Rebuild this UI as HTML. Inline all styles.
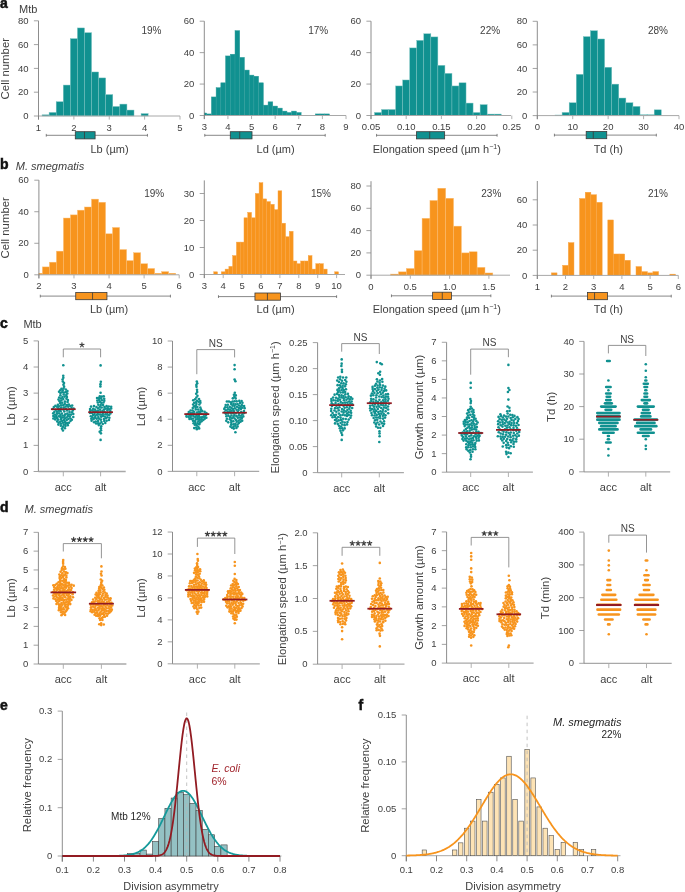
<!DOCTYPE html>
<html><head><meta charset="utf-8"><style>
html,body{margin:0;padding:0;background:#fff;}
body{width:685px;height:892px;overflow:hidden;}
svg{display:block;font-family:'Liberation Sans', sans-serif;will-change:transform;}
</style></head><body>
<svg width="685" height="892" viewBox="0 0 685 892">
<rect width="685" height="892" fill="#fff"/>
<rect x="42.04" y="114.81" width="7.07" height="1.19" fill="#109190" stroke="#7cc4c2" stroke-width="0.45"/>
<rect x="49.11" y="112.43" width="7.08" height="3.57" fill="#109190" stroke="#7cc4c2" stroke-width="0.45"/>
<rect x="56.19" y="101.72" width="7.08" height="14.28" fill="#109190" stroke="#7cc4c2" stroke-width="0.45"/>
<rect x="63.26" y="85.06" width="7.08" height="30.94" fill="#109190" stroke="#7cc4c2" stroke-width="0.45"/>
<rect x="70.34" y="38.65" width="7.07" height="77.35" fill="#109190" stroke="#7cc4c2" stroke-width="0.45"/>
<rect x="77.41" y="27.94" width="7.08" height="88.06" fill="#109190" stroke="#7cc4c2" stroke-width="0.45"/>
<rect x="84.49" y="32.70" width="7.07" height="83.30" fill="#109190" stroke="#7cc4c2" stroke-width="0.45"/>
<rect x="91.56" y="71.97" width="7.08" height="44.03" fill="#109190" stroke="#7cc4c2" stroke-width="0.45"/>
<rect x="98.64" y="77.92" width="7.08" height="38.08" fill="#109190" stroke="#7cc4c2" stroke-width="0.45"/>
<rect x="105.71" y="94.58" width="7.08" height="21.42" fill="#109190" stroke="#7cc4c2" stroke-width="0.45"/>
<rect x="112.79" y="106.48" width="7.08" height="9.52" fill="#109190" stroke="#7cc4c2" stroke-width="0.45"/>
<rect x="119.86" y="104.10" width="7.08" height="11.90" fill="#109190" stroke="#7cc4c2" stroke-width="0.45"/>
<rect x="126.94" y="110.05" width="7.07" height="5.95" fill="#109190" stroke="#7cc4c2" stroke-width="0.45"/>
<rect x="141.09" y="113.62" width="7.07" height="2.38" fill="#109190" stroke="#7cc4c2" stroke-width="0.45"/>
<line x1="38.50" y1="116.00" x2="180.00" y2="116.00" stroke="#a8a8a8" stroke-width="1.0"/>
<line x1="38.50" y1="116.00" x2="38.50" y2="119.60" stroke="#a8a8a8" stroke-width="0.9"/>
<text x="38.50" y="130.60" font-size="9.5" text-anchor="middle" fill="#404040">1</text>
<line x1="73.88" y1="116.00" x2="73.88" y2="119.60" stroke="#a8a8a8" stroke-width="0.9"/>
<text x="73.88" y="130.60" font-size="9.5" text-anchor="middle" fill="#404040">2</text>
<line x1="109.25" y1="116.00" x2="109.25" y2="119.60" stroke="#a8a8a8" stroke-width="0.9"/>
<text x="109.25" y="130.60" font-size="9.5" text-anchor="middle" fill="#404040">3</text>
<line x1="144.62" y1="116.00" x2="144.62" y2="119.60" stroke="#a8a8a8" stroke-width="0.9"/>
<text x="144.62" y="130.60" font-size="9.5" text-anchor="middle" fill="#404040">4</text>
<line x1="180.00" y1="116.00" x2="180.00" y2="119.60" stroke="#a8a8a8" stroke-width="0.9"/>
<text x="180.00" y="130.60" font-size="9.5" text-anchor="middle" fill="#404040">5</text>
<line x1="38.50" y1="20.80" x2="38.50" y2="119.60" stroke="#707070" stroke-width="0.8"/>
<line x1="33.90" y1="116.00" x2="38.50" y2="116.00" stroke="#8c8c8c" stroke-width="0.8"/>
<text x="28.50" y="119.10" font-size="9.5" text-anchor="end" fill="#404040">0</text>
<line x1="33.90" y1="92.20" x2="38.50" y2="92.20" stroke="#8c8c8c" stroke-width="0.8"/>
<text x="28.50" y="95.30" font-size="9.5" text-anchor="end" fill="#404040">20</text>
<line x1="33.90" y1="68.40" x2="38.50" y2="68.40" stroke="#8c8c8c" stroke-width="0.8"/>
<text x="28.50" y="71.50" font-size="9.5" text-anchor="end" fill="#404040">40</text>
<line x1="33.90" y1="44.60" x2="38.50" y2="44.60" stroke="#8c8c8c" stroke-width="0.8"/>
<text x="28.50" y="47.70" font-size="9.5" text-anchor="end" fill="#404040">60</text>
<line x1="33.90" y1="20.80" x2="38.50" y2="20.80" stroke="#8c8c8c" stroke-width="0.8"/>
<text x="28.50" y="23.90" font-size="9.5" text-anchor="end" fill="#404040">80</text>
<line x1="46.28" y1="135.30" x2="147.45" y2="135.30" stroke="#555" stroke-width="0.7"/>
<line x1="46.28" y1="133.90" x2="46.28" y2="136.70" stroke="#555" stroke-width="0.7"/>
<line x1="147.45" y1="133.90" x2="147.45" y2="136.70" stroke="#555" stroke-width="0.7"/>
<rect x="75.29" y="131.70" width="19.81" height="7.2" fill="#109190" stroke="#3a3a3a" stroke-width="0.8"/>
<line x1="84.49" y1="131.70" x2="84.49" y2="138.90" stroke="#3a3a3a" stroke-width="0.8"/>
<text x="161.40" y="34.00" font-size="10" text-anchor="end" fill="#404040">19%</text>
<text x="109.50" y="152.50" font-size="11" text-anchor="middle" fill="#404040">Lb (µm)</text>
<rect x="204.30" y="112.99" width="2.36" height="2.51" fill="#109190" stroke="#2f9e9c" stroke-width="0.45"/>
<rect x="206.66" y="113.93" width="4.72" height="1.57" fill="#109190" stroke="#2f9e9c" stroke-width="0.45"/>
<rect x="211.39" y="96.95" width="4.72" height="18.55" fill="#109190" stroke="#2f9e9c" stroke-width="0.45"/>
<rect x="216.11" y="87.68" width="4.72" height="27.82" fill="#109190" stroke="#2f9e9c" stroke-width="0.45"/>
<rect x="220.83" y="82.81" width="4.72" height="32.69" fill="#109190" stroke="#2f9e9c" stroke-width="0.45"/>
<rect x="225.56" y="55.93" width="4.72" height="59.57" fill="#109190" stroke="#2f9e9c" stroke-width="0.45"/>
<rect x="230.28" y="54.21" width="4.72" height="61.29" fill="#109190" stroke="#2f9e9c" stroke-width="0.45"/>
<rect x="235.01" y="30.63" width="4.72" height="84.87" fill="#109190" stroke="#2f9e9c" stroke-width="0.45"/>
<rect x="239.73" y="57.35" width="4.72" height="58.15" fill="#109190" stroke="#2f9e9c" stroke-width="0.45"/>
<rect x="244.45" y="70.08" width="4.72" height="45.42" fill="#109190" stroke="#2f9e9c" stroke-width="0.45"/>
<rect x="249.18" y="75.11" width="4.72" height="40.39" fill="#109190" stroke="#2f9e9c" stroke-width="0.45"/>
<rect x="253.90" y="76.21" width="4.72" height="39.29" fill="#109190" stroke="#2f9e9c" stroke-width="0.45"/>
<rect x="258.63" y="82.81" width="4.72" height="32.69" fill="#109190" stroke="#2f9e9c" stroke-width="0.45"/>
<rect x="263.35" y="105.13" width="4.72" height="10.37" fill="#109190" stroke="#2f9e9c" stroke-width="0.45"/>
<rect x="268.07" y="101.83" width="4.72" height="13.67" fill="#109190" stroke="#2f9e9c" stroke-width="0.45"/>
<rect x="272.80" y="106.07" width="4.72" height="9.43" fill="#109190" stroke="#2f9e9c" stroke-width="0.45"/>
<rect x="277.52" y="108.11" width="4.72" height="7.39" fill="#109190" stroke="#2f9e9c" stroke-width="0.45"/>
<rect x="282.25" y="111.10" width="4.72" height="4.40" fill="#109190" stroke="#2f9e9c" stroke-width="0.45"/>
<rect x="286.97" y="112.51" width="4.72" height="2.99" fill="#109190" stroke="#2f9e9c" stroke-width="0.45"/>
<rect x="291.69" y="111.10" width="4.72" height="4.40" fill="#109190" stroke="#2f9e9c" stroke-width="0.45"/>
<rect x="296.42" y="112.51" width="4.72" height="2.99" fill="#109190" stroke="#2f9e9c" stroke-width="0.45"/>
<rect x="315.31" y="113.93" width="4.72" height="1.57" fill="#109190" stroke="#2f9e9c" stroke-width="0.45"/>
<rect x="320.04" y="113.93" width="4.72" height="1.57" fill="#109190" stroke="#2f9e9c" stroke-width="0.45"/>
<rect x="324.76" y="113.93" width="4.72" height="1.57" fill="#109190" stroke="#2f9e9c" stroke-width="0.45"/>
<line x1="204.30" y1="115.50" x2="346.00" y2="115.50" stroke="#a8a8a8" stroke-width="1.0"/>
<line x1="204.30" y1="115.50" x2="204.30" y2="119.10" stroke="#a8a8a8" stroke-width="0.9"/>
<text x="204.30" y="130.10" font-size="9.5" text-anchor="middle" fill="#404040">3</text>
<line x1="227.92" y1="115.50" x2="227.92" y2="119.10" stroke="#a8a8a8" stroke-width="0.9"/>
<text x="227.92" y="130.10" font-size="9.5" text-anchor="middle" fill="#404040">4</text>
<line x1="251.54" y1="115.50" x2="251.54" y2="119.10" stroke="#a8a8a8" stroke-width="0.9"/>
<text x="251.54" y="130.10" font-size="9.5" text-anchor="middle" fill="#404040">5</text>
<line x1="275.16" y1="115.50" x2="275.16" y2="119.10" stroke="#a8a8a8" stroke-width="0.9"/>
<text x="275.16" y="130.10" font-size="9.5" text-anchor="middle" fill="#404040">6</text>
<line x1="298.78" y1="115.50" x2="298.78" y2="119.10" stroke="#a8a8a8" stroke-width="0.9"/>
<text x="298.78" y="130.10" font-size="9.5" text-anchor="middle" fill="#404040">7</text>
<line x1="322.40" y1="115.50" x2="322.40" y2="119.10" stroke="#a8a8a8" stroke-width="0.9"/>
<text x="322.40" y="130.10" font-size="9.5" text-anchor="middle" fill="#404040">8</text>
<line x1="346.02" y1="115.50" x2="346.02" y2="119.10" stroke="#a8a8a8" stroke-width="0.9"/>
<text x="346.02" y="130.10" font-size="9.5" text-anchor="middle" fill="#404040">9</text>
<line x1="204.30" y1="21.20" x2="204.30" y2="119.10" stroke="#707070" stroke-width="0.8"/>
<line x1="199.70" y1="115.50" x2="204.30" y2="115.50" stroke="#8c8c8c" stroke-width="0.8"/>
<text x="194.30" y="118.60" font-size="9.5" text-anchor="end" fill="#404040">0</text>
<line x1="199.70" y1="84.07" x2="204.30" y2="84.07" stroke="#8c8c8c" stroke-width="0.8"/>
<text x="194.30" y="87.17" font-size="9.5" text-anchor="end" fill="#404040">20</text>
<line x1="199.70" y1="52.63" x2="204.30" y2="52.63" stroke="#8c8c8c" stroke-width="0.8"/>
<text x="194.30" y="55.73" font-size="9.5" text-anchor="end" fill="#404040">40</text>
<line x1="199.70" y1="21.20" x2="204.30" y2="21.20" stroke="#8c8c8c" stroke-width="0.8"/>
<text x="194.30" y="24.30" font-size="9.5" text-anchor="end" fill="#404040">60</text>
<line x1="204.77" y1="135.30" x2="325.23" y2="135.30" stroke="#555" stroke-width="0.7"/>
<line x1="204.77" y1="133.90" x2="204.77" y2="136.70" stroke="#555" stroke-width="0.7"/>
<line x1="325.23" y1="133.90" x2="325.23" y2="136.70" stroke="#555" stroke-width="0.7"/>
<rect x="230.28" y="131.70" width="21.73" height="7.2" fill="#109190" stroke="#3a3a3a" stroke-width="0.8"/>
<line x1="239.73" y1="131.70" x2="239.73" y2="138.90" stroke="#3a3a3a" stroke-width="0.8"/>
<text x="328.20" y="34.00" font-size="10" text-anchor="end" fill="#404040">17%</text>
<text x="275.60" y="152.50" font-size="11" text-anchor="middle" fill="#404040">Ld (µm)</text>
<rect x="374.52" y="112.51" width="7.04" height="2.99" fill="#109190" stroke="#7cc4c2" stroke-width="0.45"/>
<rect x="381.56" y="109.53" width="7.04" height="5.97" fill="#109190" stroke="#7cc4c2" stroke-width="0.45"/>
<rect x="388.60" y="109.53" width="7.04" height="5.97" fill="#109190" stroke="#7cc4c2" stroke-width="0.45"/>
<rect x="395.64" y="85.95" width="7.04" height="29.55" fill="#109190" stroke="#7cc4c2" stroke-width="0.45"/>
<rect x="402.68" y="79.98" width="7.04" height="35.52" fill="#109190" stroke="#7cc4c2" stroke-width="0.45"/>
<rect x="409.72" y="47.92" width="7.04" height="67.58" fill="#109190" stroke="#7cc4c2" stroke-width="0.45"/>
<rect x="416.76" y="40.37" width="7.04" height="75.13" fill="#109190" stroke="#7cc4c2" stroke-width="0.45"/>
<rect x="423.80" y="33.77" width="7.04" height="81.73" fill="#109190" stroke="#7cc4c2" stroke-width="0.45"/>
<rect x="430.84" y="36.92" width="7.04" height="78.58" fill="#109190" stroke="#7cc4c2" stroke-width="0.45"/>
<rect x="437.88" y="65.36" width="7.04" height="50.14" fill="#109190" stroke="#7cc4c2" stroke-width="0.45"/>
<rect x="444.92" y="73.38" width="7.04" height="42.12" fill="#109190" stroke="#7cc4c2" stroke-width="0.45"/>
<rect x="451.96" y="85.95" width="7.04" height="29.55" fill="#109190" stroke="#7cc4c2" stroke-width="0.45"/>
<rect x="459.00" y="82.81" width="7.04" height="32.69" fill="#109190" stroke="#7cc4c2" stroke-width="0.45"/>
<rect x="466.04" y="103.08" width="7.04" height="12.42" fill="#109190" stroke="#7cc4c2" stroke-width="0.45"/>
<rect x="473.08" y="112.51" width="7.04" height="2.99" fill="#109190" stroke="#7cc4c2" stroke-width="0.45"/>
<rect x="480.12" y="104.66" width="7.04" height="10.84" fill="#109190" stroke="#7cc4c2" stroke-width="0.45"/>
<rect x="487.16" y="114.09" width="7.04" height="1.41" fill="#109190" stroke="#7cc4c2" stroke-width="0.45"/>
<rect x="494.20" y="114.09" width="7.04" height="1.41" fill="#109190" stroke="#7cc4c2" stroke-width="0.45"/>
<line x1="371.00" y1="115.50" x2="511.00" y2="115.50" stroke="#a8a8a8" stroke-width="1.0"/>
<line x1="371.00" y1="115.50" x2="371.00" y2="119.10" stroke="#a8a8a8" stroke-width="0.9"/>
<text x="371.00" y="130.10" font-size="9.5" text-anchor="middle" fill="#404040">0.05</text>
<line x1="406.20" y1="115.50" x2="406.20" y2="119.10" stroke="#a8a8a8" stroke-width="0.9"/>
<text x="406.20" y="130.10" font-size="9.5" text-anchor="middle" fill="#404040">0.10</text>
<line x1="441.40" y1="115.50" x2="441.40" y2="119.10" stroke="#a8a8a8" stroke-width="0.9"/>
<text x="441.40" y="130.10" font-size="9.5" text-anchor="middle" fill="#404040">0.15</text>
<line x1="476.60" y1="115.50" x2="476.60" y2="119.10" stroke="#a8a8a8" stroke-width="0.9"/>
<text x="476.60" y="130.10" font-size="9.5" text-anchor="middle" fill="#404040">0.20</text>
<line x1="511.80" y1="115.50" x2="511.80" y2="119.10" stroke="#a8a8a8" stroke-width="0.9"/>
<text x="511.80" y="130.10" font-size="9.5" text-anchor="middle" fill="#404040">0.25</text>
<line x1="371.00" y1="21.20" x2="371.00" y2="119.10" stroke="#707070" stroke-width="0.8"/>
<line x1="366.40" y1="115.50" x2="371.00" y2="115.50" stroke="#8c8c8c" stroke-width="0.8"/>
<text x="361.00" y="118.60" font-size="9.5" text-anchor="end" fill="#404040">0</text>
<line x1="366.40" y1="84.07" x2="371.00" y2="84.07" stroke="#8c8c8c" stroke-width="0.8"/>
<text x="361.00" y="87.17" font-size="9.5" text-anchor="end" fill="#404040">20</text>
<line x1="366.40" y1="52.63" x2="371.00" y2="52.63" stroke="#8c8c8c" stroke-width="0.8"/>
<text x="361.00" y="55.73" font-size="9.5" text-anchor="end" fill="#404040">40</text>
<line x1="366.40" y1="21.20" x2="371.00" y2="21.20" stroke="#8c8c8c" stroke-width="0.8"/>
<text x="361.00" y="24.30" font-size="9.5" text-anchor="end" fill="#404040">60</text>
<line x1="376.56" y1="135.30" x2="497.09" y2="135.30" stroke="#555" stroke-width="0.7"/>
<line x1="376.56" y1="133.90" x2="376.56" y2="136.70" stroke="#555" stroke-width="0.7"/>
<line x1="497.09" y1="133.90" x2="497.09" y2="136.70" stroke="#555" stroke-width="0.7"/>
<rect x="416.48" y="131.70" width="28.16" height="7.2" fill="#109190" stroke="#3a3a3a" stroke-width="0.8"/>
<line x1="429.71" y1="131.70" x2="429.71" y2="138.90" stroke="#3a3a3a" stroke-width="0.8"/>
<text x="500.10" y="34.00" font-size="10" text-anchor="end" fill="#404040">22%</text>
<text x="436.80" y="152.50" font-size="11" text-anchor="middle" fill="#404040">Elongation speed (µm h<tspan dy="-3.5" font-size="7">−1</tspan><tspan dy="3.5">)</tspan></text>
<rect x="555.01" y="115.01" width="7.09" height="0.59" fill="#109190" stroke="#7cc4c2" stroke-width="0.45"/>
<rect x="562.10" y="112.42" width="7.09" height="3.18" fill="#109190" stroke="#7cc4c2" stroke-width="0.45"/>
<rect x="569.18" y="102.75" width="7.08" height="12.85" fill="#109190" stroke="#7cc4c2" stroke-width="0.45"/>
<rect x="576.27" y="74.34" width="7.09" height="41.26" fill="#109190" stroke="#7cc4c2" stroke-width="0.45"/>
<rect x="583.35" y="36.62" width="7.09" height="78.98" fill="#109190" stroke="#7cc4c2" stroke-width="0.45"/>
<rect x="590.44" y="30.73" width="7.08" height="84.87" fill="#109190" stroke="#7cc4c2" stroke-width="0.45"/>
<rect x="597.52" y="38.98" width="7.09" height="76.62" fill="#109190" stroke="#7cc4c2" stroke-width="0.45"/>
<rect x="604.61" y="67.27" width="7.09" height="48.33" fill="#109190" stroke="#7cc4c2" stroke-width="0.45"/>
<rect x="611.69" y="84.13" width="7.08" height="31.47" fill="#109190" stroke="#7cc4c2" stroke-width="0.45"/>
<rect x="618.78" y="98.04" width="7.09" height="17.56" fill="#109190" stroke="#7cc4c2" stroke-width="0.45"/>
<rect x="625.86" y="102.75" width="7.09" height="12.85" fill="#109190" stroke="#7cc4c2" stroke-width="0.45"/>
<rect x="632.95" y="106.41" width="7.08" height="9.19" fill="#109190" stroke="#7cc4c2" stroke-width="0.45"/>
<rect x="640.03" y="114.77" width="7.09" height="0.83" fill="#109190" stroke="#7cc4c2" stroke-width="0.45"/>
<rect x="647.12" y="114.77" width="7.09" height="0.83" fill="#109190" stroke="#7cc4c2" stroke-width="0.45"/>
<rect x="654.20" y="109.82" width="7.08" height="5.78" fill="#109190" stroke="#7cc4c2" stroke-width="0.45"/>
<line x1="537.30" y1="115.60" x2="679.00" y2="115.60" stroke="#a8a8a8" stroke-width="1.0"/>
<line x1="537.30" y1="115.60" x2="537.30" y2="119.20" stroke="#a8a8a8" stroke-width="0.9"/>
<text x="537.30" y="130.20" font-size="9.5" text-anchor="middle" fill="#404040">0</text>
<line x1="572.72" y1="115.60" x2="572.72" y2="119.20" stroke="#a8a8a8" stroke-width="0.9"/>
<text x="572.72" y="130.20" font-size="9.5" text-anchor="middle" fill="#404040">10</text>
<line x1="608.15" y1="115.60" x2="608.15" y2="119.20" stroke="#a8a8a8" stroke-width="0.9"/>
<text x="608.15" y="130.20" font-size="9.5" text-anchor="middle" fill="#404040">20</text>
<line x1="643.57" y1="115.60" x2="643.57" y2="119.20" stroke="#a8a8a8" stroke-width="0.9"/>
<text x="643.57" y="130.20" font-size="9.5" text-anchor="middle" fill="#404040">30</text>
<line x1="679.00" y1="115.60" x2="679.00" y2="119.20" stroke="#a8a8a8" stroke-width="0.9"/>
<text x="679.00" y="130.20" font-size="9.5" text-anchor="middle" fill="#404040">40</text>
<line x1="537.30" y1="21.30" x2="537.30" y2="119.20" stroke="#707070" stroke-width="0.8"/>
<line x1="532.70" y1="115.60" x2="537.30" y2="115.60" stroke="#8c8c8c" stroke-width="0.8"/>
<text x="527.30" y="118.70" font-size="9.5" text-anchor="end" fill="#404040">0</text>
<line x1="532.70" y1="92.02" x2="537.30" y2="92.02" stroke="#8c8c8c" stroke-width="0.8"/>
<text x="527.30" y="95.12" font-size="9.5" text-anchor="end" fill="#404040">20</text>
<line x1="532.70" y1="68.45" x2="537.30" y2="68.45" stroke="#8c8c8c" stroke-width="0.8"/>
<text x="527.30" y="71.55" font-size="9.5" text-anchor="end" fill="#404040">40</text>
<line x1="532.70" y1="44.88" x2="537.30" y2="44.88" stroke="#8c8c8c" stroke-width="0.8"/>
<text x="527.30" y="47.98" font-size="9.5" text-anchor="end" fill="#404040">60</text>
<line x1="532.70" y1="21.30" x2="537.30" y2="21.30" stroke="#8c8c8c" stroke-width="0.8"/>
<text x="527.30" y="24.40" font-size="9.5" text-anchor="end" fill="#404040">80</text>
<line x1="554.41" y1="135.10" x2="656.33" y2="135.10" stroke="#555" stroke-width="0.7"/>
<line x1="554.41" y1="133.70" x2="554.41" y2="136.50" stroke="#555" stroke-width="0.7"/>
<line x1="656.33" y1="133.70" x2="656.33" y2="136.50" stroke="#555" stroke-width="0.7"/>
<rect x="586.19" y="131.50" width="20.55" height="7.2" fill="#109190" stroke="#3a3a3a" stroke-width="0.8"/>
<line x1="593.27" y1="131.50" x2="593.27" y2="138.70" stroke="#3a3a3a" stroke-width="0.8"/>
<text x="668.00" y="34.00" font-size="10" text-anchor="end" fill="#404040">28%</text>
<text x="608.30" y="152.50" font-size="11" text-anchor="middle" fill="#404040">Td (h)</text>
<rect x="38.90" y="273.22" width="3.51" height="1.58" fill="#f7941d" stroke="#fbbd72" stroke-width="0.45"/>
<rect x="42.41" y="266.92" width="7.02" height="7.88" fill="#f7941d" stroke="#fbbd72" stroke-width="0.45"/>
<rect x="49.42" y="262.19" width="7.01" height="12.61" fill="#f7941d" stroke="#fbbd72" stroke-width="0.45"/>
<rect x="56.44" y="251.15" width="7.02" height="23.65" fill="#f7941d" stroke="#fbbd72" stroke-width="0.45"/>
<rect x="63.45" y="218.04" width="7.02" height="56.76" fill="#f7941d" stroke="#fbbd72" stroke-width="0.45"/>
<rect x="70.47" y="214.89" width="7.01" height="59.91" fill="#f7941d" stroke="#fbbd72" stroke-width="0.45"/>
<rect x="77.48" y="210.16" width="7.02" height="64.64" fill="#f7941d" stroke="#fbbd72" stroke-width="0.45"/>
<rect x="84.50" y="207.00" width="7.02" height="67.80" fill="#f7941d" stroke="#fbbd72" stroke-width="0.45"/>
<rect x="91.51" y="199.12" width="7.02" height="75.68" fill="#f7941d" stroke="#fbbd72" stroke-width="0.45"/>
<rect x="98.53" y="202.27" width="7.02" height="72.53" fill="#f7941d" stroke="#fbbd72" stroke-width="0.45"/>
<rect x="105.54" y="233.81" width="7.01" height="40.99" fill="#f7941d" stroke="#fbbd72" stroke-width="0.45"/>
<rect x="112.56" y="227.50" width="7.02" height="47.30" fill="#f7941d" stroke="#fbbd72" stroke-width="0.45"/>
<rect x="119.57" y="249.57" width="7.01" height="25.23" fill="#f7941d" stroke="#fbbd72" stroke-width="0.45"/>
<rect x="126.59" y="260.61" width="7.02" height="14.19" fill="#f7941d" stroke="#fbbd72" stroke-width="0.45"/>
<rect x="133.60" y="252.73" width="7.01" height="22.07" fill="#f7941d" stroke="#fbbd72" stroke-width="0.45"/>
<rect x="140.62" y="263.76" width="7.01" height="11.04" fill="#f7941d" stroke="#fbbd72" stroke-width="0.45"/>
<rect x="147.63" y="268.49" width="7.02" height="6.31" fill="#f7941d" stroke="#fbbd72" stroke-width="0.45"/>
<rect x="154.65" y="273.22" width="7.01" height="1.58" fill="#f7941d" stroke="#fbbd72" stroke-width="0.45"/>
<rect x="161.66" y="271.65" width="7.01" height="3.15" fill="#f7941d" stroke="#fbbd72" stroke-width="0.45"/>
<rect x="168.68" y="273.22" width="7.02" height="1.58" fill="#f7941d" stroke="#fbbd72" stroke-width="0.45"/>
<line x1="38.90" y1="274.80" x2="179.20" y2="274.80" stroke="#a8a8a8" stroke-width="1.0"/>
<line x1="38.90" y1="274.80" x2="38.90" y2="278.40" stroke="#a8a8a8" stroke-width="0.9"/>
<text x="38.90" y="289.40" font-size="9.5" text-anchor="middle" fill="#404040">2</text>
<line x1="73.97" y1="274.80" x2="73.97" y2="278.40" stroke="#a8a8a8" stroke-width="0.9"/>
<text x="73.97" y="289.40" font-size="9.5" text-anchor="middle" fill="#404040">3</text>
<line x1="109.05" y1="274.80" x2="109.05" y2="278.40" stroke="#a8a8a8" stroke-width="0.9"/>
<text x="109.05" y="289.40" font-size="9.5" text-anchor="middle" fill="#404040">4</text>
<line x1="144.12" y1="274.80" x2="144.12" y2="278.40" stroke="#a8a8a8" stroke-width="0.9"/>
<text x="144.12" y="289.40" font-size="9.5" text-anchor="middle" fill="#404040">5</text>
<line x1="179.20" y1="274.80" x2="179.20" y2="278.40" stroke="#a8a8a8" stroke-width="0.9"/>
<text x="179.20" y="289.40" font-size="9.5" text-anchor="middle" fill="#404040">6</text>
<line x1="38.90" y1="180.20" x2="38.90" y2="278.40" stroke="#707070" stroke-width="0.8"/>
<line x1="34.30" y1="274.80" x2="38.90" y2="274.80" stroke="#8c8c8c" stroke-width="0.8"/>
<text x="28.90" y="277.90" font-size="9.5" text-anchor="end" fill="#404040">0</text>
<line x1="34.30" y1="243.27" x2="38.90" y2="243.27" stroke="#8c8c8c" stroke-width="0.8"/>
<text x="28.90" y="246.37" font-size="9.5" text-anchor="end" fill="#404040">20</text>
<line x1="34.30" y1="211.73" x2="38.90" y2="211.73" stroke="#8c8c8c" stroke-width="0.8"/>
<text x="28.90" y="214.83" font-size="9.5" text-anchor="end" fill="#404040">40</text>
<line x1="34.30" y1="180.20" x2="38.90" y2="180.20" stroke="#8c8c8c" stroke-width="0.8"/>
<text x="28.90" y="183.30" font-size="9.5" text-anchor="end" fill="#404040">60</text>
<line x1="40.30" y1="296.10" x2="170.43" y2="296.10" stroke="#555" stroke-width="0.7"/>
<line x1="40.30" y1="294.70" x2="40.30" y2="297.50" stroke="#555" stroke-width="0.7"/>
<line x1="170.43" y1="294.70" x2="170.43" y2="297.50" stroke="#555" stroke-width="0.7"/>
<rect x="75.73" y="292.50" width="31.22" height="7.2" fill="#f7941d" stroke="#3a3a3a" stroke-width="0.8"/>
<line x1="92.56" y1="292.50" x2="92.56" y2="299.70" stroke="#3a3a3a" stroke-width="0.8"/>
<text x="164.20" y="196.80" font-size="10" text-anchor="end" fill="#404040">19%</text>
<text x="109.00" y="312.50" font-size="11" text-anchor="middle" fill="#404040">Lb (µm)</text>
<rect x="213.75" y="271.80" width="3.78" height="2.70" fill="#f7941d" stroke="#f8a444" stroke-width="0.45"/>
<rect x="221.31" y="271.80" width="3.78" height="2.70" fill="#f7941d" stroke="#f8a444" stroke-width="0.45"/>
<rect x="225.09" y="269.10" width="3.78" height="5.40" fill="#f7941d" stroke="#f8a444" stroke-width="0.45"/>
<rect x="228.87" y="266.40" width="3.78" height="8.10" fill="#f7941d" stroke="#f8a444" stroke-width="0.45"/>
<rect x="232.65" y="255.60" width="3.78" height="18.90" fill="#f7941d" stroke="#f8a444" stroke-width="0.45"/>
<rect x="236.43" y="242.10" width="3.78" height="32.40" fill="#f7941d" stroke="#f8a444" stroke-width="0.45"/>
<rect x="240.21" y="242.10" width="3.78" height="32.40" fill="#f7941d" stroke="#f8a444" stroke-width="0.45"/>
<rect x="243.99" y="217.80" width="3.78" height="56.70" fill="#f7941d" stroke="#f8a444" stroke-width="0.45"/>
<rect x="247.77" y="212.40" width="3.78" height="62.10" fill="#f7941d" stroke="#f8a444" stroke-width="0.45"/>
<rect x="251.55" y="217.80" width="3.78" height="56.70" fill="#f7941d" stroke="#f8a444" stroke-width="0.45"/>
<rect x="255.33" y="193.50" width="3.78" height="81.00" fill="#f7941d" stroke="#f8a444" stroke-width="0.45"/>
<rect x="259.11" y="182.70" width="3.78" height="91.80" fill="#f7941d" stroke="#f8a444" stroke-width="0.45"/>
<rect x="262.89" y="198.90" width="3.78" height="75.60" fill="#f7941d" stroke="#f8a444" stroke-width="0.45"/>
<rect x="266.67" y="201.60" width="3.78" height="72.90" fill="#f7941d" stroke="#f8a444" stroke-width="0.45"/>
<rect x="270.45" y="204.30" width="3.78" height="70.20" fill="#f7941d" stroke="#f8a444" stroke-width="0.45"/>
<rect x="274.23" y="209.70" width="3.78" height="64.80" fill="#f7941d" stroke="#f8a444" stroke-width="0.45"/>
<rect x="278.01" y="190.80" width="3.78" height="83.70" fill="#f7941d" stroke="#f8a444" stroke-width="0.45"/>
<rect x="281.79" y="223.20" width="3.78" height="51.30" fill="#f7941d" stroke="#f8a444" stroke-width="0.45"/>
<rect x="285.57" y="236.70" width="3.78" height="37.80" fill="#f7941d" stroke="#f8a444" stroke-width="0.45"/>
<rect x="289.35" y="231.30" width="3.78" height="43.20" fill="#f7941d" stroke="#f8a444" stroke-width="0.45"/>
<rect x="293.13" y="261.00" width="3.78" height="13.50" fill="#f7941d" stroke="#f8a444" stroke-width="0.45"/>
<rect x="296.91" y="263.70" width="3.78" height="10.80" fill="#f7941d" stroke="#f8a444" stroke-width="0.45"/>
<rect x="300.69" y="261.00" width="3.78" height="13.50" fill="#f7941d" stroke="#f8a444" stroke-width="0.45"/>
<rect x="304.47" y="261.00" width="3.78" height="13.50" fill="#f7941d" stroke="#f8a444" stroke-width="0.45"/>
<rect x="308.25" y="255.60" width="3.78" height="18.90" fill="#f7941d" stroke="#f8a444" stroke-width="0.45"/>
<rect x="312.03" y="269.10" width="3.78" height="5.40" fill="#f7941d" stroke="#f8a444" stroke-width="0.45"/>
<rect x="315.81" y="263.70" width="3.78" height="10.80" fill="#f7941d" stroke="#f8a444" stroke-width="0.45"/>
<rect x="319.59" y="263.70" width="3.78" height="10.80" fill="#f7941d" stroke="#f8a444" stroke-width="0.45"/>
<rect x="323.37" y="269.10" width="3.78" height="5.40" fill="#f7941d" stroke="#f8a444" stroke-width="0.45"/>
<rect x="334.71" y="271.80" width="3.78" height="2.70" fill="#f7941d" stroke="#f8a444" stroke-width="0.45"/>
<line x1="204.30" y1="274.50" x2="345.00" y2="274.50" stroke="#a8a8a8" stroke-width="1.0"/>
<line x1="204.30" y1="274.50" x2="204.30" y2="278.10" stroke="#a8a8a8" stroke-width="0.9"/>
<text x="204.30" y="289.10" font-size="9.5" text-anchor="middle" fill="#404040">3</text>
<line x1="223.20" y1="274.50" x2="223.20" y2="278.10" stroke="#a8a8a8" stroke-width="0.9"/>
<text x="223.20" y="289.10" font-size="9.5" text-anchor="middle" fill="#404040">4</text>
<line x1="242.10" y1="274.50" x2="242.10" y2="278.10" stroke="#a8a8a8" stroke-width="0.9"/>
<text x="242.10" y="289.10" font-size="9.5" text-anchor="middle" fill="#404040">5</text>
<line x1="261.00" y1="274.50" x2="261.00" y2="278.10" stroke="#a8a8a8" stroke-width="0.9"/>
<text x="261.00" y="289.10" font-size="9.5" text-anchor="middle" fill="#404040">6</text>
<line x1="279.90" y1="274.50" x2="279.90" y2="278.10" stroke="#a8a8a8" stroke-width="0.9"/>
<text x="279.90" y="289.10" font-size="9.5" text-anchor="middle" fill="#404040">7</text>
<line x1="298.80" y1="274.50" x2="298.80" y2="278.10" stroke="#a8a8a8" stroke-width="0.9"/>
<text x="298.80" y="289.10" font-size="9.5" text-anchor="middle" fill="#404040">8</text>
<line x1="317.70" y1="274.50" x2="317.70" y2="278.10" stroke="#a8a8a8" stroke-width="0.9"/>
<text x="317.70" y="289.10" font-size="9.5" text-anchor="middle" fill="#404040">9</text>
<line x1="336.60" y1="274.50" x2="336.60" y2="278.10" stroke="#a8a8a8" stroke-width="0.9"/>
<text x="336.60" y="289.10" font-size="9.5" text-anchor="middle" fill="#404040">10</text>
<line x1="204.30" y1="180.40" x2="204.30" y2="278.10" stroke="#707070" stroke-width="0.8"/>
<line x1="199.70" y1="274.50" x2="204.30" y2="274.50" stroke="#8c8c8c" stroke-width="0.8"/>
<text x="194.30" y="277.60" font-size="9.5" text-anchor="end" fill="#404040">0</text>
<line x1="199.70" y1="247.50" x2="204.30" y2="247.50" stroke="#8c8c8c" stroke-width="0.8"/>
<text x="194.30" y="250.60" font-size="9.5" text-anchor="end" fill="#404040">10</text>
<line x1="199.70" y1="220.50" x2="204.30" y2="220.50" stroke="#8c8c8c" stroke-width="0.8"/>
<text x="194.30" y="223.60" font-size="9.5" text-anchor="end" fill="#404040">20</text>
<line x1="199.70" y1="193.50" x2="204.30" y2="193.50" stroke="#8c8c8c" stroke-width="0.8"/>
<text x="194.30" y="196.60" font-size="9.5" text-anchor="end" fill="#404040">30</text>
<line x1="218.48" y1="296.60" x2="336.60" y2="296.60" stroke="#555" stroke-width="0.7"/>
<line x1="218.48" y1="295.20" x2="218.48" y2="298.00" stroke="#555" stroke-width="0.7"/>
<line x1="336.60" y1="295.20" x2="336.60" y2="298.00" stroke="#555" stroke-width="0.7"/>
<rect x="254.95" y="293.00" width="25.51" height="7.2" fill="#f7941d" stroke="#3a3a3a" stroke-width="0.8"/>
<line x1="267.43" y1="293.00" x2="267.43" y2="300.20" stroke="#3a3a3a" stroke-width="0.8"/>
<text x="331.00" y="196.80" font-size="10" text-anchor="end" fill="#404040">15%</text>
<text x="275.60" y="312.50" font-size="11" text-anchor="middle" fill="#404040">Ld (µm)</text>
<rect x="390.65" y="274.08" width="7.86" height="1.12" fill="#f7941d" stroke="#fbbd72" stroke-width="0.45"/>
<rect x="398.51" y="271.85" width="7.86" height="3.35" fill="#f7941d" stroke="#fbbd72" stroke-width="0.45"/>
<rect x="406.37" y="268.51" width="7.86" height="6.69" fill="#f7941d" stroke="#fbbd72" stroke-width="0.45"/>
<rect x="414.23" y="250.67" width="7.86" height="24.53" fill="#f7941d" stroke="#fbbd72" stroke-width="0.45"/>
<rect x="422.09" y="218.33" width="7.86" height="56.87" fill="#f7941d" stroke="#fbbd72" stroke-width="0.45"/>
<rect x="429.95" y="200.50" width="7.86" height="74.70" fill="#f7941d" stroke="#fbbd72" stroke-width="0.45"/>
<rect x="437.81" y="188.23" width="7.86" height="86.97" fill="#f7941d" stroke="#fbbd72" stroke-width="0.45"/>
<rect x="445.67" y="198.26" width="7.86" height="76.94" fill="#f7941d" stroke="#fbbd72" stroke-width="0.45"/>
<rect x="453.53" y="226.14" width="7.86" height="49.06" fill="#f7941d" stroke="#fbbd72" stroke-width="0.45"/>
<rect x="461.39" y="252.90" width="7.86" height="22.30" fill="#f7941d" stroke="#fbbd72" stroke-width="0.45"/>
<rect x="469.25" y="251.78" width="7.86" height="23.41" fill="#f7941d" stroke="#fbbd72" stroke-width="0.45"/>
<rect x="477.11" y="267.39" width="7.86" height="7.81" fill="#f7941d" stroke="#fbbd72" stroke-width="0.45"/>
<rect x="484.97" y="272.97" width="7.86" height="2.23" fill="#f7941d" stroke="#fbbd72" stroke-width="0.45"/>
<line x1="371.00" y1="275.20" x2="510.00" y2="275.20" stroke="#a8a8a8" stroke-width="1.0"/>
<line x1="371.00" y1="275.20" x2="371.00" y2="278.80" stroke="#a8a8a8" stroke-width="0.9"/>
<text x="371.00" y="289.80" font-size="9.5" text-anchor="middle" fill="#404040">0</text>
<line x1="410.30" y1="275.20" x2="410.30" y2="278.80" stroke="#a8a8a8" stroke-width="0.9"/>
<text x="410.30" y="289.80" font-size="9.5" text-anchor="middle" fill="#404040">0.5</text>
<line x1="449.60" y1="275.20" x2="449.60" y2="278.80" stroke="#a8a8a8" stroke-width="0.9"/>
<text x="449.60" y="289.80" font-size="9.5" text-anchor="middle" fill="#404040">1.0</text>
<line x1="488.90" y1="275.20" x2="488.90" y2="278.80" stroke="#a8a8a8" stroke-width="0.9"/>
<text x="488.90" y="289.80" font-size="9.5" text-anchor="middle" fill="#404040">1.5</text>
<line x1="371.00" y1="181.20" x2="371.00" y2="278.80" stroke="#707070" stroke-width="0.8"/>
<line x1="366.40" y1="275.20" x2="371.00" y2="275.20" stroke="#8c8c8c" stroke-width="0.8"/>
<text x="361.00" y="278.30" font-size="9.5" text-anchor="end" fill="#404040">0</text>
<line x1="366.40" y1="252.90" x2="371.00" y2="252.90" stroke="#8c8c8c" stroke-width="0.8"/>
<text x="361.00" y="256.00" font-size="9.5" text-anchor="end" fill="#404040">20</text>
<line x1="366.40" y1="230.60" x2="371.00" y2="230.60" stroke="#8c8c8c" stroke-width="0.8"/>
<text x="361.00" y="233.70" font-size="9.5" text-anchor="end" fill="#404040">40</text>
<line x1="366.40" y1="208.30" x2="371.00" y2="208.30" stroke="#8c8c8c" stroke-width="0.8"/>
<text x="361.00" y="211.40" font-size="9.5" text-anchor="end" fill="#404040">60</text>
<line x1="366.40" y1="186.00" x2="371.00" y2="186.00" stroke="#8c8c8c" stroke-width="0.8"/>
<text x="361.00" y="189.10" font-size="9.5" text-anchor="end" fill="#404040">80</text>
<line x1="391.44" y1="295.80" x2="490.87" y2="295.80" stroke="#555" stroke-width="0.7"/>
<line x1="391.44" y1="294.40" x2="391.44" y2="297.20" stroke="#555" stroke-width="0.7"/>
<line x1="490.87" y1="294.40" x2="490.87" y2="297.20" stroke="#555" stroke-width="0.7"/>
<rect x="432.62" y="292.20" width="18.79" height="7.2" fill="#f7941d" stroke="#3a3a3a" stroke-width="0.8"/>
<line x1="442.29" y1="292.20" x2="442.29" y2="299.40" stroke="#3a3a3a" stroke-width="0.8"/>
<text x="501.30" y="196.80" font-size="10" text-anchor="end" fill="#404040">23%</text>
<text x="436.80" y="312.50" font-size="11" text-anchor="middle" fill="#404040">Elongation speed (µm h<tspan dy="-3.5" font-size="7">−1</tspan><tspan dy="3.5">)</tspan></text>
<rect x="551.40" y="272.88" width="5.64" height="2.52" fill="#f7941d" stroke="#f8a444" stroke-width="0.45"/>
<rect x="562.68" y="265.32" width="5.64" height="10.08" fill="#f7941d" stroke="#f8a444" stroke-width="0.45"/>
<rect x="568.32" y="242.64" width="5.64" height="32.76" fill="#f7941d" stroke="#f8a444" stroke-width="0.45"/>
<rect x="579.60" y="198.54" width="5.64" height="76.86" fill="#f7941d" stroke="#f8a444" stroke-width="0.45"/>
<rect x="585.24" y="192.24" width="5.64" height="83.16" fill="#f7941d" stroke="#f8a444" stroke-width="0.45"/>
<rect x="590.88" y="194.76" width="5.64" height="80.64" fill="#f7941d" stroke="#f8a444" stroke-width="0.45"/>
<rect x="596.52" y="202.32" width="5.64" height="73.08" fill="#f7941d" stroke="#f8a444" stroke-width="0.45"/>
<rect x="607.80" y="219.96" width="5.64" height="55.44" fill="#f7941d" stroke="#f8a444" stroke-width="0.45"/>
<rect x="613.44" y="253.98" width="5.64" height="21.42" fill="#f7941d" stroke="#f8a444" stroke-width="0.45"/>
<rect x="619.08" y="253.98" width="5.64" height="21.42" fill="#f7941d" stroke="#f8a444" stroke-width="0.45"/>
<rect x="624.72" y="260.28" width="5.64" height="15.12" fill="#f7941d" stroke="#f8a444" stroke-width="0.45"/>
<rect x="636.00" y="266.58" width="5.64" height="8.82" fill="#f7941d" stroke="#f8a444" stroke-width="0.45"/>
<rect x="641.64" y="271.62" width="5.64" height="3.78" fill="#f7941d" stroke="#f8a444" stroke-width="0.45"/>
<rect x="647.28" y="272.88" width="5.64" height="2.52" fill="#f7941d" stroke="#f8a444" stroke-width="0.45"/>
<rect x="652.92" y="271.62" width="5.64" height="3.78" fill="#f7941d" stroke="#f8a444" stroke-width="0.45"/>
<rect x="669.84" y="274.14" width="5.64" height="1.26" fill="#f7941d" stroke="#f8a444" stroke-width="0.45"/>
<line x1="537.30" y1="275.40" x2="678.40" y2="275.40" stroke="#a8a8a8" stroke-width="1.0"/>
<line x1="537.30" y1="275.40" x2="537.30" y2="279.00" stroke="#a8a8a8" stroke-width="0.9"/>
<text x="537.30" y="290.00" font-size="9.5" text-anchor="middle" fill="#404040">1</text>
<line x1="565.50" y1="275.40" x2="565.50" y2="279.00" stroke="#a8a8a8" stroke-width="0.9"/>
<text x="565.50" y="290.00" font-size="9.5" text-anchor="middle" fill="#404040">2</text>
<line x1="593.70" y1="275.40" x2="593.70" y2="279.00" stroke="#a8a8a8" stroke-width="0.9"/>
<text x="593.70" y="290.00" font-size="9.5" text-anchor="middle" fill="#404040">3</text>
<line x1="621.90" y1="275.40" x2="621.90" y2="279.00" stroke="#a8a8a8" stroke-width="0.9"/>
<text x="621.90" y="290.00" font-size="9.5" text-anchor="middle" fill="#404040">4</text>
<line x1="650.10" y1="275.40" x2="650.10" y2="279.00" stroke="#a8a8a8" stroke-width="0.9"/>
<text x="650.10" y="290.00" font-size="9.5" text-anchor="middle" fill="#404040">5</text>
<line x1="678.30" y1="275.40" x2="678.30" y2="279.00" stroke="#a8a8a8" stroke-width="0.9"/>
<text x="678.30" y="290.00" font-size="9.5" text-anchor="middle" fill="#404040">6</text>
<line x1="537.30" y1="181.00" x2="537.30" y2="279.00" stroke="#707070" stroke-width="0.8"/>
<line x1="532.70" y1="275.40" x2="537.30" y2="275.40" stroke="#8c8c8c" stroke-width="0.8"/>
<text x="527.30" y="278.50" font-size="9.5" text-anchor="end" fill="#404040">0</text>
<line x1="532.70" y1="250.20" x2="537.30" y2="250.20" stroke="#8c8c8c" stroke-width="0.8"/>
<text x="527.30" y="253.30" font-size="9.5" text-anchor="end" fill="#404040">20</text>
<line x1="532.70" y1="225.00" x2="537.30" y2="225.00" stroke="#8c8c8c" stroke-width="0.8"/>
<text x="527.30" y="228.10" font-size="9.5" text-anchor="end" fill="#404040">40</text>
<line x1="532.70" y1="199.80" x2="537.30" y2="199.80" stroke="#8c8c8c" stroke-width="0.8"/>
<text x="527.30" y="202.90" font-size="9.5" text-anchor="end" fill="#404040">60</text>
<line x1="551.40" y1="296.10" x2="671.25" y2="296.10" stroke="#555" stroke-width="0.7"/>
<line x1="551.40" y1="294.70" x2="551.40" y2="297.50" stroke="#555" stroke-width="0.7"/>
<line x1="671.25" y1="294.70" x2="671.25" y2="297.50" stroke="#555" stroke-width="0.7"/>
<rect x="587.50" y="292.50" width="20.02" height="7.2" fill="#f7941d" stroke="#3a3a3a" stroke-width="0.8"/>
<line x1="594.55" y1="292.50" x2="594.55" y2="299.70" stroke="#3a3a3a" stroke-width="0.8"/>
<text x="667.90" y="196.80" font-size="10" text-anchor="end" fill="#404040">21%</text>
<text x="608.30" y="312.50" font-size="11" text-anchor="middle" fill="#404040">Td (h)</text>
<text x="9.00" y="68.70" font-size="11.4" text-anchor="middle" fill="#404040" transform="rotate(-90 9.00 68.70)">Cell number</text>
<text x="9.00" y="227.80" font-size="11.4" text-anchor="middle" fill="#404040" transform="rotate(-90 9.00 227.80)">Cell number</text>
<line x1="38.40" y1="471.50" x2="125.70" y2="471.50" stroke="#a8a8a8" stroke-width="1.3"/>
<line x1="63.30" y1="471.50" x2="63.30" y2="476.30" stroke="#a8a8a8" stroke-width="0.9"/>
<text x="63.30" y="490.70" font-size="11" text-anchor="middle" fill="#404040">acc</text>
<line x1="100.60" y1="471.50" x2="100.60" y2="476.30" stroke="#a8a8a8" stroke-width="0.9"/>
<text x="100.60" y="490.70" font-size="11" text-anchor="middle" fill="#404040">alt</text>
<line x1="38.40" y1="340.90" x2="38.40" y2="471.50" stroke="#707070" stroke-width="0.8"/>
<line x1="33.60" y1="471.50" x2="38.40" y2="471.50" stroke="#8c8c8c" stroke-width="0.8"/>
<text x="28.40" y="474.60" font-size="9.5" text-anchor="end" fill="#404040">0</text>
<line x1="33.60" y1="445.38" x2="38.40" y2="445.38" stroke="#8c8c8c" stroke-width="0.8"/>
<text x="28.40" y="448.48" font-size="9.5" text-anchor="end" fill="#404040">1</text>
<line x1="33.60" y1="419.26" x2="38.40" y2="419.26" stroke="#8c8c8c" stroke-width="0.8"/>
<text x="28.40" y="422.36" font-size="9.5" text-anchor="end" fill="#404040">2</text>
<line x1="33.60" y1="393.14" x2="38.40" y2="393.14" stroke="#8c8c8c" stroke-width="0.8"/>
<text x="28.40" y="396.24" font-size="9.5" text-anchor="end" fill="#404040">3</text>
<line x1="33.60" y1="367.02" x2="38.40" y2="367.02" stroke="#8c8c8c" stroke-width="0.8"/>
<text x="28.40" y="370.12" font-size="9.5" text-anchor="end" fill="#404040">4</text>
<line x1="33.60" y1="340.90" x2="38.40" y2="340.90" stroke="#8c8c8c" stroke-width="0.8"/>
<text x="28.40" y="344.00" font-size="9.5" text-anchor="end" fill="#404040">5</text>
<polyline points="63.30,357.30 63.30,349.00 100.60,349.00 100.60,357.30" fill="none" stroke="#7a7a7a" stroke-width="0.8"/>
<path d="M81.95,345.00 L81.95,342.80 M81.95,345.00 L84.04,344.32 M81.95,345.00 L83.24,346.78 M81.95,345.00 L80.66,346.78 M81.95,345.00 L79.86,344.32" stroke="#383838" stroke-width="1.15" stroke-linecap="round" fill="none"/>
<text x="15.20" y="406.00" font-size="11.4" text-anchor="middle" fill="#404040" transform="rotate(-90 15.20 406.00)">Lb (µm)</text>
<circle cx="60.43" cy="393.02" r="1.3" fill="#109190"/>
<circle cx="54.44" cy="411.83" r="1.3" fill="#109190"/>
<circle cx="61.02" cy="405.21" r="1.3" fill="#109190"/>
<circle cx="63.31" cy="377.73" r="1.3" fill="#109190"/>
<circle cx="66.46" cy="398.81" r="1.3" fill="#109190"/>
<circle cx="62.84" cy="381.52" r="1.3" fill="#109190"/>
<circle cx="72.79" cy="410.48" r="1.3" fill="#109190"/>
<circle cx="61.24" cy="407.58" r="1.3" fill="#109190"/>
<circle cx="62.94" cy="430.53" r="1.3" fill="#109190"/>
<circle cx="60.91" cy="423.76" r="1.3" fill="#109190"/>
<circle cx="65.96" cy="392.14" r="1.3" fill="#109190"/>
<circle cx="63.44" cy="384.79" r="1.3" fill="#109190"/>
<circle cx="60.62" cy="411.14" r="1.3" fill="#109190"/>
<circle cx="55.35" cy="405.90" r="1.3" fill="#109190"/>
<circle cx="61.80" cy="413.52" r="1.3" fill="#109190"/>
<circle cx="64.01" cy="392.46" r="1.3" fill="#109190"/>
<circle cx="61.37" cy="400.46" r="1.3" fill="#109190"/>
<circle cx="66.70" cy="420.08" r="1.3" fill="#109190"/>
<circle cx="63.52" cy="388.44" r="1.3" fill="#109190"/>
<circle cx="68.83" cy="404.60" r="1.3" fill="#109190"/>
<circle cx="58.91" cy="416.34" r="1.3" fill="#109190"/>
<circle cx="64.88" cy="418.36" r="1.3" fill="#109190"/>
<circle cx="65.25" cy="414.38" r="1.3" fill="#109190"/>
<circle cx="68.95" cy="422.70" r="1.3" fill="#109190"/>
<circle cx="64.89" cy="401.66" r="1.3" fill="#109190"/>
<circle cx="60.28" cy="421.66" r="1.3" fill="#109190"/>
<circle cx="64.70" cy="396.58" r="1.3" fill="#109190"/>
<circle cx="63.24" cy="375.70" r="1.3" fill="#109190"/>
<circle cx="70.31" cy="405.99" r="1.3" fill="#109190"/>
<circle cx="62.69" cy="390.41" r="1.3" fill="#109190"/>
<circle cx="66.28" cy="395.03" r="1.3" fill="#109190"/>
<circle cx="58.39" cy="408.27" r="1.3" fill="#109190"/>
<circle cx="64.80" cy="404.04" r="1.3" fill="#109190"/>
<circle cx="65.43" cy="426.12" r="1.3" fill="#109190"/>
<circle cx="62.44" cy="396.96" r="1.3" fill="#109190"/>
<circle cx="55.75" cy="409.71" r="1.3" fill="#109190"/>
<circle cx="60.40" cy="395.34" r="1.3" fill="#109190"/>
<circle cx="57.86" cy="404.77" r="1.3" fill="#109190"/>
<circle cx="65.46" cy="424.04" r="1.3" fill="#109190"/>
<circle cx="70.48" cy="421.06" r="1.3" fill="#109190"/>
<circle cx="64.91" cy="428.28" r="1.3" fill="#109190"/>
<circle cx="63.04" cy="422.73" r="1.3" fill="#109190"/>
<circle cx="69.50" cy="411.95" r="1.3" fill="#109190"/>
<circle cx="62.83" cy="417.53" r="1.3" fill="#109190"/>
<circle cx="56.48" cy="416.08" r="1.3" fill="#109190"/>
<circle cx="63.68" cy="394.55" r="1.3" fill="#109190"/>
<circle cx="71.52" cy="407.94" r="1.3" fill="#109190"/>
<circle cx="64.47" cy="416.10" r="1.3" fill="#109190"/>
<circle cx="68.25" cy="406.70" r="1.3" fill="#109190"/>
<circle cx="62.95" cy="426.87" r="1.3" fill="#109190"/>
<circle cx="63.42" cy="409.62" r="1.3" fill="#109190"/>
<circle cx="67.56" cy="401.89" r="1.3" fill="#109190"/>
<circle cx="71.08" cy="414.61" r="1.3" fill="#109190"/>
<circle cx="58.69" cy="422.70" r="1.3" fill="#109190"/>
<circle cx="67.76" cy="425.16" r="1.3" fill="#109190"/>
<circle cx="53.37" cy="415.92" r="1.3" fill="#109190"/>
<circle cx="71.83" cy="419.73" r="1.3" fill="#109190"/>
<circle cx="64.00" cy="382.99" r="1.3" fill="#109190"/>
<circle cx="62.57" cy="379.54" r="1.3" fill="#109190"/>
<circle cx="60.19" cy="403.16" r="1.3" fill="#109190"/>
<circle cx="61.47" cy="388.80" r="1.3" fill="#109190"/>
<circle cx="73.27" cy="413.95" r="1.3" fill="#109190"/>
<circle cx="65.77" cy="389.54" r="1.3" fill="#109190"/>
<circle cx="62.09" cy="392.20" r="1.3" fill="#109190"/>
<circle cx="66.64" cy="417.56" r="1.3" fill="#109190"/>
<circle cx="69.79" cy="416.60" r="1.3" fill="#109190"/>
<circle cx="67.29" cy="413.67" r="1.3" fill="#109190"/>
<circle cx="65.71" cy="406.52" r="1.3" fill="#109190"/>
<circle cx="67.14" cy="410.41" r="1.3" fill="#109190"/>
<circle cx="73.27" cy="416.94" r="1.3" fill="#109190"/>
<circle cx="62.17" cy="402.80" r="1.3" fill="#109190"/>
<circle cx="53.85" cy="407.05" r="1.3" fill="#109190"/>
<circle cx="58.98" cy="413.25" r="1.3" fill="#109190"/>
<circle cx="59.61" cy="401.21" r="1.3" fill="#109190"/>
<circle cx="60.81" cy="425.79" r="1.3" fill="#109190"/>
<circle cx="60.23" cy="390.22" r="1.3" fill="#109190"/>
<circle cx="58.37" cy="424.59" r="1.3" fill="#109190"/>
<circle cx="66.93" cy="396.91" r="1.3" fill="#109190"/>
<circle cx="52.82" cy="408.96" r="1.3" fill="#109190"/>
<circle cx="60.99" cy="398.55" r="1.3" fill="#109190"/>
<circle cx="57.06" cy="413.65" r="1.3" fill="#109190"/>
<circle cx="64.09" cy="386.64" r="1.3" fill="#109190"/>
<circle cx="53.35" cy="418.48" r="1.3" fill="#109190"/>
<circle cx="61.96" cy="428.64" r="1.3" fill="#109190"/>
<circle cx="63.24" cy="399.12" r="1.3" fill="#109190"/>
<circle cx="55.26" cy="419.38" r="1.3" fill="#109190"/>
<circle cx="65.83" cy="408.68" r="1.3" fill="#109190"/>
<circle cx="64.11" cy="420.13" r="1.3" fill="#109190"/>
<circle cx="58.16" cy="419.58" r="1.3" fill="#109190"/>
<circle cx="67.09" cy="423.14" r="1.3" fill="#109190"/>
<circle cx="58.81" cy="410.71" r="1.3" fill="#109190"/>
<circle cx="56.98" cy="417.95" r="1.3" fill="#109190"/>
<circle cx="69.23" cy="414.49" r="1.3" fill="#109190"/>
<circle cx="61.10" cy="419.15" r="1.3" fill="#109190"/>
<circle cx="69.37" cy="409.38" r="1.3" fill="#109190"/>
<circle cx="58.91" cy="406.32" r="1.3" fill="#109190"/>
<circle cx="57.26" cy="421.40" r="1.3" fill="#109190"/>
<circle cx="53.23" cy="413.36" r="1.3" fill="#109190"/>
<circle cx="63.76" cy="407.55" r="1.3" fill="#109190"/>
<circle cx="55.10" cy="414.80" r="1.3" fill="#109190"/>
<circle cx="70.47" cy="418.45" r="1.3" fill="#109190"/>
<circle cx="63.69" cy="424.74" r="1.3" fill="#109190"/>
<circle cx="57.00" cy="411.67" r="1.3" fill="#109190"/>
<circle cx="64.32" cy="411.56" r="1.3" fill="#109190"/>
<circle cx="73.63" cy="408.46" r="1.3" fill="#109190"/>
<circle cx="60.75" cy="417.14" r="1.3" fill="#109190"/>
<circle cx="59.23" cy="397.50" r="1.3" fill="#109190"/>
<circle cx="62.10" cy="421.11" r="1.3" fill="#109190"/>
<circle cx="67.84" cy="415.95" r="1.3" fill="#109190"/>
<circle cx="66.98" cy="405.06" r="1.3" fill="#109190"/>
<circle cx="58.50" cy="399.58" r="1.3" fill="#109190"/>
<circle cx="54.84" cy="417.08" r="1.3" fill="#109190"/>
<circle cx="67.93" cy="400.06" r="1.3" fill="#109190"/>
<circle cx="68.40" cy="418.92" r="1.3" fill="#109190"/>
<circle cx="57.07" cy="406.63" r="1.3" fill="#109190"/>
<circle cx="62.70" cy="415.47" r="1.3" fill="#109190"/>
<circle cx="64.94" cy="421.89" r="1.3" fill="#109190"/>
<circle cx="63.26" cy="405.14" r="1.3" fill="#109190"/>
<circle cx="60.44" cy="415.01" r="1.3" fill="#109190"/>
<circle cx="59.06" cy="391.75" r="1.3" fill="#109190"/>
<circle cx="71.98" cy="412.20" r="1.3" fill="#109190"/>
<circle cx="72.16" cy="405.61" r="1.3" fill="#109190"/>
<circle cx="67.31" cy="393.47" r="1.3" fill="#109190"/>
<circle cx="60.27" cy="409.25" r="1.3" fill="#109190"/>
<circle cx="67.43" cy="390.94" r="1.3" fill="#109190"/>
<circle cx="63.30" cy="365.20" r="1.3" fill="#109190"/>
<circle cx="100.42" cy="386.40" r="1.3" fill="#109190"/>
<circle cx="100.47" cy="384.14" r="1.3" fill="#109190"/>
<circle cx="100.85" cy="381.74" r="1.3" fill="#109190"/>
<circle cx="98.78" cy="425.12" r="1.3" fill="#109190"/>
<circle cx="97.62" cy="413.02" r="1.3" fill="#109190"/>
<circle cx="97.75" cy="402.48" r="1.3" fill="#109190"/>
<circle cx="92.11" cy="412.97" r="1.3" fill="#109190"/>
<circle cx="107.33" cy="412.70" r="1.3" fill="#109190"/>
<circle cx="102.74" cy="424.00" r="1.3" fill="#109190"/>
<circle cx="93.23" cy="408.73" r="1.3" fill="#109190"/>
<circle cx="107.41" cy="410.16" r="1.3" fill="#109190"/>
<circle cx="93.43" cy="419.17" r="1.3" fill="#109190"/>
<circle cx="103.73" cy="396.35" r="1.3" fill="#109190"/>
<circle cx="100.01" cy="401.93" r="1.3" fill="#109190"/>
<circle cx="104.21" cy="398.84" r="1.3" fill="#109190"/>
<circle cx="106.58" cy="406.13" r="1.3" fill="#109190"/>
<circle cx="100.72" cy="405.02" r="1.3" fill="#109190"/>
<circle cx="100.84" cy="428.25" r="1.3" fill="#109190"/>
<circle cx="97.05" cy="398.06" r="1.3" fill="#109190"/>
<circle cx="91.08" cy="406.59" r="1.3" fill="#109190"/>
<circle cx="103.94" cy="419.02" r="1.3" fill="#109190"/>
<circle cx="90.07" cy="408.94" r="1.3" fill="#109190"/>
<circle cx="108.98" cy="420.03" r="1.3" fill="#109190"/>
<circle cx="99.67" cy="431.70" r="1.3" fill="#109190"/>
<circle cx="101.46" cy="422.07" r="1.3" fill="#109190"/>
<circle cx="111.15" cy="408.57" r="1.3" fill="#109190"/>
<circle cx="98.00" cy="423.39" r="1.3" fill="#109190"/>
<circle cx="102.85" cy="414.02" r="1.3" fill="#109190"/>
<circle cx="104.27" cy="420.97" r="1.3" fill="#109190"/>
<circle cx="95.33" cy="415.93" r="1.3" fill="#109190"/>
<circle cx="100.26" cy="412.34" r="1.3" fill="#109190"/>
<circle cx="100.85" cy="419.64" r="1.3" fill="#109190"/>
<circle cx="92.47" cy="417.22" r="1.3" fill="#109190"/>
<circle cx="98.09" cy="408.33" r="1.3" fill="#109190"/>
<circle cx="109.16" cy="414.98" r="1.3" fill="#109190"/>
<circle cx="98.33" cy="404.72" r="1.3" fill="#109190"/>
<circle cx="95.74" cy="421.43" r="1.3" fill="#109190"/>
<circle cx="103.51" cy="402.48" r="1.3" fill="#109190"/>
<circle cx="99.03" cy="414.54" r="1.3" fill="#109190"/>
<circle cx="99.76" cy="396.38" r="1.3" fill="#109190"/>
<circle cx="110.37" cy="411.17" r="1.3" fill="#109190"/>
<circle cx="101.02" cy="398.32" r="1.3" fill="#109190"/>
<circle cx="98.35" cy="417.08" r="1.3" fill="#109190"/>
<circle cx="101.17" cy="416.74" r="1.3" fill="#109190"/>
<circle cx="101.73" cy="400.13" r="1.3" fill="#109190"/>
<circle cx="103.00" cy="404.93" r="1.3" fill="#109190"/>
<circle cx="94.07" cy="422.31" r="1.3" fill="#109190"/>
<circle cx="100.00" cy="423.54" r="1.3" fill="#109190"/>
<circle cx="103.91" cy="409.43" r="1.3" fill="#109190"/>
<circle cx="104.44" cy="407.10" r="1.3" fill="#109190"/>
<circle cx="93.71" cy="411.65" r="1.3" fill="#109190"/>
<circle cx="107.32" cy="417.29" r="1.3" fill="#109190"/>
<circle cx="95.08" cy="409.67" r="1.3" fill="#109190"/>
<circle cx="105.38" cy="414.19" r="1.3" fill="#109190"/>
<circle cx="104.29" cy="411.50" r="1.3" fill="#109190"/>
<circle cx="96.04" cy="411.30" r="1.3" fill="#109190"/>
<circle cx="101.67" cy="407.54" r="1.3" fill="#109190"/>
<circle cx="102.42" cy="410.95" r="1.3" fill="#109190"/>
<circle cx="104.75" cy="416.53" r="1.3" fill="#109190"/>
<circle cx="106.61" cy="420.72" r="1.3" fill="#109190"/>
<circle cx="100.93" cy="433.37" r="1.3" fill="#109190"/>
<circle cx="108.79" cy="406.48" r="1.3" fill="#109190"/>
<circle cx="98.96" cy="398.11" r="1.3" fill="#109190"/>
<circle cx="105.29" cy="423.04" r="1.3" fill="#109190"/>
<circle cx="93.04" cy="414.98" r="1.3" fill="#109190"/>
<circle cx="97.30" cy="400.54" r="1.3" fill="#109190"/>
<circle cx="91.28" cy="418.71" r="1.3" fill="#109190"/>
<circle cx="98.12" cy="421.03" r="1.3" fill="#109190"/>
<circle cx="94.00" cy="406.09" r="1.3" fill="#109190"/>
<circle cx="96.44" cy="407.07" r="1.3" fill="#109190"/>
<circle cx="94.58" cy="413.90" r="1.3" fill="#109190"/>
<circle cx="97.94" cy="410.68" r="1.3" fill="#109190"/>
<circle cx="90.09" cy="413.04" r="1.3" fill="#109190"/>
<circle cx="101.19" cy="426.41" r="1.3" fill="#109190"/>
<circle cx="105.67" cy="408.61" r="1.3" fill="#109190"/>
<circle cx="96.73" cy="418.67" r="1.3" fill="#109190"/>
<circle cx="110.43" cy="413.39" r="1.3" fill="#109190"/>
<circle cx="109.40" cy="417.80" r="1.3" fill="#109190"/>
<circle cx="101.03" cy="430.34" r="1.3" fill="#109190"/>
<circle cx="100.10" cy="409.66" r="1.3" fill="#109190"/>
<circle cx="91.60" cy="420.79" r="1.3" fill="#109190"/>
<circle cx="90.86" cy="416.18" r="1.3" fill="#109190"/>
<circle cx="107.72" cy="408.18" r="1.3" fill="#109190"/>
<circle cx="109.32" cy="409.22" r="1.3" fill="#109190"/>
<circle cx="111.13" cy="406.72" r="1.3" fill="#109190"/>
<circle cx="90.10" cy="411.02" r="1.3" fill="#109190"/>
<circle cx="96.12" cy="423.53" r="1.3" fill="#109190"/>
<circle cx="99.76" cy="406.80" r="1.3" fill="#109190"/>
<circle cx="97.09" cy="414.84" r="1.3" fill="#109190"/>
<circle cx="101.51" cy="403.04" r="1.3" fill="#109190"/>
<circle cx="99.17" cy="400.08" r="1.3" fill="#109190"/>
<circle cx="92.27" cy="410.35" r="1.3" fill="#109190"/>
<circle cx="101.77" cy="396.59" r="1.3" fill="#109190"/>
<circle cx="107.21" cy="414.65" r="1.3" fill="#109190"/>
<circle cx="102.91" cy="415.97" r="1.3" fill="#109190"/>
<circle cx="99.16" cy="418.74" r="1.3" fill="#109190"/>
<circle cx="105.77" cy="418.30" r="1.3" fill="#109190"/>
<circle cx="104.28" cy="400.72" r="1.3" fill="#109190"/>
<circle cx="94.98" cy="417.84" r="1.3" fill="#109190"/>
<circle cx="100.96" cy="414.70" r="1.3" fill="#109190"/>
<circle cx="100.60" cy="365.40" r="1.3" fill="#109190"/>
<circle cx="100.60" cy="392.80" r="1.3" fill="#109190"/>
<circle cx="100.60" cy="439.90" r="1.3" fill="#109190"/>
<line x1="50.90" y1="409.20" x2="75.70" y2="409.20" stroke="#921b22" stroke-width="1.75"/>
<line x1="88.20" y1="412.20" x2="113.00" y2="412.20" stroke="#921b22" stroke-width="1.75"/>
<line x1="172.50" y1="471.40" x2="259.20" y2="471.40" stroke="#a8a8a8" stroke-width="1.3"/>
<line x1="196.80" y1="471.40" x2="196.80" y2="476.20" stroke="#a8a8a8" stroke-width="0.9"/>
<text x="196.80" y="490.60" font-size="11" text-anchor="middle" fill="#404040">acc</text>
<line x1="234.60" y1="471.40" x2="234.60" y2="476.20" stroke="#a8a8a8" stroke-width="0.9"/>
<text x="234.60" y="490.60" font-size="11" text-anchor="middle" fill="#404040">alt</text>
<line x1="172.50" y1="341.00" x2="172.50" y2="471.40" stroke="#707070" stroke-width="0.8"/>
<line x1="167.70" y1="471.40" x2="172.50" y2="471.40" stroke="#8c8c8c" stroke-width="0.8"/>
<text x="162.50" y="474.50" font-size="9.5" text-anchor="end" fill="#404040">0</text>
<line x1="167.70" y1="445.32" x2="172.50" y2="445.32" stroke="#8c8c8c" stroke-width="0.8"/>
<text x="162.50" y="448.42" font-size="9.5" text-anchor="end" fill="#404040">2</text>
<line x1="167.70" y1="419.24" x2="172.50" y2="419.24" stroke="#8c8c8c" stroke-width="0.8"/>
<text x="162.50" y="422.34" font-size="9.5" text-anchor="end" fill="#404040">4</text>
<line x1="167.70" y1="393.16" x2="172.50" y2="393.16" stroke="#8c8c8c" stroke-width="0.8"/>
<text x="162.50" y="396.26" font-size="9.5" text-anchor="end" fill="#404040">6</text>
<line x1="167.70" y1="367.08" x2="172.50" y2="367.08" stroke="#8c8c8c" stroke-width="0.8"/>
<text x="162.50" y="370.18" font-size="9.5" text-anchor="end" fill="#404040">8</text>
<line x1="167.70" y1="341.00" x2="172.50" y2="341.00" stroke="#8c8c8c" stroke-width="0.8"/>
<text x="162.50" y="344.10" font-size="9.5" text-anchor="end" fill="#404040">10</text>
<polyline points="196.80,374.20 196.80,349.60 234.60,349.60 234.60,357.40" fill="none" stroke="#7a7a7a" stroke-width="0.8"/>
<text x="215.70" y="346.60" font-size="10" text-anchor="middle" fill="#404040">NS</text>
<text x="144.70" y="406.40" font-size="11.4" text-anchor="middle" fill="#404040" transform="rotate(-90 144.70 406.40)">Ld (µm)</text>
<circle cx="196.34" cy="384.93" r="1.3" fill="#109190"/>
<circle cx="197.05" cy="400.75" r="1.3" fill="#109190"/>
<circle cx="197.04" cy="389.83" r="1.3" fill="#109190"/>
<circle cx="199.34" cy="404.51" r="1.3" fill="#109190"/>
<circle cx="194.07" cy="406.32" r="1.3" fill="#109190"/>
<circle cx="199.02" cy="399.03" r="1.3" fill="#109190"/>
<circle cx="196.81" cy="381.57" r="1.3" fill="#109190"/>
<circle cx="197.48" cy="395.75" r="1.3" fill="#109190"/>
<circle cx="196.25" cy="427.49" r="1.3" fill="#109190"/>
<circle cx="196.82" cy="429.17" r="1.3" fill="#109190"/>
<circle cx="193.17" cy="418.53" r="1.3" fill="#109190"/>
<circle cx="196.41" cy="404.12" r="1.3" fill="#109190"/>
<circle cx="198.14" cy="409.53" r="1.3" fill="#109190"/>
<circle cx="196.52" cy="386.85" r="1.3" fill="#109190"/>
<circle cx="196.58" cy="415.29" r="1.3" fill="#109190"/>
<circle cx="188.25" cy="413.94" r="1.3" fill="#109190"/>
<circle cx="197.17" cy="391.90" r="1.3" fill="#109190"/>
<circle cx="190.79" cy="412.99" r="1.3" fill="#109190"/>
<circle cx="200.44" cy="411.28" r="1.3" fill="#109190"/>
<circle cx="199.28" cy="424.15" r="1.3" fill="#109190"/>
<circle cx="197.65" cy="423.18" r="1.3" fill="#109190"/>
<circle cx="203.77" cy="414.58" r="1.3" fill="#109190"/>
<circle cx="188.58" cy="416.91" r="1.3" fill="#109190"/>
<circle cx="200.31" cy="407.46" r="1.3" fill="#109190"/>
<circle cx="195.96" cy="402.28" r="1.3" fill="#109190"/>
<circle cx="194.78" cy="424.63" r="1.3" fill="#109190"/>
<circle cx="192.77" cy="408.08" r="1.3" fill="#109190"/>
<circle cx="198.41" cy="421.18" r="1.3" fill="#109190"/>
<circle cx="199.82" cy="419.86" r="1.3" fill="#109190"/>
<circle cx="201.56" cy="421.27" r="1.3" fill="#109190"/>
<circle cx="198.29" cy="426.72" r="1.3" fill="#109190"/>
<circle cx="194.19" cy="402.85" r="1.3" fill="#109190"/>
<circle cx="196.19" cy="393.79" r="1.3" fill="#109190"/>
<circle cx="193.03" cy="420.84" r="1.3" fill="#109190"/>
<circle cx="195.80" cy="409.46" r="1.3" fill="#109190"/>
<circle cx="196.02" cy="419.18" r="1.3" fill="#109190"/>
<circle cx="200.94" cy="409.34" r="1.3" fill="#109190"/>
<circle cx="204.66" cy="411.91" r="1.3" fill="#109190"/>
<circle cx="193.46" cy="415.93" r="1.3" fill="#109190"/>
<circle cx="198.63" cy="401.75" r="1.3" fill="#109190"/>
<circle cx="201.17" cy="417.39" r="1.3" fill="#109190"/>
<circle cx="201.67" cy="414.04" r="1.3" fill="#109190"/>
<circle cx="193.99" cy="411.81" r="1.3" fill="#109190"/>
<circle cx="197.36" cy="406.98" r="1.3" fill="#109190"/>
<circle cx="195.09" cy="399.22" r="1.3" fill="#109190"/>
<circle cx="200.09" cy="413.15" r="1.3" fill="#109190"/>
<circle cx="195.42" cy="423.00" r="1.3" fill="#109190"/>
<circle cx="191.57" cy="415.54" r="1.3" fill="#109190"/>
<circle cx="190.60" cy="410.56" r="1.3" fill="#109190"/>
<circle cx="193.23" cy="400.32" r="1.3" fill="#109190"/>
<circle cx="196.84" cy="412.47" r="1.3" fill="#109190"/>
<circle cx="196.38" cy="397.43" r="1.3" fill="#109190"/>
<circle cx="196.67" cy="425.17" r="1.3" fill="#109190"/>
<circle cx="202.25" cy="411.13" r="1.3" fill="#109190"/>
<circle cx="186.46" cy="414.68" r="1.3" fill="#109190"/>
<circle cx="203.28" cy="419.89" r="1.3" fill="#109190"/>
<circle cx="198.41" cy="414.20" r="1.3" fill="#109190"/>
<circle cx="204.73" cy="416.92" r="1.3" fill="#109190"/>
<circle cx="195.16" cy="421.15" r="1.3" fill="#109190"/>
<circle cx="189.50" cy="418.88" r="1.3" fill="#109190"/>
<circle cx="197.24" cy="383.36" r="1.3" fill="#109190"/>
<circle cx="199.01" cy="415.88" r="1.3" fill="#109190"/>
<circle cx="200.21" cy="400.95" r="1.3" fill="#109190"/>
<circle cx="194.25" cy="428.10" r="1.3" fill="#109190"/>
<circle cx="206.35" cy="417.80" r="1.3" fill="#109190"/>
<circle cx="192.59" cy="410.43" r="1.3" fill="#109190"/>
<circle cx="194.11" cy="413.89" r="1.3" fill="#109190"/>
<circle cx="191.36" cy="418.90" r="1.3" fill="#109190"/>
<circle cx="195.54" cy="407.68" r="1.3" fill="#109190"/>
<circle cx="193.57" cy="423.23" r="1.3" fill="#109190"/>
<circle cx="195.25" cy="416.97" r="1.3" fill="#109190"/>
<circle cx="197.30" cy="417.03" r="1.3" fill="#109190"/>
<circle cx="202.95" cy="416.98" r="1.3" fill="#109190"/>
<circle cx="205.79" cy="415.19" r="1.3" fill="#109190"/>
<circle cx="199.24" cy="418.07" r="1.3" fill="#109190"/>
<circle cx="206.39" cy="413.17" r="1.3" fill="#109190"/>
<circle cx="200.15" cy="422.56" r="1.3" fill="#109190"/>
<circle cx="189.71" cy="415.14" r="1.3" fill="#109190"/>
<circle cx="186.54" cy="416.61" r="1.3" fill="#109190"/>
<circle cx="188.83" cy="411.98" r="1.3" fill="#109190"/>
<circle cx="199.17" cy="428.40" r="1.3" fill="#109190"/>
<circle cx="193.11" cy="404.48" r="1.3" fill="#109190"/>
<circle cx="190.57" cy="417.04" r="1.3" fill="#109190"/>
<circle cx="198.63" cy="411.70" r="1.3" fill="#109190"/>
<circle cx="200.41" cy="402.73" r="1.3" fill="#109190"/>
<circle cx="204.71" cy="418.76" r="1.3" fill="#109190"/>
<circle cx="192.59" cy="413.02" r="1.3" fill="#109190"/>
<circle cx="195.77" cy="405.87" r="1.3" fill="#109190"/>
<circle cx="201.68" cy="419.09" r="1.3" fill="#109190"/>
<circle cx="197.83" cy="419.14" r="1.3" fill="#109190"/>
<circle cx="233.92" cy="394.75" r="1.3" fill="#109190"/>
<circle cx="234.35" cy="396.86" r="1.3" fill="#109190"/>
<circle cx="234.84" cy="392.71" r="1.3" fill="#109190"/>
<circle cx="235.65" cy="398.42" r="1.3" fill="#109190"/>
<circle cx="232.86" cy="398.36" r="1.3" fill="#109190"/>
<circle cx="235.78" cy="395.40" r="1.3" fill="#109190"/>
<circle cx="237.51" cy="424.44" r="1.3" fill="#109190"/>
<circle cx="235.38" cy="425.81" r="1.3" fill="#109190"/>
<circle cx="233.78" cy="428.62" r="1.3" fill="#109190"/>
<circle cx="230.43" cy="426.60" r="1.3" fill="#109190"/>
<circle cx="234.36" cy="415.37" r="1.3" fill="#109190"/>
<circle cx="234.47" cy="406.11" r="1.3" fill="#109190"/>
<circle cx="241.17" cy="415.75" r="1.3" fill="#109190"/>
<circle cx="237.84" cy="417.86" r="1.3" fill="#109190"/>
<circle cx="230.00" cy="416.89" r="1.3" fill="#109190"/>
<circle cx="241.26" cy="412.05" r="1.3" fill="#109190"/>
<circle cx="233.56" cy="426.64" r="1.3" fill="#109190"/>
<circle cx="238.86" cy="415.41" r="1.3" fill="#109190"/>
<circle cx="242.43" cy="414.16" r="1.3" fill="#109190"/>
<circle cx="241.88" cy="417.96" r="1.3" fill="#109190"/>
<circle cx="233.30" cy="421.30" r="1.3" fill="#109190"/>
<circle cx="231.28" cy="422.83" r="1.3" fill="#109190"/>
<circle cx="239.28" cy="400.92" r="1.3" fill="#109190"/>
<circle cx="232.66" cy="401.51" r="1.3" fill="#109190"/>
<circle cx="229.97" cy="409.59" r="1.3" fill="#109190"/>
<circle cx="240.12" cy="402.89" r="1.3" fill="#109190"/>
<circle cx="235.34" cy="423.80" r="1.3" fill="#109190"/>
<circle cx="240.90" cy="409.11" r="1.3" fill="#109190"/>
<circle cx="234.85" cy="408.19" r="1.3" fill="#109190"/>
<circle cx="226.32" cy="416.24" r="1.3" fill="#109190"/>
<circle cx="227.85" cy="404.77" r="1.3" fill="#109190"/>
<circle cx="225.21" cy="407.18" r="1.3" fill="#109190"/>
<circle cx="229.72" cy="406.90" r="1.3" fill="#109190"/>
<circle cx="234.60" cy="418.56" r="1.3" fill="#109190"/>
<circle cx="236.64" cy="401.35" r="1.3" fill="#109190"/>
<circle cx="238.59" cy="420.59" r="1.3" fill="#109190"/>
<circle cx="231.20" cy="404.09" r="1.3" fill="#109190"/>
<circle cx="241.79" cy="405.13" r="1.3" fill="#109190"/>
<circle cx="231.51" cy="407.84" r="1.3" fill="#109190"/>
<circle cx="228.89" cy="401.49" r="1.3" fill="#109190"/>
<circle cx="237.62" cy="403.97" r="1.3" fill="#109190"/>
<circle cx="227.70" cy="411.54" r="1.3" fill="#109190"/>
<circle cx="230.91" cy="413.30" r="1.3" fill="#109190"/>
<circle cx="226.89" cy="401.53" r="1.3" fill="#109190"/>
<circle cx="231.85" cy="418.37" r="1.3" fill="#109190"/>
<circle cx="239.00" cy="408.04" r="1.3" fill="#109190"/>
<circle cx="243.95" cy="410.96" r="1.3" fill="#109190"/>
<circle cx="239.05" cy="405.49" r="1.3" fill="#109190"/>
<circle cx="244.61" cy="408.16" r="1.3" fill="#109190"/>
<circle cx="233.50" cy="403.87" r="1.3" fill="#109190"/>
<circle cx="233.46" cy="424.24" r="1.3" fill="#109190"/>
<circle cx="226.94" cy="418.71" r="1.3" fill="#109190"/>
<circle cx="236.56" cy="409.72" r="1.3" fill="#109190"/>
<circle cx="228.10" cy="409.21" r="1.3" fill="#109190"/>
<circle cx="242.36" cy="407.62" r="1.3" fill="#109190"/>
<circle cx="228.23" cy="422.33" r="1.3" fill="#109190"/>
<circle cx="240.39" cy="419.57" r="1.3" fill="#109190"/>
<circle cx="236.38" cy="428.07" r="1.3" fill="#109190"/>
<circle cx="235.84" cy="413.18" r="1.3" fill="#109190"/>
<circle cx="225.85" cy="413.86" r="1.3" fill="#109190"/>
<circle cx="231.21" cy="424.80" r="1.3" fill="#109190"/>
<circle cx="224.58" cy="412.34" r="1.3" fill="#109190"/>
<circle cx="231.67" cy="410.72" r="1.3" fill="#109190"/>
<circle cx="225.71" cy="404.93" r="1.3" fill="#109190"/>
<circle cx="237.77" cy="411.85" r="1.3" fill="#109190"/>
<circle cx="229.77" cy="419.25" r="1.3" fill="#109190"/>
<circle cx="231.51" cy="415.53" r="1.3" fill="#109190"/>
<circle cx="238.86" cy="423.09" r="1.3" fill="#109190"/>
<circle cx="237.56" cy="426.43" r="1.3" fill="#109190"/>
<circle cx="235.92" cy="419.96" r="1.3" fill="#109190"/>
<circle cx="225.86" cy="410.18" r="1.3" fill="#109190"/>
<circle cx="240.52" cy="421.80" r="1.3" fill="#109190"/>
<circle cx="236.55" cy="416.15" r="1.3" fill="#109190"/>
<circle cx="242.47" cy="402.80" r="1.3" fill="#109190"/>
<circle cx="241.60" cy="401.01" r="1.3" fill="#109190"/>
<circle cx="233.37" cy="413.15" r="1.3" fill="#109190"/>
<circle cx="233.77" cy="411.17" r="1.3" fill="#109190"/>
<circle cx="237.05" cy="406.84" r="1.3" fill="#109190"/>
<circle cx="226.28" cy="420.84" r="1.3" fill="#109190"/>
<circle cx="244.07" cy="406.03" r="1.3" fill="#109190"/>
<circle cx="236.78" cy="421.72" r="1.3" fill="#109190"/>
<circle cx="228.00" cy="413.48" r="1.3" fill="#109190"/>
<circle cx="242.14" cy="420.64" r="1.3" fill="#109190"/>
<circle cx="228.35" cy="415.69" r="1.3" fill="#109190"/>
<circle cx="239.26" cy="413.52" r="1.3" fill="#109190"/>
<circle cx="231.15" cy="420.84" r="1.3" fill="#109190"/>
<circle cx="227.33" cy="407.25" r="1.3" fill="#109190"/>
<circle cx="240.01" cy="417.48" r="1.3" fill="#109190"/>
<circle cx="235.57" cy="404.38" r="1.3" fill="#109190"/>
<circle cx="229.96" cy="411.60" r="1.3" fill="#109190"/>
<circle cx="244.32" cy="412.99" r="1.3" fill="#109190"/>
<circle cx="243.29" cy="416.42" r="1.3" fill="#109190"/>
<circle cx="232.61" cy="405.58" r="1.3" fill="#109190"/>
<circle cx="233.42" cy="417.05" r="1.3" fill="#109190"/>
<circle cx="234.68" cy="401.26" r="1.3" fill="#109190"/>
<circle cx="230.84" cy="402.21" r="1.3" fill="#109190"/>
<circle cx="238.62" cy="410.01" r="1.3" fill="#109190"/>
<circle cx="233.05" cy="409.13" r="1.3" fill="#109190"/>
<circle cx="232.00" cy="427.78" r="1.3" fill="#109190"/>
<circle cx="224.30" cy="408.91" r="1.3" fill="#109190"/>
<circle cx="240.64" cy="406.72" r="1.3" fill="#109190"/>
<circle cx="234.60" cy="365.10" r="1.3" fill="#109190"/>
<circle cx="234.60" cy="369.20" r="1.3" fill="#109190"/>
<circle cx="234.60" cy="379.60" r="1.3" fill="#109190"/>
<circle cx="235.40" cy="381.30" r="1.3" fill="#109190"/>
<circle cx="235.40" cy="432.20" r="1.3" fill="#109190"/>
<line x1="184.30" y1="414.10" x2="209.30" y2="414.10" stroke="#921b22" stroke-width="1.75"/>
<line x1="222.30" y1="412.70" x2="246.90" y2="412.70" stroke="#921b22" stroke-width="1.75"/>
<line x1="317.60" y1="472.60" x2="403.90" y2="472.60" stroke="#a8a8a8" stroke-width="1.3"/>
<line x1="341.70" y1="472.60" x2="341.70" y2="477.40" stroke="#a8a8a8" stroke-width="0.9"/>
<text x="341.70" y="491.80" font-size="11" text-anchor="middle" fill="#404040">acc</text>
<line x1="379.30" y1="472.60" x2="379.30" y2="477.40" stroke="#a8a8a8" stroke-width="0.9"/>
<text x="379.30" y="491.80" font-size="11" text-anchor="middle" fill="#404040">alt</text>
<line x1="317.60" y1="342.60" x2="317.60" y2="472.60" stroke="#707070" stroke-width="0.8"/>
<line x1="312.80" y1="472.60" x2="317.60" y2="472.60" stroke="#8c8c8c" stroke-width="0.8"/>
<text x="307.60" y="475.70" font-size="9.5" text-anchor="end" fill="#404040">0</text>
<line x1="312.80" y1="446.60" x2="317.60" y2="446.60" stroke="#8c8c8c" stroke-width="0.8"/>
<text x="307.60" y="449.70" font-size="9.5" text-anchor="end" fill="#404040">0.05</text>
<line x1="312.80" y1="420.60" x2="317.60" y2="420.60" stroke="#8c8c8c" stroke-width="0.8"/>
<text x="307.60" y="423.70" font-size="9.5" text-anchor="end" fill="#404040">0.10</text>
<line x1="312.80" y1="394.60" x2="317.60" y2="394.60" stroke="#8c8c8c" stroke-width="0.8"/>
<text x="307.60" y="397.70" font-size="9.5" text-anchor="end" fill="#404040">0.15</text>
<line x1="312.80" y1="368.60" x2="317.60" y2="368.60" stroke="#8c8c8c" stroke-width="0.8"/>
<text x="307.60" y="371.70" font-size="9.5" text-anchor="end" fill="#404040">0.20</text>
<line x1="312.80" y1="342.60" x2="317.60" y2="342.60" stroke="#8c8c8c" stroke-width="0.8"/>
<text x="307.60" y="345.70" font-size="9.5" text-anchor="end" fill="#404040">0.25</text>
<polyline points="341.70,351.70 341.70,343.60 379.30,343.60 379.30,354.00" fill="none" stroke="#7a7a7a" stroke-width="0.8"/>
<text x="360.50" y="341.20" font-size="10" text-anchor="middle" fill="#404040">NS</text>
<text x="279.00" y="407.40" font-size="11.4" text-anchor="middle" fill="#404040" transform="rotate(-90 279.00 407.40)">Elongation speed (µm h<tspan dy="-3.5" font-size="7">−1</tspan><tspan dy="3.5">)</tspan></text>
<circle cx="341.39" cy="366.04" r="1.3" fill="#109190"/>
<circle cx="341.93" cy="369.80" r="1.3" fill="#109190"/>
<circle cx="341.96" cy="371.91" r="1.3" fill="#109190"/>
<circle cx="341.68" cy="363.65" r="1.3" fill="#109190"/>
<circle cx="336.40" cy="405.77" r="1.3" fill="#109190"/>
<circle cx="343.04" cy="377.55" r="1.3" fill="#109190"/>
<circle cx="337.07" cy="394.06" r="1.3" fill="#109190"/>
<circle cx="342.12" cy="434.89" r="1.3" fill="#109190"/>
<circle cx="342.65" cy="387.93" r="1.3" fill="#109190"/>
<circle cx="338.98" cy="388.39" r="1.3" fill="#109190"/>
<circle cx="334.97" cy="420.04" r="1.3" fill="#109190"/>
<circle cx="336.59" cy="418.63" r="1.3" fill="#109190"/>
<circle cx="343.57" cy="383.42" r="1.3" fill="#109190"/>
<circle cx="339.02" cy="425.72" r="1.3" fill="#109190"/>
<circle cx="331.99" cy="406.00" r="1.3" fill="#109190"/>
<circle cx="331.24" cy="415.28" r="1.3" fill="#109190"/>
<circle cx="344.64" cy="425.15" r="1.3" fill="#109190"/>
<circle cx="338.74" cy="410.33" r="1.3" fill="#109190"/>
<circle cx="336.04" cy="414.79" r="1.3" fill="#109190"/>
<circle cx="339.43" cy="407.21" r="1.3" fill="#109190"/>
<circle cx="347.49" cy="422.03" r="1.3" fill="#109190"/>
<circle cx="339.79" cy="385.18" r="1.3" fill="#109190"/>
<circle cx="352.17" cy="407.95" r="1.3" fill="#109190"/>
<circle cx="341.74" cy="389.90" r="1.3" fill="#109190"/>
<circle cx="333.55" cy="400.25" r="1.3" fill="#109190"/>
<circle cx="342.34" cy="424.43" r="1.3" fill="#109190"/>
<circle cx="336.07" cy="397.78" r="1.3" fill="#109190"/>
<circle cx="351.64" cy="401.45" r="1.3" fill="#109190"/>
<circle cx="345.32" cy="394.33" r="1.3" fill="#109190"/>
<circle cx="346.86" cy="407.23" r="1.3" fill="#109190"/>
<circle cx="340.12" cy="379.35" r="1.3" fill="#109190"/>
<circle cx="344.63" cy="428.40" r="1.3" fill="#109190"/>
<circle cx="348.61" cy="396.34" r="1.3" fill="#109190"/>
<circle cx="345.67" cy="397.24" r="1.3" fill="#109190"/>
<circle cx="339.01" cy="382.01" r="1.3" fill="#109190"/>
<circle cx="342.95" cy="430.35" r="1.3" fill="#109190"/>
<circle cx="335.62" cy="402.97" r="1.3" fill="#109190"/>
<circle cx="347.89" cy="393.84" r="1.3" fill="#109190"/>
<circle cx="340.47" cy="430.65" r="1.3" fill="#109190"/>
<circle cx="347.41" cy="410.09" r="1.3" fill="#109190"/>
<circle cx="334.47" cy="410.50" r="1.3" fill="#109190"/>
<circle cx="349.98" cy="399.38" r="1.3" fill="#109190"/>
<circle cx="345.19" cy="379.97" r="1.3" fill="#109190"/>
<circle cx="342.10" cy="380.79" r="1.3" fill="#109190"/>
<circle cx="337.77" cy="401.04" r="1.3" fill="#109190"/>
<circle cx="339.46" cy="397.05" r="1.3" fill="#109190"/>
<circle cx="341.67" cy="411.48" r="1.3" fill="#109190"/>
<circle cx="340.51" cy="417.59" r="1.3" fill="#109190"/>
<circle cx="341.04" cy="419.91" r="1.3" fill="#109190"/>
<circle cx="345.01" cy="386.33" r="1.3" fill="#109190"/>
<circle cx="343.00" cy="392.39" r="1.3" fill="#109190"/>
<circle cx="351.07" cy="415.55" r="1.3" fill="#109190"/>
<circle cx="338.52" cy="404.09" r="1.3" fill="#109190"/>
<circle cx="342.72" cy="414.86" r="1.3" fill="#109190"/>
<circle cx="343.89" cy="410.41" r="1.3" fill="#109190"/>
<circle cx="345.73" cy="418.93" r="1.3" fill="#109190"/>
<circle cx="346.97" cy="413.64" r="1.3" fill="#109190"/>
<circle cx="344.72" cy="422.50" r="1.3" fill="#109190"/>
<circle cx="343.92" cy="400.32" r="1.3" fill="#109190"/>
<circle cx="349.92" cy="406.59" r="1.3" fill="#109190"/>
<circle cx="337.25" cy="380.59" r="1.3" fill="#109190"/>
<circle cx="345.95" cy="389.31" r="1.3" fill="#109190"/>
<circle cx="333.14" cy="397.43" r="1.3" fill="#109190"/>
<circle cx="345.06" cy="402.62" r="1.3" fill="#109190"/>
<circle cx="343.12" cy="418.68" r="1.3" fill="#109190"/>
<circle cx="342.45" cy="421.67" r="1.3" fill="#109190"/>
<circle cx="340.61" cy="392.50" r="1.3" fill="#109190"/>
<circle cx="337.98" cy="392.13" r="1.3" fill="#109190"/>
<circle cx="341.69" cy="397.36" r="1.3" fill="#109190"/>
<circle cx="342.24" cy="428.32" r="1.3" fill="#109190"/>
<circle cx="341.39" cy="432.84" r="1.3" fill="#109190"/>
<circle cx="336.36" cy="411.79" r="1.3" fill="#109190"/>
<circle cx="341.56" cy="395.19" r="1.3" fill="#109190"/>
<circle cx="337.79" cy="423.89" r="1.3" fill="#109190"/>
<circle cx="343.60" cy="396.11" r="1.3" fill="#109190"/>
<circle cx="338.15" cy="377.43" r="1.3" fill="#109190"/>
<circle cx="342.08" cy="408.96" r="1.3" fill="#109190"/>
<circle cx="348.10" cy="404.53" r="1.3" fill="#109190"/>
<circle cx="342.70" cy="403.07" r="1.3" fill="#109190"/>
<circle cx="341.30" cy="383.23" r="1.3" fill="#109190"/>
<circle cx="333.93" cy="415.14" r="1.3" fill="#109190"/>
<circle cx="343.55" cy="405.87" r="1.3" fill="#109190"/>
<circle cx="342.69" cy="385.71" r="1.3" fill="#109190"/>
<circle cx="346.95" cy="416.04" r="1.3" fill="#109190"/>
<circle cx="351.15" cy="412.85" r="1.3" fill="#109190"/>
<circle cx="337.46" cy="408.13" r="1.3" fill="#109190"/>
<circle cx="340.70" cy="402.04" r="1.3" fill="#109190"/>
<circle cx="339.78" cy="428.23" r="1.3" fill="#109190"/>
<circle cx="338.92" cy="413.58" r="1.3" fill="#109190"/>
<circle cx="336.84" cy="421.37" r="1.3" fill="#109190"/>
<circle cx="350.82" cy="397.25" r="1.3" fill="#109190"/>
<circle cx="331.73" cy="403.23" r="1.3" fill="#109190"/>
<circle cx="352.32" cy="404.38" r="1.3" fill="#109190"/>
<circle cx="338.73" cy="420.41" r="1.3" fill="#109190"/>
<circle cx="348.68" cy="419.60" r="1.3" fill="#109190"/>
<circle cx="346.25" cy="377.48" r="1.3" fill="#109190"/>
<circle cx="345.86" cy="384.33" r="1.3" fill="#109190"/>
<circle cx="331.29" cy="408.78" r="1.3" fill="#109190"/>
<circle cx="337.61" cy="385.14" r="1.3" fill="#109190"/>
<circle cx="345.15" cy="391.98" r="1.3" fill="#109190"/>
<circle cx="331.16" cy="410.96" r="1.3" fill="#109190"/>
<circle cx="345.34" cy="404.76" r="1.3" fill="#109190"/>
<circle cx="350.68" cy="410.69" r="1.3" fill="#109190"/>
<circle cx="349.09" cy="401.45" r="1.3" fill="#109190"/>
<circle cx="332.58" cy="412.93" r="1.3" fill="#109190"/>
<circle cx="340.59" cy="422.93" r="1.3" fill="#109190"/>
<circle cx="343.63" cy="412.60" r="1.3" fill="#109190"/>
<circle cx="334.59" cy="394.64" r="1.3" fill="#109190"/>
<circle cx="346.36" cy="381.75" r="1.3" fill="#109190"/>
<circle cx="346.43" cy="399.74" r="1.3" fill="#109190"/>
<circle cx="340.44" cy="415.31" r="1.3" fill="#109190"/>
<circle cx="352.31" cy="398.83" r="1.3" fill="#109190"/>
<circle cx="331.38" cy="398.99" r="1.3" fill="#109190"/>
<circle cx="350.46" cy="417.67" r="1.3" fill="#109190"/>
<circle cx="338.22" cy="417.01" r="1.3" fill="#109190"/>
<circle cx="335.02" cy="423.39" r="1.3" fill="#109190"/>
<circle cx="335.12" cy="408.15" r="1.3" fill="#109190"/>
<circle cx="348.66" cy="412.28" r="1.3" fill="#109190"/>
<circle cx="344.60" cy="407.73" r="1.3" fill="#109190"/>
<circle cx="340.85" cy="404.44" r="1.3" fill="#109190"/>
<circle cx="347.03" cy="424.41" r="1.3" fill="#109190"/>
<circle cx="340.03" cy="399.65" r="1.3" fill="#109190"/>
<circle cx="332.59" cy="417.21" r="1.3" fill="#109190"/>
<circle cx="333.65" cy="404.49" r="1.3" fill="#109190"/>
<circle cx="350.34" cy="403.34" r="1.3" fill="#109190"/>
<circle cx="339.46" cy="390.61" r="1.3" fill="#109190"/>
<circle cx="341.12" cy="426.55" r="1.3" fill="#109190"/>
<circle cx="344.97" cy="415.27" r="1.3" fill="#109190"/>
<circle cx="340.29" cy="376.75" r="1.3" fill="#109190"/>
<circle cx="345.81" cy="411.50" r="1.3" fill="#109190"/>
<circle cx="348.78" cy="414.92" r="1.3" fill="#109190"/>
<circle cx="349.30" cy="408.65" r="1.3" fill="#109190"/>
<circle cx="335.13" cy="417.04" r="1.3" fill="#109190"/>
<circle cx="348.10" cy="398.39" r="1.3" fill="#109190"/>
<circle cx="337.98" cy="398.87" r="1.3" fill="#109190"/>
<circle cx="339.00" cy="394.94" r="1.3" fill="#109190"/>
<circle cx="340.72" cy="387.09" r="1.3" fill="#109190"/>
<circle cx="337.45" cy="389.89" r="1.3" fill="#109190"/>
<circle cx="343.68" cy="398.23" r="1.3" fill="#109190"/>
<circle cx="331.40" cy="401.12" r="1.3" fill="#109190"/>
<circle cx="335.66" cy="400.48" r="1.3" fill="#109190"/>
<circle cx="343.87" cy="390.08" r="1.3" fill="#109190"/>
<circle cx="347.21" cy="402.62" r="1.3" fill="#109190"/>
<circle cx="341.70" cy="359.40" r="1.3" fill="#109190"/>
<circle cx="341.70" cy="439.90" r="1.3" fill="#109190"/>
<circle cx="380.11" cy="371.69" r="1.3" fill="#109190"/>
<circle cx="379.91" cy="374.70" r="1.3" fill="#109190"/>
<circle cx="378.34" cy="373.19" r="1.3" fill="#109190"/>
<circle cx="382.52" cy="411.71" r="1.3" fill="#109190"/>
<circle cx="378.01" cy="401.94" r="1.3" fill="#109190"/>
<circle cx="380.31" cy="418.18" r="1.3" fill="#109190"/>
<circle cx="380.44" cy="421.48" r="1.3" fill="#109190"/>
<circle cx="385.85" cy="394.29" r="1.3" fill="#109190"/>
<circle cx="376.13" cy="417.53" r="1.3" fill="#109190"/>
<circle cx="381.57" cy="390.06" r="1.3" fill="#109190"/>
<circle cx="377.64" cy="385.47" r="1.3" fill="#109190"/>
<circle cx="386.11" cy="403.30" r="1.3" fill="#109190"/>
<circle cx="382.96" cy="385.58" r="1.3" fill="#109190"/>
<circle cx="370.13" cy="408.19" r="1.3" fill="#109190"/>
<circle cx="379.60" cy="382.77" r="1.3" fill="#109190"/>
<circle cx="379.95" cy="415.91" r="1.3" fill="#109190"/>
<circle cx="380.92" cy="394.23" r="1.3" fill="#109190"/>
<circle cx="388.00" cy="406.56" r="1.3" fill="#109190"/>
<circle cx="381.09" cy="404.79" r="1.3" fill="#109190"/>
<circle cx="370.02" cy="402.56" r="1.3" fill="#109190"/>
<circle cx="385.31" cy="386.64" r="1.3" fill="#109190"/>
<circle cx="379.98" cy="380.56" r="1.3" fill="#109190"/>
<circle cx="385.45" cy="399.13" r="1.3" fill="#109190"/>
<circle cx="376.19" cy="426.57" r="1.3" fill="#109190"/>
<circle cx="380.31" cy="427.87" r="1.3" fill="#109190"/>
<circle cx="384.01" cy="421.27" r="1.3" fill="#109190"/>
<circle cx="376.00" cy="400.43" r="1.3" fill="#109190"/>
<circle cx="378.51" cy="389.61" r="1.3" fill="#109190"/>
<circle cx="384.54" cy="388.80" r="1.3" fill="#109190"/>
<circle cx="377.80" cy="409.07" r="1.3" fill="#109190"/>
<circle cx="379.44" cy="399.83" r="1.3" fill="#109190"/>
<circle cx="376.14" cy="410.92" r="1.3" fill="#109190"/>
<circle cx="383.10" cy="418.63" r="1.3" fill="#109190"/>
<circle cx="377.49" cy="381.53" r="1.3" fill="#109190"/>
<circle cx="376.42" cy="395.25" r="1.3" fill="#109190"/>
<circle cx="382.80" cy="392.63" r="1.3" fill="#109190"/>
<circle cx="373.40" cy="401.89" r="1.3" fill="#109190"/>
<circle cx="374.96" cy="385.66" r="1.3" fill="#109190"/>
<circle cx="382.01" cy="423.35" r="1.3" fill="#109190"/>
<circle cx="382.41" cy="381.69" r="1.3" fill="#109190"/>
<circle cx="376.70" cy="414.88" r="1.3" fill="#109190"/>
<circle cx="372.58" cy="386.89" r="1.3" fill="#109190"/>
<circle cx="380.41" cy="411.27" r="1.3" fill="#109190"/>
<circle cx="371.14" cy="398.74" r="1.3" fill="#109190"/>
<circle cx="383.00" cy="409.65" r="1.3" fill="#109190"/>
<circle cx="371.48" cy="413.09" r="1.3" fill="#109190"/>
<circle cx="374.39" cy="392.94" r="1.3" fill="#109190"/>
<circle cx="378.23" cy="404.75" r="1.3" fill="#109190"/>
<circle cx="373.94" cy="406.75" r="1.3" fill="#109190"/>
<circle cx="372.49" cy="405.19" r="1.3" fill="#109190"/>
<circle cx="375.11" cy="420.28" r="1.3" fill="#109190"/>
<circle cx="386.22" cy="408.10" r="1.3" fill="#109190"/>
<circle cx="376.74" cy="390.86" r="1.3" fill="#109190"/>
<circle cx="378.32" cy="411.96" r="1.3" fill="#109190"/>
<circle cx="381.24" cy="407.96" r="1.3" fill="#109190"/>
<circle cx="374.52" cy="415.51" r="1.3" fill="#109190"/>
<circle cx="371.90" cy="393.52" r="1.3" fill="#109190"/>
<circle cx="370.42" cy="410.49" r="1.3" fill="#109190"/>
<circle cx="379.23" cy="424.54" r="1.3" fill="#109190"/>
<circle cx="385.47" cy="415.20" r="1.3" fill="#109190"/>
<circle cx="373.11" cy="391.16" r="1.3" fill="#109190"/>
<circle cx="385.68" cy="411.26" r="1.3" fill="#109190"/>
<circle cx="375.90" cy="424.16" r="1.3" fill="#109190"/>
<circle cx="370.92" cy="395.63" r="1.3" fill="#109190"/>
<circle cx="382.81" cy="415.83" r="1.3" fill="#109190"/>
<circle cx="379.27" cy="396.47" r="1.3" fill="#109190"/>
<circle cx="383.06" cy="400.22" r="1.3" fill="#109190"/>
<circle cx="388.16" cy="413.23" r="1.3" fill="#109190"/>
<circle cx="387.89" cy="400.81" r="1.3" fill="#109190"/>
<circle cx="381.65" cy="397.01" r="1.3" fill="#109190"/>
<circle cx="377.48" cy="422.44" r="1.3" fill="#109190"/>
<circle cx="376.63" cy="406.83" r="1.3" fill="#109190"/>
<circle cx="379.74" cy="387.21" r="1.3" fill="#109190"/>
<circle cx="373.30" cy="395.24" r="1.3" fill="#109190"/>
<circle cx="388.96" cy="403.81" r="1.3" fill="#109190"/>
<circle cx="381.18" cy="402.33" r="1.3" fill="#109190"/>
<circle cx="383.60" cy="402.29" r="1.3" fill="#109190"/>
<circle cx="380.13" cy="392.04" r="1.3" fill="#109190"/>
<circle cx="380.08" cy="384.86" r="1.3" fill="#109190"/>
<circle cx="387.96" cy="394.15" r="1.3" fill="#109190"/>
<circle cx="377.33" cy="387.78" r="1.3" fill="#109190"/>
<circle cx="388.03" cy="396.71" r="1.3" fill="#109190"/>
<circle cx="384.15" cy="407.43" r="1.3" fill="#109190"/>
<circle cx="377.24" cy="419.81" r="1.3" fill="#109190"/>
<circle cx="382.13" cy="379.06" r="1.3" fill="#109190"/>
<circle cx="381.87" cy="387.78" r="1.3" fill="#109190"/>
<circle cx="374.97" cy="413.16" r="1.3" fill="#109190"/>
<circle cx="373.44" cy="399.18" r="1.3" fill="#109190"/>
<circle cx="378.04" cy="427.80" r="1.3" fill="#109190"/>
<circle cx="383.02" cy="426.00" r="1.3" fill="#109190"/>
<circle cx="376.92" cy="379.23" r="1.3" fill="#109190"/>
<circle cx="383.40" cy="395.45" r="1.3" fill="#109190"/>
<circle cx="386.14" cy="390.40" r="1.3" fill="#109190"/>
<circle cx="376.15" cy="397.45" r="1.3" fill="#109190"/>
<circle cx="374.92" cy="404.38" r="1.3" fill="#109190"/>
<circle cx="388.10" cy="409.43" r="1.3" fill="#109190"/>
<circle cx="374.45" cy="409.17" r="1.3" fill="#109190"/>
<circle cx="376.09" cy="383.74" r="1.3" fill="#109190"/>
<circle cx="385.63" cy="405.38" r="1.3" fill="#109190"/>
<circle cx="373.65" cy="418.04" r="1.3" fill="#109190"/>
<circle cx="377.63" cy="393.15" r="1.3" fill="#109190"/>
<circle cx="378.28" cy="417.48" r="1.3" fill="#109190"/>
<circle cx="373.79" cy="411.42" r="1.3" fill="#109190"/>
<circle cx="381.28" cy="413.64" r="1.3" fill="#109190"/>
<circle cx="374.90" cy="389.10" r="1.3" fill="#109190"/>
<circle cx="384.12" cy="423.84" r="1.3" fill="#109190"/>
<circle cx="370.14" cy="405.72" r="1.3" fill="#109190"/>
<circle cx="385.86" cy="396.63" r="1.3" fill="#109190"/>
<circle cx="383.71" cy="413.92" r="1.3" fill="#109190"/>
<circle cx="379.24" cy="406.66" r="1.3" fill="#109190"/>
<circle cx="383.74" cy="397.57" r="1.3" fill="#109190"/>
<circle cx="385.06" cy="417.61" r="1.3" fill="#109190"/>
<circle cx="374.30" cy="422.45" r="1.3" fill="#109190"/>
<circle cx="372.05" cy="415.30" r="1.3" fill="#109190"/>
<circle cx="383.21" cy="405.37" r="1.3" fill="#109190"/>
<circle cx="371.29" cy="400.87" r="1.3" fill="#109190"/>
<circle cx="372.06" cy="409.12" r="1.3" fill="#109190"/>
<circle cx="372.67" cy="389.09" r="1.3" fill="#109190"/>
<circle cx="375.96" cy="402.54" r="1.3" fill="#109190"/>
<circle cx="385.43" cy="401.25" r="1.3" fill="#109190"/>
<circle cx="378.93" cy="414.01" r="1.3" fill="#109190"/>
<circle cx="384.04" cy="390.93" r="1.3" fill="#109190"/>
<circle cx="388.52" cy="398.76" r="1.3" fill="#109190"/>
<circle cx="379.46" cy="431.40" r="1.3" fill="#109190"/>
<circle cx="379.53" cy="433.54" r="1.3" fill="#109190"/>
<circle cx="379.58" cy="436.24" r="1.3" fill="#109190"/>
<circle cx="376.80" cy="362.10" r="1.3" fill="#109190"/>
<circle cx="380.30" cy="363.20" r="1.3" fill="#109190"/>
<circle cx="381.80" cy="364.30" r="1.3" fill="#109190"/>
<circle cx="379.30" cy="442.00" r="1.3" fill="#109190"/>
<line x1="329.20" y1="405.10" x2="354.20" y2="405.10" stroke="#921b22" stroke-width="1.75"/>
<line x1="366.80" y1="403.20" x2="391.80" y2="403.20" stroke="#921b22" stroke-width="1.75"/>
<line x1="446.60" y1="472.20" x2="532.90" y2="472.20" stroke="#a8a8a8" stroke-width="1.3"/>
<line x1="470.70" y1="472.20" x2="470.70" y2="477.00" stroke="#a8a8a8" stroke-width="0.9"/>
<text x="470.70" y="491.40" font-size="11" text-anchor="middle" fill="#404040">acc</text>
<line x1="508.40" y1="472.20" x2="508.40" y2="477.00" stroke="#a8a8a8" stroke-width="0.9"/>
<text x="508.40" y="491.40" font-size="11" text-anchor="middle" fill="#404040">alt</text>
<line x1="446.60" y1="342.30" x2="446.60" y2="472.20" stroke="#707070" stroke-width="0.8"/>
<line x1="441.80" y1="472.20" x2="446.60" y2="472.20" stroke="#8c8c8c" stroke-width="0.8"/>
<text x="436.60" y="475.30" font-size="9.5" text-anchor="end" fill="#404040">0</text>
<line x1="441.80" y1="453.64" x2="446.60" y2="453.64" stroke="#8c8c8c" stroke-width="0.8"/>
<text x="436.60" y="456.74" font-size="9.5" text-anchor="end" fill="#404040">1</text>
<line x1="441.80" y1="435.08" x2="446.60" y2="435.08" stroke="#8c8c8c" stroke-width="0.8"/>
<text x="436.60" y="438.18" font-size="9.5" text-anchor="end" fill="#404040">2</text>
<line x1="441.80" y1="416.52" x2="446.60" y2="416.52" stroke="#8c8c8c" stroke-width="0.8"/>
<text x="436.60" y="419.62" font-size="9.5" text-anchor="end" fill="#404040">3</text>
<line x1="441.80" y1="397.96" x2="446.60" y2="397.96" stroke="#8c8c8c" stroke-width="0.8"/>
<text x="436.60" y="401.06" font-size="9.5" text-anchor="end" fill="#404040">4</text>
<line x1="441.80" y1="379.40" x2="446.60" y2="379.40" stroke="#8c8c8c" stroke-width="0.8"/>
<text x="436.60" y="382.50" font-size="9.5" text-anchor="end" fill="#404040">5</text>
<line x1="441.80" y1="360.84" x2="446.60" y2="360.84" stroke="#8c8c8c" stroke-width="0.8"/>
<text x="436.60" y="363.94" font-size="9.5" text-anchor="end" fill="#404040">6</text>
<line x1="441.80" y1="342.28" x2="446.60" y2="342.28" stroke="#8c8c8c" stroke-width="0.8"/>
<text x="436.60" y="345.38" font-size="9.5" text-anchor="end" fill="#404040">7</text>
<polyline points="470.70,374.70 470.70,349.10 508.40,349.10 508.40,357.20" fill="none" stroke="#7a7a7a" stroke-width="0.8"/>
<text x="489.55" y="346.30" font-size="10" text-anchor="middle" fill="#404040">NS</text>
<text x="422.80" y="407.00" font-size="11.4" text-anchor="middle" fill="#404040" transform="rotate(-90 422.80 407.00)">Growth amount (µm)</text>
<circle cx="465.94" cy="428.96" r="1.3" fill="#109190"/>
<circle cx="472.93" cy="449.28" r="1.3" fill="#109190"/>
<circle cx="469.84" cy="452.55" r="1.3" fill="#109190"/>
<circle cx="470.98" cy="454.71" r="1.3" fill="#109190"/>
<circle cx="472.87" cy="414.32" r="1.3" fill="#109190"/>
<circle cx="470.70" cy="403.10" r="1.3" fill="#109190"/>
<circle cx="467.49" cy="427.81" r="1.3" fill="#109190"/>
<circle cx="469.27" cy="436.37" r="1.3" fill="#109190"/>
<circle cx="468.14" cy="447.31" r="1.3" fill="#109190"/>
<circle cx="474.88" cy="444.85" r="1.3" fill="#109190"/>
<circle cx="470.55" cy="459.27" r="1.3" fill="#109190"/>
<circle cx="472.25" cy="416.69" r="1.3" fill="#109190"/>
<circle cx="474.49" cy="425.75" r="1.3" fill="#109190"/>
<circle cx="467.19" cy="431.37" r="1.3" fill="#109190"/>
<circle cx="471.45" cy="420.27" r="1.3" fill="#109190"/>
<circle cx="469.73" cy="430.63" r="1.3" fill="#109190"/>
<circle cx="470.71" cy="406.80" r="1.3" fill="#109190"/>
<circle cx="467.67" cy="424.48" r="1.3" fill="#109190"/>
<circle cx="472.54" cy="451.69" r="1.3" fill="#109190"/>
<circle cx="473.47" cy="440.25" r="1.3" fill="#109190"/>
<circle cx="474.05" cy="436.27" r="1.3" fill="#109190"/>
<circle cx="475.33" cy="442.98" r="1.3" fill="#109190"/>
<circle cx="468.82" cy="412.19" r="1.3" fill="#109190"/>
<circle cx="471.10" cy="438.43" r="1.3" fill="#109190"/>
<circle cx="473.15" cy="421.80" r="1.3" fill="#109190"/>
<circle cx="469.14" cy="417.83" r="1.3" fill="#109190"/>
<circle cx="470.21" cy="441.90" r="1.3" fill="#109190"/>
<circle cx="469.74" cy="424.62" r="1.3" fill="#109190"/>
<circle cx="476.34" cy="424.18" r="1.3" fill="#109190"/>
<circle cx="470.32" cy="414.85" r="1.3" fill="#109190"/>
<circle cx="476.33" cy="421.04" r="1.3" fill="#109190"/>
<circle cx="473.05" cy="446.52" r="1.3" fill="#109190"/>
<circle cx="470.26" cy="450.17" r="1.3" fill="#109190"/>
<circle cx="470.37" cy="398.95" r="1.3" fill="#109190"/>
<circle cx="471.87" cy="425.54" r="1.3" fill="#109190"/>
<circle cx="469.08" cy="439.40" r="1.3" fill="#109190"/>
<circle cx="471.63" cy="411.49" r="1.3" fill="#109190"/>
<circle cx="468.30" cy="450.85" r="1.3" fill="#109190"/>
<circle cx="471.01" cy="456.66" r="1.3" fill="#109190"/>
<circle cx="464.65" cy="426.11" r="1.3" fill="#109190"/>
<circle cx="466.68" cy="449.36" r="1.3" fill="#109190"/>
<circle cx="476.42" cy="438.87" r="1.3" fill="#109190"/>
<circle cx="472.01" cy="427.53" r="1.3" fill="#109190"/>
<circle cx="473.80" cy="419.74" r="1.3" fill="#109190"/>
<circle cx="464.26" cy="430.58" r="1.3" fill="#109190"/>
<circle cx="470.79" cy="444.67" r="1.3" fill="#109190"/>
<circle cx="471.28" cy="435.33" r="1.3" fill="#109190"/>
<circle cx="475.23" cy="447.02" r="1.3" fill="#109190"/>
<circle cx="466.75" cy="419.42" r="1.3" fill="#109190"/>
<circle cx="466.27" cy="440.66" r="1.3" fill="#109190"/>
<circle cx="462.44" cy="438.97" r="1.3" fill="#109190"/>
<circle cx="461.84" cy="435.41" r="1.3" fill="#109190"/>
<circle cx="465.64" cy="422.08" r="1.3" fill="#109190"/>
<circle cx="466.31" cy="444.24" r="1.3" fill="#109190"/>
<circle cx="468.13" cy="415.58" r="1.3" fill="#109190"/>
<circle cx="475.34" cy="449.24" r="1.3" fill="#109190"/>
<circle cx="469.54" cy="432.87" r="1.3" fill="#109190"/>
<circle cx="471.83" cy="408.50" r="1.3" fill="#109190"/>
<circle cx="473.38" cy="410.06" r="1.3" fill="#109190"/>
<circle cx="464.59" cy="434.16" r="1.3" fill="#109190"/>
<circle cx="478.81" cy="433.78" r="1.3" fill="#109190"/>
<circle cx="474.05" cy="429.28" r="1.3" fill="#109190"/>
<circle cx="472.27" cy="442.64" r="1.3" fill="#109190"/>
<circle cx="469.98" cy="409.12" r="1.3" fill="#109190"/>
<circle cx="478.66" cy="437.63" r="1.3" fill="#109190"/>
<circle cx="470.95" cy="401.05" r="1.3" fill="#109190"/>
<circle cx="462.70" cy="432.57" r="1.3" fill="#109190"/>
<circle cx="469.48" cy="421.04" r="1.3" fill="#109190"/>
<circle cx="467.01" cy="434.24" r="1.3" fill="#109190"/>
<circle cx="477.58" cy="435.59" r="1.3" fill="#109190"/>
<circle cx="473.35" cy="432.63" r="1.3" fill="#109190"/>
<circle cx="473.60" cy="412.24" r="1.3" fill="#109190"/>
<circle cx="465.88" cy="436.32" r="1.3" fill="#109190"/>
<circle cx="466.17" cy="447.40" r="1.3" fill="#109190"/>
<circle cx="467.01" cy="417.43" r="1.3" fill="#109190"/>
<circle cx="475.58" cy="418.74" r="1.3" fill="#109190"/>
<circle cx="473.81" cy="423.70" r="1.3" fill="#109190"/>
<circle cx="476.11" cy="429.48" r="1.3" fill="#109190"/>
<circle cx="468.22" cy="410.16" r="1.3" fill="#109190"/>
<circle cx="467.83" cy="441.90" r="1.3" fill="#109190"/>
<circle cx="467.11" cy="413.49" r="1.3" fill="#109190"/>
<circle cx="466.93" cy="438.29" r="1.3" fill="#109190"/>
<circle cx="476.31" cy="431.49" r="1.3" fill="#109190"/>
<circle cx="468.56" cy="445.34" r="1.3" fill="#109190"/>
<circle cx="476.67" cy="440.80" r="1.3" fill="#109190"/>
<circle cx="475.62" cy="434.42" r="1.3" fill="#109190"/>
<circle cx="460.71" cy="433.20" r="1.3" fill="#109190"/>
<circle cx="470.17" cy="428.19" r="1.3" fill="#109190"/>
<circle cx="478.91" cy="440.39" r="1.3" fill="#109190"/>
<circle cx="462.99" cy="436.97" r="1.3" fill="#109190"/>
<circle cx="471.82" cy="429.61" r="1.3" fill="#109190"/>
<circle cx="471.62" cy="423.39" r="1.3" fill="#109190"/>
<circle cx="470.75" cy="447.27" r="1.3" fill="#109190"/>
<circle cx="463.80" cy="423.86" r="1.3" fill="#109190"/>
<circle cx="463.56" cy="440.60" r="1.3" fill="#109190"/>
<circle cx="473.05" cy="438.02" r="1.3" fill="#109190"/>
<circle cx="480.94" cy="433.11" r="1.3" fill="#109190"/>
<circle cx="476.87" cy="427.09" r="1.3" fill="#109190"/>
<circle cx="465.06" cy="438.65" r="1.3" fill="#109190"/>
<circle cx="474.26" cy="415.65" r="1.3" fill="#109190"/>
<circle cx="463.74" cy="421.76" r="1.3" fill="#109190"/>
<circle cx="465.63" cy="432.50" r="1.3" fill="#109190"/>
<circle cx="471.44" cy="433.04" r="1.3" fill="#109190"/>
<circle cx="473.93" cy="417.73" r="1.3" fill="#109190"/>
<circle cx="467.68" cy="422.28" r="1.3" fill="#109190"/>
<circle cx="464.96" cy="420.05" r="1.3" fill="#109190"/>
<circle cx="468.97" cy="426.60" r="1.3" fill="#109190"/>
<circle cx="472.98" cy="444.62" r="1.3" fill="#109190"/>
<circle cx="477.64" cy="422.56" r="1.3" fill="#109190"/>
<circle cx="474.99" cy="427.59" r="1.3" fill="#109190"/>
<circle cx="476.01" cy="437.00" r="1.3" fill="#109190"/>
<circle cx="479.51" cy="435.92" r="1.3" fill="#109190"/>
<circle cx="471.60" cy="440.60" r="1.3" fill="#109190"/>
<circle cx="478.52" cy="431.85" r="1.3" fill="#109190"/>
<circle cx="465.71" cy="424.45" r="1.3" fill="#109190"/>
<circle cx="469.14" cy="443.47" r="1.3" fill="#109190"/>
<circle cx="470.70" cy="382.90" r="1.3" fill="#109190"/>
<circle cx="470.70" cy="387.70" r="1.3" fill="#109190"/>
<circle cx="504.29" cy="419.62" r="1.3" fill="#109190"/>
<circle cx="506.24" cy="440.91" r="1.3" fill="#109190"/>
<circle cx="509.64" cy="410.83" r="1.3" fill="#109190"/>
<circle cx="516.90" cy="427.76" r="1.3" fill="#109190"/>
<circle cx="513.63" cy="425.33" r="1.3" fill="#109190"/>
<circle cx="500.69" cy="433.44" r="1.3" fill="#109190"/>
<circle cx="510.64" cy="418.12" r="1.3" fill="#109190"/>
<circle cx="516.30" cy="430.83" r="1.3" fill="#109190"/>
<circle cx="506.67" cy="447.58" r="1.3" fill="#109190"/>
<circle cx="517.95" cy="421.07" r="1.3" fill="#109190"/>
<circle cx="517.41" cy="417.15" r="1.3" fill="#109190"/>
<circle cx="511.57" cy="422.99" r="1.3" fill="#109190"/>
<circle cx="513.68" cy="420.66" r="1.3" fill="#109190"/>
<circle cx="509.63" cy="421.81" r="1.3" fill="#109190"/>
<circle cx="503.05" cy="434.32" r="1.3" fill="#109190"/>
<circle cx="514.23" cy="423.03" r="1.3" fill="#109190"/>
<circle cx="513.50" cy="427.90" r="1.3" fill="#109190"/>
<circle cx="511.18" cy="442.22" r="1.3" fill="#109190"/>
<circle cx="507.25" cy="411.27" r="1.3" fill="#109190"/>
<circle cx="506.32" cy="432.27" r="1.3" fill="#109190"/>
<circle cx="510.09" cy="439.93" r="1.3" fill="#109190"/>
<circle cx="509.51" cy="427.30" r="1.3" fill="#109190"/>
<circle cx="503.67" cy="442.85" r="1.3" fill="#109190"/>
<circle cx="510.82" cy="446.29" r="1.3" fill="#109190"/>
<circle cx="513.78" cy="432.99" r="1.3" fill="#109190"/>
<circle cx="500.50" cy="436.49" r="1.3" fill="#109190"/>
<circle cx="518.84" cy="435.64" r="1.3" fill="#109190"/>
<circle cx="513.45" cy="438.44" r="1.3" fill="#109190"/>
<circle cx="507.49" cy="425.55" r="1.3" fill="#109190"/>
<circle cx="510.61" cy="437.17" r="1.3" fill="#109190"/>
<circle cx="503.80" cy="438.84" r="1.3" fill="#109190"/>
<circle cx="507.64" cy="413.53" r="1.3" fill="#109190"/>
<circle cx="513.51" cy="444.02" r="1.3" fill="#109190"/>
<circle cx="518.50" cy="425.07" r="1.3" fill="#109190"/>
<circle cx="502.96" cy="417.52" r="1.3" fill="#109190"/>
<circle cx="516.21" cy="439.15" r="1.3" fill="#109190"/>
<circle cx="506.14" cy="445.13" r="1.3" fill="#109190"/>
<circle cx="510.76" cy="432.54" r="1.3" fill="#109190"/>
<circle cx="508.39" cy="444.98" r="1.3" fill="#109190"/>
<circle cx="502.25" cy="440.52" r="1.3" fill="#109190"/>
<circle cx="506.11" cy="434.78" r="1.3" fill="#109190"/>
<circle cx="500.12" cy="422.55" r="1.3" fill="#109190"/>
<circle cx="498.57" cy="416.90" r="1.3" fill="#109190"/>
<circle cx="506.06" cy="420.84" r="1.3" fill="#109190"/>
<circle cx="508.32" cy="416.44" r="1.3" fill="#109190"/>
<circle cx="504.80" cy="423.10" r="1.3" fill="#109190"/>
<circle cx="518.50" cy="429.72" r="1.3" fill="#109190"/>
<circle cx="507.81" cy="430.12" r="1.3" fill="#109190"/>
<circle cx="502.46" cy="426.60" r="1.3" fill="#109190"/>
<circle cx="505.01" cy="429.41" r="1.3" fill="#109190"/>
<circle cx="507.78" cy="442.70" r="1.3" fill="#109190"/>
<circle cx="517.23" cy="433.47" r="1.3" fill="#109190"/>
<circle cx="502.75" cy="446.52" r="1.3" fill="#109190"/>
<circle cx="507.09" cy="418.71" r="1.3" fill="#109190"/>
<circle cx="514.47" cy="415.91" r="1.3" fill="#109190"/>
<circle cx="498.12" cy="421.20" r="1.3" fill="#109190"/>
<circle cx="513.38" cy="430.30" r="1.3" fill="#109190"/>
<circle cx="498.48" cy="427.30" r="1.3" fill="#109190"/>
<circle cx="513.79" cy="446.72" r="1.3" fill="#109190"/>
<circle cx="507.21" cy="438.99" r="1.3" fill="#109190"/>
<circle cx="501.82" cy="430.23" r="1.3" fill="#109190"/>
<circle cx="512.74" cy="417.29" r="1.3" fill="#109190"/>
<circle cx="509.11" cy="448.16" r="1.3" fill="#109190"/>
<circle cx="514.06" cy="441.78" r="1.3" fill="#109190"/>
<circle cx="502.86" cy="424.22" r="1.3" fill="#109190"/>
<circle cx="499.67" cy="419.16" r="1.3" fill="#109190"/>
<circle cx="501.02" cy="416.17" r="1.3" fill="#109190"/>
<circle cx="504.06" cy="415.59" r="1.3" fill="#109190"/>
<circle cx="513.08" cy="435.71" r="1.3" fill="#109190"/>
<circle cx="498.72" cy="432.30" r="1.3" fill="#109190"/>
<circle cx="507.58" cy="422.53" r="1.3" fill="#109190"/>
<circle cx="510.22" cy="414.69" r="1.3" fill="#109190"/>
<circle cx="508.18" cy="436.46" r="1.3" fill="#109190"/>
<circle cx="515.36" cy="418.91" r="1.3" fill="#109190"/>
<circle cx="511.18" cy="425.14" r="1.3" fill="#109190"/>
<circle cx="502.70" cy="436.90" r="1.3" fill="#109190"/>
<circle cx="497.83" cy="436.31" r="1.3" fill="#109190"/>
<circle cx="510.08" cy="434.69" r="1.3" fill="#109190"/>
<circle cx="510.61" cy="429.19" r="1.3" fill="#109190"/>
<circle cx="500.64" cy="425.18" r="1.3" fill="#109190"/>
<circle cx="503.54" cy="431.67" r="1.3" fill="#109190"/>
<circle cx="508.65" cy="433.04" r="1.3" fill="#109190"/>
<circle cx="499.66" cy="429.24" r="1.3" fill="#109190"/>
<circle cx="515.88" cy="425.74" r="1.3" fill="#109190"/>
<circle cx="516.78" cy="436.81" r="1.3" fill="#109190"/>
<circle cx="505.10" cy="436.79" r="1.3" fill="#109190"/>
<circle cx="501.85" cy="419.79" r="1.3" fill="#109190"/>
<circle cx="517.00" cy="423.04" r="1.3" fill="#109190"/>
<circle cx="506.84" cy="427.65" r="1.3" fill="#109190"/>
<circle cx="519.20" cy="432.03" r="1.3" fill="#109190"/>
<circle cx="505.32" cy="425.72" r="1.3" fill="#109190"/>
<circle cx="515.24" cy="435.27" r="1.3" fill="#109190"/>
<circle cx="498.17" cy="424.17" r="1.3" fill="#109190"/>
<circle cx="506.06" cy="416.59" r="1.3" fill="#109190"/>
<circle cx="509.23" cy="424.06" r="1.3" fill="#109190"/>
<circle cx="502.56" cy="421.89" r="1.3" fill="#109190"/>
<circle cx="512.29" cy="440.37" r="1.3" fill="#109190"/>
<circle cx="501.03" cy="438.66" r="1.3" fill="#109190"/>
<circle cx="511.56" cy="420.07" r="1.3" fill="#109190"/>
<circle cx="518.60" cy="418.97" r="1.3" fill="#109190"/>
<circle cx="516.21" cy="441.48" r="1.3" fill="#109190"/>
<circle cx="512.39" cy="415.11" r="1.3" fill="#109190"/>
<circle cx="506.09" cy="451.84" r="1.3" fill="#109190"/>
<circle cx="508.38" cy="452.64" r="1.3" fill="#109190"/>
<circle cx="510.66" cy="453.22" r="1.3" fill="#109190"/>
<circle cx="506.46" cy="454.08" r="1.3" fill="#109190"/>
<circle cx="508.40" cy="364.90" r="1.3" fill="#109190"/>
<circle cx="508.40" cy="388.00" r="1.3" fill="#109190"/>
<circle cx="509.40" cy="390.00" r="1.3" fill="#109190"/>
<circle cx="507.90" cy="392.00" r="1.3" fill="#109190"/>
<circle cx="508.40" cy="399.60" r="1.3" fill="#109190"/>
<circle cx="507.60" cy="406.50" r="1.3" fill="#109190"/>
<circle cx="509.40" cy="407.80" r="1.3" fill="#109190"/>
<circle cx="500.40" cy="414.30" r="1.3" fill="#109190"/>
<circle cx="508.40" cy="457.00" r="1.3" fill="#109190"/>
<line x1="458.20" y1="433.00" x2="483.20" y2="433.00" stroke="#921b22" stroke-width="1.75"/>
<line x1="496.00" y1="429.90" x2="520.80" y2="429.90" stroke="#921b22" stroke-width="1.75"/>
<line x1="584.00" y1="471.80" x2="670.20" y2="471.80" stroke="#a8a8a8" stroke-width="1.3"/>
<line x1="608.40" y1="471.80" x2="608.40" y2="476.60" stroke="#a8a8a8" stroke-width="0.9"/>
<text x="608.40" y="491.00" font-size="11" text-anchor="middle" fill="#404040">acc</text>
<line x1="645.80" y1="471.80" x2="645.80" y2="476.60" stroke="#a8a8a8" stroke-width="0.9"/>
<text x="645.80" y="491.00" font-size="11" text-anchor="middle" fill="#404040">alt</text>
<line x1="584.00" y1="341.40" x2="584.00" y2="471.80" stroke="#707070" stroke-width="0.8"/>
<line x1="579.20" y1="471.80" x2="584.00" y2="471.80" stroke="#8c8c8c" stroke-width="0.8"/>
<text x="574.00" y="474.90" font-size="9.5" text-anchor="end" fill="#404040">0</text>
<line x1="579.20" y1="439.20" x2="584.00" y2="439.20" stroke="#8c8c8c" stroke-width="0.8"/>
<text x="574.00" y="442.30" font-size="9.5" text-anchor="end" fill="#404040">10</text>
<line x1="579.20" y1="406.60" x2="584.00" y2="406.60" stroke="#8c8c8c" stroke-width="0.8"/>
<text x="574.00" y="409.70" font-size="9.5" text-anchor="end" fill="#404040">20</text>
<line x1="579.20" y1="374.00" x2="584.00" y2="374.00" stroke="#8c8c8c" stroke-width="0.8"/>
<text x="574.00" y="377.10" font-size="9.5" text-anchor="end" fill="#404040">30</text>
<line x1="579.20" y1="341.40" x2="584.00" y2="341.40" stroke="#8c8c8c" stroke-width="0.8"/>
<text x="574.00" y="344.50" font-size="9.5" text-anchor="end" fill="#404040">40</text>
<polyline points="608.40,353.40 608.40,345.40 645.80,345.40 645.80,356.00" fill="none" stroke="#7a7a7a" stroke-width="0.8"/>
<text x="627.10" y="342.90" font-size="10" text-anchor="middle" fill="#404040">NS</text>
<text x="555.00" y="406.80" font-size="11.4" text-anchor="middle" fill="#404040" transform="rotate(-90 555.00 406.80)">Td (h)</text>
<line x1="607.10" y1="360.96" x2="609.71" y2="360.96" stroke="#109190" stroke-width="2.60" stroke-linecap="round"/>
<line x1="608.40" y1="380.52" x2="608.41" y2="380.52" stroke="#109190" stroke-width="2.60" stroke-linecap="round"/>
<line x1="606.20" y1="387.04" x2="610.61" y2="387.04" stroke="#109190" stroke-width="2.60" stroke-linecap="round"/>
<line x1="608.40" y1="390.30" x2="608.41" y2="390.30" stroke="#109190" stroke-width="2.60" stroke-linecap="round"/>
<line x1="606.20" y1="393.56" x2="610.61" y2="393.56" stroke="#109190" stroke-width="2.60" stroke-linecap="round"/>
<line x1="606.70" y1="396.82" x2="610.11" y2="396.82" stroke="#109190" stroke-width="2.60" stroke-linecap="round"/>
<line x1="606.20" y1="400.08" x2="610.61" y2="400.08" stroke="#109190" stroke-width="2.60" stroke-linecap="round"/>
<line x1="605.00" y1="403.34" x2="611.81" y2="403.34" stroke="#109190" stroke-width="2.60" stroke-linecap="round"/>
<line x1="601.20" y1="406.60" x2="615.61" y2="406.60" stroke="#109190" stroke-width="2.60" stroke-linecap="round"/>
<line x1="605.60" y1="409.86" x2="611.21" y2="409.86" stroke="#109190" stroke-width="2.60" stroke-linecap="round"/>
<line x1="597.30" y1="413.12" x2="619.51" y2="413.12" stroke="#109190" stroke-width="2.60" stroke-linecap="round"/>
<line x1="597.30" y1="416.38" x2="619.51" y2="416.38" stroke="#109190" stroke-width="2.60" stroke-linecap="round"/>
<line x1="597.30" y1="419.64" x2="619.51" y2="419.64" stroke="#109190" stroke-width="2.60" stroke-linecap="round"/>
<line x1="599.30" y1="422.90" x2="617.51" y2="422.90" stroke="#109190" stroke-width="2.60" stroke-linecap="round"/>
<line x1="601.20" y1="426.16" x2="615.61" y2="426.16" stroke="#109190" stroke-width="2.60" stroke-linecap="round"/>
<line x1="599.30" y1="429.42" x2="617.51" y2="429.42" stroke="#109190" stroke-width="2.60" stroke-linecap="round"/>
<line x1="603.20" y1="432.68" x2="613.61" y2="432.68" stroke="#109190" stroke-width="2.60" stroke-linecap="round"/>
<line x1="607.90" y1="435.94" x2="608.91" y2="435.94" stroke="#109190" stroke-width="2.60" stroke-linecap="round"/>
<line x1="607.90" y1="439.20" x2="608.91" y2="439.20" stroke="#109190" stroke-width="2.60" stroke-linecap="round"/>
<line x1="606.20" y1="442.46" x2="610.61" y2="442.46" stroke="#109190" stroke-width="2.60" stroke-linecap="round"/>
<line x1="608.40" y1="448.98" x2="608.41" y2="448.98" stroke="#109190" stroke-width="2.60" stroke-linecap="round"/>
<line x1="608.40" y1="455.50" x2="608.41" y2="455.50" stroke="#109190" stroke-width="2.60" stroke-linecap="round"/>
<line x1="645.80" y1="364.22" x2="645.81" y2="364.22" stroke="#109190" stroke-width="2.60" stroke-linecap="round"/>
<line x1="645.80" y1="370.74" x2="645.81" y2="370.74" stroke="#109190" stroke-width="2.60" stroke-linecap="round"/>
<line x1="645.80" y1="377.26" x2="645.81" y2="377.26" stroke="#109190" stroke-width="2.60" stroke-linecap="round"/>
<line x1="645.30" y1="380.52" x2="646.31" y2="380.52" stroke="#109190" stroke-width="2.60" stroke-linecap="round"/>
<line x1="643.80" y1="383.78" x2="647.81" y2="383.78" stroke="#109190" stroke-width="2.60" stroke-linecap="round"/>
<line x1="644.50" y1="387.04" x2="647.11" y2="387.04" stroke="#109190" stroke-width="2.60" stroke-linecap="round"/>
<line x1="645.30" y1="390.30" x2="646.31" y2="390.30" stroke="#109190" stroke-width="2.60" stroke-linecap="round"/>
<line x1="644.50" y1="393.56" x2="647.11" y2="393.56" stroke="#109190" stroke-width="2.60" stroke-linecap="round"/>
<line x1="644.50" y1="396.82" x2="647.11" y2="396.82" stroke="#109190" stroke-width="2.60" stroke-linecap="round"/>
<line x1="641.80" y1="400.08" x2="649.81" y2="400.08" stroke="#109190" stroke-width="2.60" stroke-linecap="round"/>
<line x1="644.50" y1="403.34" x2="647.11" y2="403.34" stroke="#109190" stroke-width="2.60" stroke-linecap="round"/>
<line x1="637.90" y1="406.60" x2="653.71" y2="406.60" stroke="#109190" stroke-width="2.60" stroke-linecap="round"/>
<line x1="643.00" y1="409.86" x2="648.61" y2="409.86" stroke="#109190" stroke-width="2.60" stroke-linecap="round"/>
<line x1="641.80" y1="413.12" x2="649.81" y2="413.12" stroke="#109190" stroke-width="2.60" stroke-linecap="round"/>
<line x1="641.20" y1="416.38" x2="650.41" y2="416.38" stroke="#109190" stroke-width="2.60" stroke-linecap="round"/>
<line x1="634.70" y1="419.64" x2="656.91" y2="419.64" stroke="#109190" stroke-width="2.60" stroke-linecap="round"/>
<line x1="637.10" y1="422.90" x2="654.51" y2="422.90" stroke="#109190" stroke-width="2.60" stroke-linecap="round"/>
<line x1="635.30" y1="426.16" x2="656.31" y2="426.16" stroke="#109190" stroke-width="2.60" stroke-linecap="round"/>
<line x1="640.60" y1="429.42" x2="651.01" y2="429.42" stroke="#109190" stroke-width="2.60" stroke-linecap="round"/>
<line x1="637.90" y1="432.68" x2="653.71" y2="432.68" stroke="#109190" stroke-width="2.60" stroke-linecap="round"/>
<line x1="643.00" y1="435.94" x2="648.61" y2="435.94" stroke="#109190" stroke-width="2.60" stroke-linecap="round"/>
<line x1="645.80" y1="439.20" x2="645.81" y2="439.20" stroke="#109190" stroke-width="2.60" stroke-linecap="round"/>
<line x1="645.80" y1="445.72" x2="645.81" y2="445.72" stroke="#109190" stroke-width="2.60" stroke-linecap="round"/>
<line x1="645.80" y1="448.98" x2="645.81" y2="448.98" stroke="#109190" stroke-width="2.60" stroke-linecap="round"/>
<line x1="596.00" y1="416.60" x2="620.80" y2="416.60" stroke="#921b22" stroke-width="1.7"/>
<line x1="633.30" y1="419.80" x2="658.30" y2="419.80" stroke="#921b22" stroke-width="1.7"/>
<line x1="38.40" y1="664.00" x2="126.40" y2="664.00" stroke="#a8a8a8" stroke-width="1.3"/>
<line x1="63.30" y1="664.00" x2="63.30" y2="668.80" stroke="#a8a8a8" stroke-width="0.9"/>
<text x="63.30" y="683.20" font-size="11" text-anchor="middle" fill="#404040">acc</text>
<line x1="101.40" y1="664.00" x2="101.40" y2="668.80" stroke="#a8a8a8" stroke-width="0.9"/>
<text x="101.40" y="683.20" font-size="11" text-anchor="middle" fill="#404040">alt</text>
<line x1="38.40" y1="532.30" x2="38.40" y2="664.00" stroke="#707070" stroke-width="0.8"/>
<line x1="33.60" y1="664.00" x2="38.40" y2="664.00" stroke="#8c8c8c" stroke-width="0.8"/>
<text x="28.40" y="667.10" font-size="9.5" text-anchor="end" fill="#404040">0</text>
<line x1="33.60" y1="645.19" x2="38.40" y2="645.19" stroke="#8c8c8c" stroke-width="0.8"/>
<text x="28.40" y="648.29" font-size="9.5" text-anchor="end" fill="#404040">1</text>
<line x1="33.60" y1="626.38" x2="38.40" y2="626.38" stroke="#8c8c8c" stroke-width="0.8"/>
<text x="28.40" y="629.48" font-size="9.5" text-anchor="end" fill="#404040">2</text>
<line x1="33.60" y1="607.57" x2="38.40" y2="607.57" stroke="#8c8c8c" stroke-width="0.8"/>
<text x="28.40" y="610.67" font-size="9.5" text-anchor="end" fill="#404040">3</text>
<line x1="33.60" y1="588.76" x2="38.40" y2="588.76" stroke="#8c8c8c" stroke-width="0.8"/>
<text x="28.40" y="591.86" font-size="9.5" text-anchor="end" fill="#404040">4</text>
<line x1="33.60" y1="569.95" x2="38.40" y2="569.95" stroke="#8c8c8c" stroke-width="0.8"/>
<text x="28.40" y="573.05" font-size="9.5" text-anchor="end" fill="#404040">5</text>
<line x1="33.60" y1="551.14" x2="38.40" y2="551.14" stroke="#8c8c8c" stroke-width="0.8"/>
<text x="28.40" y="554.24" font-size="9.5" text-anchor="end" fill="#404040">6</text>
<line x1="33.60" y1="532.33" x2="38.40" y2="532.33" stroke="#8c8c8c" stroke-width="0.8"/>
<text x="28.40" y="535.43" font-size="9.5" text-anchor="end" fill="#404040">7</text>
<polyline points="63.30,551.50 63.30,543.60 101.40,543.60 101.40,558.30" fill="none" stroke="#7a7a7a" stroke-width="0.8"/>
<path d="M73.65,539.60 L73.65,537.40 M73.65,539.60 L75.74,538.92 M73.65,539.60 L74.94,541.38 M73.65,539.60 L72.36,541.38 M73.65,539.60 L71.56,538.92" stroke="#383838" stroke-width="1.15" stroke-linecap="round" fill="none"/>
<path d="M79.45,539.60 L79.45,537.40 M79.45,539.60 L81.54,538.92 M79.45,539.60 L80.74,541.38 M79.45,539.60 L78.16,541.38 M79.45,539.60 L77.36,538.92" stroke="#383838" stroke-width="1.15" stroke-linecap="round" fill="none"/>
<path d="M85.25,539.60 L85.25,537.40 M85.25,539.60 L87.34,538.92 M85.25,539.60 L86.54,541.38 M85.25,539.60 L83.96,541.38 M85.25,539.60 L83.16,538.92" stroke="#383838" stroke-width="1.15" stroke-linecap="round" fill="none"/>
<path d="M91.05,539.60 L91.05,537.40 M91.05,539.60 L93.14,538.92 M91.05,539.60 L92.34,541.38 M91.05,539.60 L89.76,541.38 M91.05,539.60 L88.96,538.92" stroke="#383838" stroke-width="1.15" stroke-linecap="round" fill="none"/>
<text x="15.20" y="598.00" font-size="11.4" text-anchor="middle" fill="#404040" transform="rotate(-90 15.20 598.00)">Lb (µm)</text>
<circle cx="62.07" cy="568.16" r="1.3" fill="#f7941d"/>
<circle cx="58.88" cy="610.13" r="1.3" fill="#f7941d"/>
<circle cx="60.25" cy="583.10" r="1.3" fill="#f7941d"/>
<circle cx="63.20" cy="560.06" r="1.3" fill="#f7941d"/>
<circle cx="63.07" cy="561.89" r="1.3" fill="#f7941d"/>
<circle cx="62.19" cy="609.38" r="1.3" fill="#f7941d"/>
<circle cx="63.47" cy="607.75" r="1.3" fill="#f7941d"/>
<circle cx="71.58" cy="587.97" r="1.3" fill="#f7941d"/>
<circle cx="66.95" cy="582.81" r="1.3" fill="#f7941d"/>
<circle cx="63.62" cy="585.18" r="1.3" fill="#f7941d"/>
<circle cx="67.64" cy="601.51" r="1.3" fill="#f7941d"/>
<circle cx="65.90" cy="611.37" r="1.3" fill="#f7941d"/>
<circle cx="62.35" cy="573.34" r="1.3" fill="#f7941d"/>
<circle cx="68.72" cy="597.38" r="1.3" fill="#f7941d"/>
<circle cx="53.48" cy="598.41" r="1.3" fill="#f7941d"/>
<circle cx="66.35" cy="577.54" r="1.3" fill="#f7941d"/>
<circle cx="64.20" cy="609.47" r="1.3" fill="#f7941d"/>
<circle cx="64.22" cy="578.99" r="1.3" fill="#f7941d"/>
<circle cx="56.22" cy="600.90" r="1.3" fill="#f7941d"/>
<circle cx="59.41" cy="574.50" r="1.3" fill="#f7941d"/>
<circle cx="59.02" cy="607.88" r="1.3" fill="#f7941d"/>
<circle cx="59.21" cy="601.20" r="1.3" fill="#f7941d"/>
<circle cx="67.93" cy="585.67" r="1.3" fill="#f7941d"/>
<circle cx="68.75" cy="587.71" r="1.3" fill="#f7941d"/>
<circle cx="62.77" cy="614.02" r="1.3" fill="#f7941d"/>
<circle cx="68.02" cy="608.25" r="1.3" fill="#f7941d"/>
<circle cx="60.33" cy="593.17" r="1.3" fill="#f7941d"/>
<circle cx="61.81" cy="599.92" r="1.3" fill="#f7941d"/>
<circle cx="63.12" cy="576.86" r="1.3" fill="#f7941d"/>
<circle cx="59.96" cy="576.28" r="1.3" fill="#f7941d"/>
<circle cx="65.17" cy="605.95" r="1.3" fill="#f7941d"/>
<circle cx="66.57" cy="595.03" r="1.3" fill="#f7941d"/>
<circle cx="53.00" cy="595.46" r="1.3" fill="#f7941d"/>
<circle cx="66.07" cy="604.44" r="1.3" fill="#f7941d"/>
<circle cx="66.17" cy="599.69" r="1.3" fill="#f7941d"/>
<circle cx="54.41" cy="591.19" r="1.3" fill="#f7941d"/>
<circle cx="57.78" cy="599.73" r="1.3" fill="#f7941d"/>
<circle cx="65.98" cy="587.79" r="1.3" fill="#f7941d"/>
<circle cx="65.90" cy="572.30" r="1.3" fill="#f7941d"/>
<circle cx="70.26" cy="604.08" r="1.3" fill="#f7941d"/>
<circle cx="63.04" cy="590.33" r="1.3" fill="#f7941d"/>
<circle cx="57.54" cy="602.57" r="1.3" fill="#f7941d"/>
<circle cx="60.79" cy="608.04" r="1.3" fill="#f7941d"/>
<circle cx="56.35" cy="595.85" r="1.3" fill="#f7941d"/>
<circle cx="52.92" cy="592.08" r="1.3" fill="#f7941d"/>
<circle cx="63.15" cy="563.71" r="1.3" fill="#f7941d"/>
<circle cx="61.61" cy="577.85" r="1.3" fill="#f7941d"/>
<circle cx="64.63" cy="612.65" r="1.3" fill="#f7941d"/>
<circle cx="57.34" cy="586.98" r="1.3" fill="#f7941d"/>
<circle cx="70.76" cy="592.84" r="1.3" fill="#f7941d"/>
<circle cx="63.68" cy="569.35" r="1.3" fill="#f7941d"/>
<circle cx="60.12" cy="579.66" r="1.3" fill="#f7941d"/>
<circle cx="63.97" cy="582.46" r="1.3" fill="#f7941d"/>
<circle cx="65.30" cy="597.30" r="1.3" fill="#f7941d"/>
<circle cx="62.93" cy="588.32" r="1.3" fill="#f7941d"/>
<circle cx="65.40" cy="573.97" r="1.3" fill="#f7941d"/>
<circle cx="55.29" cy="585.03" r="1.3" fill="#f7941d"/>
<circle cx="62.66" cy="597.90" r="1.3" fill="#f7941d"/>
<circle cx="58.79" cy="604.18" r="1.3" fill="#f7941d"/>
<circle cx="67.47" cy="606.47" r="1.3" fill="#f7941d"/>
<circle cx="63.91" cy="575.25" r="1.3" fill="#f7941d"/>
<circle cx="62.26" cy="580.79" r="1.3" fill="#f7941d"/>
<circle cx="61.51" cy="603.02" r="1.3" fill="#f7941d"/>
<circle cx="61.10" cy="612.25" r="1.3" fill="#f7941d"/>
<circle cx="62.46" cy="604.67" r="1.3" fill="#f7941d"/>
<circle cx="63.14" cy="566.19" r="1.3" fill="#f7941d"/>
<circle cx="72.98" cy="597.18" r="1.3" fill="#f7941d"/>
<circle cx="67.70" cy="590.37" r="1.3" fill="#f7941d"/>
<circle cx="66.32" cy="591.37" r="1.3" fill="#f7941d"/>
<circle cx="58.96" cy="594.90" r="1.3" fill="#f7941d"/>
<circle cx="56.82" cy="590.10" r="1.3" fill="#f7941d"/>
<circle cx="69.56" cy="591.59" r="1.3" fill="#f7941d"/>
<circle cx="60.59" cy="571.78" r="1.3" fill="#f7941d"/>
<circle cx="64.03" cy="571.47" r="1.3" fill="#f7941d"/>
<circle cx="69.62" cy="601.63" r="1.3" fill="#f7941d"/>
<circle cx="72.67" cy="594.21" r="1.3" fill="#f7941d"/>
<circle cx="71.58" cy="584.82" r="1.3" fill="#f7941d"/>
<circle cx="62.96" cy="611.68" r="1.3" fill="#f7941d"/>
<circle cx="65.96" cy="602.31" r="1.3" fill="#f7941d"/>
<circle cx="68.18" cy="595.66" r="1.3" fill="#f7941d"/>
<circle cx="67.42" cy="573.08" r="1.3" fill="#f7941d"/>
<circle cx="70.28" cy="596.22" r="1.3" fill="#f7941d"/>
<circle cx="58.89" cy="598.28" r="1.3" fill="#f7941d"/>
<circle cx="60.11" cy="585.13" r="1.3" fill="#f7941d"/>
<circle cx="63.62" cy="602.15" r="1.3" fill="#f7941d"/>
<circle cx="73.04" cy="592.18" r="1.3" fill="#f7941d"/>
<circle cx="68.91" cy="582.91" r="1.3" fill="#f7941d"/>
<circle cx="61.46" cy="595.48" r="1.3" fill="#f7941d"/>
<circle cx="65.41" cy="584.28" r="1.3" fill="#f7941d"/>
<circle cx="56.17" cy="592.18" r="1.3" fill="#f7941d"/>
<circle cx="69.00" cy="593.83" r="1.3" fill="#f7941d"/>
<circle cx="64.72" cy="593.13" r="1.3" fill="#f7941d"/>
<circle cx="61.74" cy="570.08" r="1.3" fill="#f7941d"/>
<circle cx="59.24" cy="606.09" r="1.3" fill="#f7941d"/>
<circle cx="59.36" cy="589.77" r="1.3" fill="#f7941d"/>
<circle cx="64.85" cy="567.04" r="1.3" fill="#f7941d"/>
<circle cx="65.11" cy="615.02" r="1.3" fill="#f7941d"/>
<circle cx="61.46" cy="615.13" r="1.3" fill="#f7941d"/>
<circle cx="57.01" cy="597.51" r="1.3" fill="#f7941d"/>
<circle cx="68.52" cy="603.13" r="1.3" fill="#f7941d"/>
<circle cx="55.83" cy="588.30" r="1.3" fill="#f7941d"/>
<circle cx="66.33" cy="575.72" r="1.3" fill="#f7941d"/>
<circle cx="54.30" cy="593.72" r="1.3" fill="#f7941d"/>
<circle cx="65.89" cy="580.02" r="1.3" fill="#f7941d"/>
<circle cx="57.59" cy="593.33" r="1.3" fill="#f7941d"/>
<circle cx="63.27" cy="594.17" r="1.3" fill="#f7941d"/>
<circle cx="56.76" cy="583.74" r="1.3" fill="#f7941d"/>
<circle cx="62.43" cy="592.08" r="1.3" fill="#f7941d"/>
<circle cx="67.01" cy="609.78" r="1.3" fill="#f7941d"/>
<circle cx="68.18" cy="604.86" r="1.3" fill="#f7941d"/>
<circle cx="63.95" cy="599.98" r="1.3" fill="#f7941d"/>
<circle cx="53.36" cy="585.23" r="1.3" fill="#f7941d"/>
<circle cx="60.77" cy="597.84" r="1.3" fill="#f7941d"/>
<circle cx="59.41" cy="587.41" r="1.3" fill="#f7941d"/>
<circle cx="60.92" cy="588.51" r="1.3" fill="#f7941d"/>
<circle cx="73.73" cy="585.63" r="1.3" fill="#f7941d"/>
<circle cx="71.10" cy="589.98" r="1.3" fill="#f7941d"/>
<circle cx="64.36" cy="603.78" r="1.3" fill="#f7941d"/>
<circle cx="61.55" cy="586.67" r="1.3" fill="#f7941d"/>
<circle cx="66.20" cy="607.61" r="1.3" fill="#f7941d"/>
<circle cx="59.99" cy="581.36" r="1.3" fill="#f7941d"/>
<circle cx="54.11" cy="587.02" r="1.3" fill="#f7941d"/>
<circle cx="69.11" cy="599.74" r="1.3" fill="#f7941d"/>
<circle cx="65.41" cy="568.82" r="1.3" fill="#f7941d"/>
<circle cx="64.47" cy="586.93" r="1.3" fill="#f7941d"/>
<circle cx="56.48" cy="604.05" r="1.3" fill="#f7941d"/>
<circle cx="57.97" cy="588.70" r="1.3" fill="#f7941d"/>
<circle cx="64.53" cy="589.49" r="1.3" fill="#f7941d"/>
<circle cx="71.38" cy="599.93" r="1.3" fill="#f7941d"/>
<circle cx="54.67" cy="596.45" r="1.3" fill="#f7941d"/>
<circle cx="61.87" cy="584.16" r="1.3" fill="#f7941d"/>
<circle cx="69.52" cy="584.71" r="1.3" fill="#f7941d"/>
<circle cx="61.62" cy="575.32" r="1.3" fill="#f7941d"/>
<circle cx="60.61" cy="590.99" r="1.3" fill="#f7941d"/>
<circle cx="69.28" cy="589.50" r="1.3" fill="#f7941d"/>
<circle cx="70.57" cy="586.44" r="1.3" fill="#f7941d"/>
<circle cx="61.18" cy="606.26" r="1.3" fill="#f7941d"/>
<circle cx="58.55" cy="582.34" r="1.3" fill="#f7941d"/>
<circle cx="60.63" cy="610.16" r="1.3" fill="#f7941d"/>
<circle cx="67.07" cy="592.95" r="1.3" fill="#f7941d"/>
<circle cx="59.12" cy="591.94" r="1.3" fill="#f7941d"/>
<circle cx="54.22" cy="589.46" r="1.3" fill="#f7941d"/>
<circle cx="55.44" cy="599.27" r="1.3" fill="#f7941d"/>
<circle cx="63.88" cy="595.81" r="1.3" fill="#f7941d"/>
<circle cx="58.35" cy="585.33" r="1.3" fill="#f7941d"/>
<circle cx="67.71" cy="598.75" r="1.3" fill="#f7941d"/>
<circle cx="70.18" cy="598.37" r="1.3" fill="#f7941d"/>
<circle cx="59.63" cy="577.97" r="1.3" fill="#f7941d"/>
<circle cx="66.10" cy="585.92" r="1.3" fill="#f7941d"/>
<circle cx="64.00" cy="580.72" r="1.3" fill="#f7941d"/>
<circle cx="56.07" cy="594.17" r="1.3" fill="#f7941d"/>
<circle cx="65.62" cy="581.73" r="1.3" fill="#f7941d"/>
<circle cx="60.54" cy="604.45" r="1.3" fill="#f7941d"/>
<circle cx="59.94" cy="599.64" r="1.3" fill="#f7941d"/>
<circle cx="64.57" cy="591.38" r="1.3" fill="#f7941d"/>
<circle cx="59.76" cy="596.45" r="1.3" fill="#f7941d"/>
<circle cx="101.50" cy="571.54" r="1.3" fill="#f7941d"/>
<circle cx="100.98" cy="573.78" r="1.3" fill="#f7941d"/>
<circle cx="101.58" cy="575.47" r="1.3" fill="#f7941d"/>
<circle cx="97.92" cy="607.71" r="1.3" fill="#f7941d"/>
<circle cx="95.55" cy="603.96" r="1.3" fill="#f7941d"/>
<circle cx="97.84" cy="614.24" r="1.3" fill="#f7941d"/>
<circle cx="110.04" cy="609.47" r="1.3" fill="#f7941d"/>
<circle cx="101.15" cy="587.81" r="1.3" fill="#f7941d"/>
<circle cx="101.11" cy="605.91" r="1.3" fill="#f7941d"/>
<circle cx="96.53" cy="592.70" r="1.3" fill="#f7941d"/>
<circle cx="93.88" cy="601.85" r="1.3" fill="#f7941d"/>
<circle cx="102.14" cy="580.68" r="1.3" fill="#f7941d"/>
<circle cx="96.18" cy="615.74" r="1.3" fill="#f7941d"/>
<circle cx="102.85" cy="617.20" r="1.3" fill="#f7941d"/>
<circle cx="109.35" cy="606.28" r="1.3" fill="#f7941d"/>
<circle cx="99.75" cy="594.27" r="1.3" fill="#f7941d"/>
<circle cx="102.39" cy="585.44" r="1.3" fill="#f7941d"/>
<circle cx="107.43" cy="605.34" r="1.3" fill="#f7941d"/>
<circle cx="101.62" cy="610.64" r="1.3" fill="#f7941d"/>
<circle cx="106.67" cy="608.34" r="1.3" fill="#f7941d"/>
<circle cx="99.51" cy="600.24" r="1.3" fill="#f7941d"/>
<circle cx="93.13" cy="599.49" r="1.3" fill="#f7941d"/>
<circle cx="106.65" cy="602.32" r="1.3" fill="#f7941d"/>
<circle cx="98.43" cy="610.15" r="1.3" fill="#f7941d"/>
<circle cx="107.50" cy="597.23" r="1.3" fill="#f7941d"/>
<circle cx="105.50" cy="594.98" r="1.3" fill="#f7941d"/>
<circle cx="108.74" cy="611.00" r="1.3" fill="#f7941d"/>
<circle cx="90.76" cy="604.69" r="1.3" fill="#f7941d"/>
<circle cx="93.31" cy="604.51" r="1.3" fill="#f7941d"/>
<circle cx="103.77" cy="602.12" r="1.3" fill="#f7941d"/>
<circle cx="102.38" cy="619.89" r="1.3" fill="#f7941d"/>
<circle cx="103.44" cy="591.23" r="1.3" fill="#f7941d"/>
<circle cx="95.67" cy="594.47" r="1.3" fill="#f7941d"/>
<circle cx="109.63" cy="603.14" r="1.3" fill="#f7941d"/>
<circle cx="101.22" cy="584.15" r="1.3" fill="#f7941d"/>
<circle cx="102.55" cy="606.93" r="1.3" fill="#f7941d"/>
<circle cx="99.13" cy="588.72" r="1.3" fill="#f7941d"/>
<circle cx="101.31" cy="582.35" r="1.3" fill="#f7941d"/>
<circle cx="102.93" cy="593.51" r="1.3" fill="#f7941d"/>
<circle cx="100.13" cy="615.64" r="1.3" fill="#f7941d"/>
<circle cx="104.99" cy="609.72" r="1.3" fill="#f7941d"/>
<circle cx="100.99" cy="603.23" r="1.3" fill="#f7941d"/>
<circle cx="92.88" cy="606.54" r="1.3" fill="#f7941d"/>
<circle cx="106.71" cy="610.93" r="1.3" fill="#f7941d"/>
<circle cx="106.55" cy="599.54" r="1.3" fill="#f7941d"/>
<circle cx="108.57" cy="601.36" r="1.3" fill="#f7941d"/>
<circle cx="100.33" cy="612.25" r="1.3" fill="#f7941d"/>
<circle cx="104.72" cy="611.79" r="1.3" fill="#f7941d"/>
<circle cx="107.01" cy="615.66" r="1.3" fill="#f7941d"/>
<circle cx="104.03" cy="614.97" r="1.3" fill="#f7941d"/>
<circle cx="98.03" cy="615.96" r="1.3" fill="#f7941d"/>
<circle cx="101.89" cy="613.92" r="1.3" fill="#f7941d"/>
<circle cx="104.99" cy="592.51" r="1.3" fill="#f7941d"/>
<circle cx="96.87" cy="595.80" r="1.3" fill="#f7941d"/>
<circle cx="111.04" cy="607.39" r="1.3" fill="#f7941d"/>
<circle cx="101.91" cy="608.85" r="1.3" fill="#f7941d"/>
<circle cx="99.21" cy="597.95" r="1.3" fill="#f7941d"/>
<circle cx="106.07" cy="613.49" r="1.3" fill="#f7941d"/>
<circle cx="108.63" cy="598.61" r="1.3" fill="#f7941d"/>
<circle cx="102.54" cy="588.83" r="1.3" fill="#f7941d"/>
<circle cx="100.56" cy="592.31" r="1.3" fill="#f7941d"/>
<circle cx="92.08" cy="602.28" r="1.3" fill="#f7941d"/>
<circle cx="92.67" cy="609.88" r="1.3" fill="#f7941d"/>
<circle cx="99.55" cy="618.28" r="1.3" fill="#f7941d"/>
<circle cx="95.24" cy="597.68" r="1.3" fill="#f7941d"/>
<circle cx="92.22" cy="612.15" r="1.3" fill="#f7941d"/>
<circle cx="99.67" cy="602.04" r="1.3" fill="#f7941d"/>
<circle cx="103.88" cy="587.54" r="1.3" fill="#f7941d"/>
<circle cx="94.60" cy="614.69" r="1.3" fill="#f7941d"/>
<circle cx="104.90" cy="616.73" r="1.3" fill="#f7941d"/>
<circle cx="98.84" cy="605.22" r="1.3" fill="#f7941d"/>
<circle cx="90.96" cy="609.22" r="1.3" fill="#f7941d"/>
<circle cx="98.88" cy="592.62" r="1.3" fill="#f7941d"/>
<circle cx="96.19" cy="610.36" r="1.3" fill="#f7941d"/>
<circle cx="102.27" cy="599.87" r="1.3" fill="#f7941d"/>
<circle cx="108.82" cy="608.27" r="1.3" fill="#f7941d"/>
<circle cx="96.35" cy="599.17" r="1.3" fill="#f7941d"/>
<circle cx="105.56" cy="596.75" r="1.3" fill="#f7941d"/>
<circle cx="94.48" cy="607.44" r="1.3" fill="#f7941d"/>
<circle cx="110.22" cy="600.10" r="1.3" fill="#f7941d"/>
<circle cx="102.45" cy="595.29" r="1.3" fill="#f7941d"/>
<circle cx="108.10" cy="613.61" r="1.3" fill="#f7941d"/>
<circle cx="100.25" cy="590.25" r="1.3" fill="#f7941d"/>
<circle cx="100.66" cy="585.91" r="1.3" fill="#f7941d"/>
<circle cx="100.79" cy="579.55" r="1.3" fill="#f7941d"/>
<circle cx="95.46" cy="605.86" r="1.3" fill="#f7941d"/>
<circle cx="94.25" cy="611.82" r="1.3" fill="#f7941d"/>
<circle cx="101.61" cy="596.78" r="1.3" fill="#f7941d"/>
<circle cx="100.14" cy="619.92" r="1.3" fill="#f7941d"/>
<circle cx="111.45" cy="602.68" r="1.3" fill="#f7941d"/>
<circle cx="103.57" cy="605.16" r="1.3" fill="#f7941d"/>
<circle cx="98.02" cy="601.16" r="1.3" fill="#f7941d"/>
<circle cx="97.19" cy="612.31" r="1.3" fill="#f7941d"/>
<circle cx="98.04" cy="603.42" r="1.3" fill="#f7941d"/>
<circle cx="112.22" cy="605.54" r="1.3" fill="#f7941d"/>
<circle cx="105.22" cy="604.37" r="1.3" fill="#f7941d"/>
<circle cx="104.85" cy="599.73" r="1.3" fill="#f7941d"/>
<circle cx="98.60" cy="590.74" r="1.3" fill="#f7941d"/>
<circle cx="110.85" cy="611.34" r="1.3" fill="#f7941d"/>
<circle cx="95.62" cy="608.73" r="1.3" fill="#f7941d"/>
<circle cx="109.55" cy="612.61" r="1.3" fill="#f7941d"/>
<circle cx="91.06" cy="607.20" r="1.3" fill="#f7941d"/>
<circle cx="98.63" cy="596.01" r="1.3" fill="#f7941d"/>
<circle cx="111.82" cy="609.64" r="1.3" fill="#f7941d"/>
<circle cx="95.53" cy="601.24" r="1.3" fill="#f7941d"/>
<circle cx="103.99" cy="597.89" r="1.3" fill="#f7941d"/>
<circle cx="99.67" cy="608.65" r="1.3" fill="#f7941d"/>
<circle cx="105.52" cy="606.66" r="1.3" fill="#f7941d"/>
<circle cx="97.49" cy="597.48" r="1.3" fill="#f7941d"/>
<circle cx="104.33" cy="589.73" r="1.3" fill="#f7941d"/>
<circle cx="100.75" cy="598.83" r="1.3" fill="#f7941d"/>
<circle cx="106.67" cy="593.62" r="1.3" fill="#f7941d"/>
<circle cx="99.65" cy="613.91" r="1.3" fill="#f7941d"/>
<circle cx="97.99" cy="594.34" r="1.3" fill="#f7941d"/>
<circle cx="107.41" cy="595.44" r="1.3" fill="#f7941d"/>
<circle cx="103.42" cy="613.15" r="1.3" fill="#f7941d"/>
<circle cx="101.47" cy="618.30" r="1.3" fill="#f7941d"/>
<circle cx="103.77" cy="608.50" r="1.3" fill="#f7941d"/>
<circle cx="96.97" cy="604.98" r="1.3" fill="#f7941d"/>
<circle cx="95.67" cy="613.34" r="1.3" fill="#f7941d"/>
<circle cx="110.69" cy="604.60" r="1.3" fill="#f7941d"/>
<circle cx="101.97" cy="601.71" r="1.3" fill="#f7941d"/>
<circle cx="99.31" cy="587.03" r="1.3" fill="#f7941d"/>
<circle cx="99.63" cy="606.90" r="1.3" fill="#f7941d"/>
<circle cx="94.51" cy="610.07" r="1.3" fill="#f7941d"/>
<circle cx="90.61" cy="611.13" r="1.3" fill="#f7941d"/>
<circle cx="110.53" cy="598.21" r="1.3" fill="#f7941d"/>
<circle cx="103.30" cy="610.15" r="1.3" fill="#f7941d"/>
<circle cx="99.29" cy="624.28" r="1.3" fill="#f7941d"/>
<circle cx="103.76" cy="624.52" r="1.3" fill="#f7941d"/>
<circle cx="101.16" cy="623.29" r="1.3" fill="#f7941d"/>
<circle cx="101.18" cy="625.12" r="1.3" fill="#f7941d"/>
<circle cx="101.40" cy="566.40" r="1.3" fill="#f7941d"/>
<line x1="50.50" y1="592.40" x2="76.10" y2="592.40" stroke="#921b22" stroke-width="1.75"/>
<line x1="88.90" y1="603.70" x2="113.90" y2="603.70" stroke="#921b22" stroke-width="1.75"/>
<line x1="172.50" y1="663.80" x2="259.80" y2="663.80" stroke="#a8a8a8" stroke-width="1.3"/>
<line x1="197.40" y1="663.80" x2="197.40" y2="668.60" stroke="#a8a8a8" stroke-width="0.9"/>
<text x="197.40" y="683.00" font-size="11" text-anchor="middle" fill="#404040">acc</text>
<line x1="234.80" y1="663.80" x2="234.80" y2="668.60" stroke="#a8a8a8" stroke-width="0.9"/>
<text x="234.80" y="683.00" font-size="11" text-anchor="middle" fill="#404040">alt</text>
<line x1="172.50" y1="532.00" x2="172.50" y2="663.80" stroke="#707070" stroke-width="0.8"/>
<line x1="167.70" y1="663.80" x2="172.50" y2="663.80" stroke="#8c8c8c" stroke-width="0.8"/>
<text x="162.50" y="666.90" font-size="9.5" text-anchor="end" fill="#404040">0</text>
<line x1="167.70" y1="641.84" x2="172.50" y2="641.84" stroke="#8c8c8c" stroke-width="0.8"/>
<text x="162.50" y="644.94" font-size="9.5" text-anchor="end" fill="#404040">2</text>
<line x1="167.70" y1="619.88" x2="172.50" y2="619.88" stroke="#8c8c8c" stroke-width="0.8"/>
<text x="162.50" y="622.98" font-size="9.5" text-anchor="end" fill="#404040">4</text>
<line x1="167.70" y1="597.92" x2="172.50" y2="597.92" stroke="#8c8c8c" stroke-width="0.8"/>
<text x="162.50" y="601.02" font-size="9.5" text-anchor="end" fill="#404040">6</text>
<line x1="167.70" y1="575.96" x2="172.50" y2="575.96" stroke="#8c8c8c" stroke-width="0.8"/>
<text x="162.50" y="579.06" font-size="9.5" text-anchor="end" fill="#404040">8</text>
<line x1="167.70" y1="554.00" x2="172.50" y2="554.00" stroke="#8c8c8c" stroke-width="0.8"/>
<text x="162.50" y="557.10" font-size="9.5" text-anchor="end" fill="#404040">10</text>
<line x1="167.70" y1="532.04" x2="172.50" y2="532.04" stroke="#8c8c8c" stroke-width="0.8"/>
<text x="162.50" y="535.14" font-size="9.5" text-anchor="end" fill="#404040">12</text>
<polyline points="197.40,546.90 197.40,538.10 234.80,538.10 234.80,554.00" fill="none" stroke="#7a7a7a" stroke-width="0.8"/>
<path d="M207.40,534.10 L207.40,531.90 M207.40,534.10 L209.49,533.42 M207.40,534.10 L208.69,535.88 M207.40,534.10 L206.11,535.88 M207.40,534.10 L205.31,533.42" stroke="#383838" stroke-width="1.15" stroke-linecap="round" fill="none"/>
<path d="M213.20,534.10 L213.20,531.90 M213.20,534.10 L215.29,533.42 M213.20,534.10 L214.49,535.88 M213.20,534.10 L211.91,535.88 M213.20,534.10 L211.11,533.42" stroke="#383838" stroke-width="1.15" stroke-linecap="round" fill="none"/>
<path d="M219.00,534.10 L219.00,531.90 M219.00,534.10 L221.09,533.42 M219.00,534.10 L220.29,535.88 M219.00,534.10 L217.71,535.88 M219.00,534.10 L216.91,533.42" stroke="#383838" stroke-width="1.15" stroke-linecap="round" fill="none"/>
<path d="M224.80,534.10 L224.80,531.90 M224.80,534.10 L226.89,533.42 M224.80,534.10 L226.09,535.88 M224.80,534.10 L223.51,535.88 M224.80,534.10 L222.71,533.42" stroke="#383838" stroke-width="1.15" stroke-linecap="round" fill="none"/>
<text x="144.70" y="598.00" font-size="11.4" text-anchor="middle" fill="#404040" transform="rotate(-90 144.70 598.00)">Ld (µm)</text>
<circle cx="193.99" cy="579.89" r="1.3" fill="#f7941d"/>
<circle cx="197.92" cy="560.64" r="1.3" fill="#f7941d"/>
<circle cx="197.38" cy="577.72" r="1.3" fill="#f7941d"/>
<circle cx="194.02" cy="584.71" r="1.3" fill="#f7941d"/>
<circle cx="192.79" cy="595.27" r="1.3" fill="#f7941d"/>
<circle cx="197.17" cy="564.97" r="1.3" fill="#f7941d"/>
<circle cx="197.30" cy="609.44" r="1.3" fill="#f7941d"/>
<circle cx="207.12" cy="593.90" r="1.3" fill="#f7941d"/>
<circle cx="199.68" cy="573.72" r="1.3" fill="#f7941d"/>
<circle cx="198.73" cy="602.88" r="1.3" fill="#f7941d"/>
<circle cx="196.26" cy="574.34" r="1.3" fill="#f7941d"/>
<circle cx="192.09" cy="580.98" r="1.3" fill="#f7941d"/>
<circle cx="194.35" cy="605.01" r="1.3" fill="#f7941d"/>
<circle cx="205.56" cy="586.49" r="1.3" fill="#f7941d"/>
<circle cx="199.14" cy="584.69" r="1.3" fill="#f7941d"/>
<circle cx="192.52" cy="599.05" r="1.3" fill="#f7941d"/>
<circle cx="198.05" cy="583.21" r="1.3" fill="#f7941d"/>
<circle cx="200.20" cy="571.26" r="1.3" fill="#f7941d"/>
<circle cx="196.73" cy="611.93" r="1.3" fill="#f7941d"/>
<circle cx="199.39" cy="607.88" r="1.3" fill="#f7941d"/>
<circle cx="201.07" cy="592.73" r="1.3" fill="#f7941d"/>
<circle cx="196.21" cy="586.56" r="1.3" fill="#f7941d"/>
<circle cx="200.85" cy="605.06" r="1.3" fill="#f7941d"/>
<circle cx="190.54" cy="588.63" r="1.3" fill="#f7941d"/>
<circle cx="200.06" cy="569.24" r="1.3" fill="#f7941d"/>
<circle cx="197.05" cy="563.18" r="1.3" fill="#f7941d"/>
<circle cx="198.01" cy="567.08" r="1.3" fill="#f7941d"/>
<circle cx="196.14" cy="605.90" r="1.3" fill="#f7941d"/>
<circle cx="197.27" cy="587.96" r="1.3" fill="#f7941d"/>
<circle cx="195.65" cy="582.11" r="1.3" fill="#f7941d"/>
<circle cx="197.47" cy="599.57" r="1.3" fill="#f7941d"/>
<circle cx="196.95" cy="591.20" r="1.3" fill="#f7941d"/>
<circle cx="190.06" cy="594.46" r="1.3" fill="#f7941d"/>
<circle cx="195.29" cy="578.57" r="1.3" fill="#f7941d"/>
<circle cx="189.12" cy="586.31" r="1.3" fill="#f7941d"/>
<circle cx="200.82" cy="579.80" r="1.3" fill="#f7941d"/>
<circle cx="189.86" cy="583.36" r="1.3" fill="#f7941d"/>
<circle cx="194.89" cy="568.55" r="1.3" fill="#f7941d"/>
<circle cx="197.63" cy="572.16" r="1.3" fill="#f7941d"/>
<circle cx="194.07" cy="572.84" r="1.3" fill="#f7941d"/>
<circle cx="194.37" cy="591.76" r="1.3" fill="#f7941d"/>
<circle cx="195.42" cy="601.82" r="1.3" fill="#f7941d"/>
<circle cx="199.74" cy="582.20" r="1.3" fill="#f7941d"/>
<circle cx="201.53" cy="602.17" r="1.3" fill="#f7941d"/>
<circle cx="189.47" cy="590.65" r="1.3" fill="#f7941d"/>
<circle cx="195.72" cy="589.58" r="1.3" fill="#f7941d"/>
<circle cx="203.99" cy="601.75" r="1.3" fill="#f7941d"/>
<circle cx="204.36" cy="584.34" r="1.3" fill="#f7941d"/>
<circle cx="197.24" cy="568.85" r="1.3" fill="#f7941d"/>
<circle cx="192.06" cy="582.96" r="1.3" fill="#f7941d"/>
<circle cx="193.72" cy="600.61" r="1.3" fill="#f7941d"/>
<circle cx="186.95" cy="590.13" r="1.3" fill="#f7941d"/>
<circle cx="197.48" cy="613.81" r="1.3" fill="#f7941d"/>
<circle cx="198.92" cy="576.23" r="1.3" fill="#f7941d"/>
<circle cx="188.50" cy="592.61" r="1.3" fill="#f7941d"/>
<circle cx="196.31" cy="607.69" r="1.3" fill="#f7941d"/>
<circle cx="195.08" cy="570.32" r="1.3" fill="#f7941d"/>
<circle cx="198.85" cy="588.64" r="1.3" fill="#f7941d"/>
<circle cx="205.41" cy="595.82" r="1.3" fill="#f7941d"/>
<circle cx="188.45" cy="596.40" r="1.3" fill="#f7941d"/>
<circle cx="201.18" cy="598.65" r="1.3" fill="#f7941d"/>
<circle cx="202.28" cy="581.24" r="1.3" fill="#f7941d"/>
<circle cx="193.80" cy="589.85" r="1.3" fill="#f7941d"/>
<circle cx="197.49" cy="596.08" r="1.3" fill="#f7941d"/>
<circle cx="205.77" cy="582.76" r="1.3" fill="#f7941d"/>
<circle cx="202.61" cy="600.49" r="1.3" fill="#f7941d"/>
<circle cx="198.65" cy="605.45" r="1.3" fill="#f7941d"/>
<circle cx="194.61" cy="598.29" r="1.3" fill="#f7941d"/>
<circle cx="191.34" cy="586.11" r="1.3" fill="#f7941d"/>
<circle cx="201.68" cy="588.34" r="1.3" fill="#f7941d"/>
<circle cx="199.37" cy="578.18" r="1.3" fill="#f7941d"/>
<circle cx="200.93" cy="585.70" r="1.3" fill="#f7941d"/>
<circle cx="197.56" cy="580.52" r="1.3" fill="#f7941d"/>
<circle cx="201.86" cy="590.68" r="1.3" fill="#f7941d"/>
<circle cx="197.72" cy="558.94" r="1.3" fill="#f7941d"/>
<circle cx="198.63" cy="570.60" r="1.3" fill="#f7941d"/>
<circle cx="201.16" cy="607.58" r="1.3" fill="#f7941d"/>
<circle cx="201.34" cy="594.97" r="1.3" fill="#f7941d"/>
<circle cx="190.33" cy="581.07" r="1.3" fill="#f7941d"/>
<circle cx="194.43" cy="596.36" r="1.3" fill="#f7941d"/>
<circle cx="192.45" cy="592.86" r="1.3" fill="#f7941d"/>
<circle cx="205.80" cy="589.75" r="1.3" fill="#f7941d"/>
<circle cx="198.47" cy="597.87" r="1.3" fill="#f7941d"/>
<circle cx="192.43" cy="587.87" r="1.3" fill="#f7941d"/>
<circle cx="196.07" cy="584.30" r="1.3" fill="#f7941d"/>
<circle cx="194.68" cy="593.44" r="1.3" fill="#f7941d"/>
<circle cx="195.90" cy="576.67" r="1.3" fill="#f7941d"/>
<circle cx="195.69" cy="603.56" r="1.3" fill="#f7941d"/>
<circle cx="207.65" cy="590.33" r="1.3" fill="#f7941d"/>
<circle cx="203.33" cy="595.70" r="1.3" fill="#f7941d"/>
<circle cx="204.73" cy="592.10" r="1.3" fill="#f7941d"/>
<circle cx="204.61" cy="597.33" r="1.3" fill="#f7941d"/>
<circle cx="194.46" cy="608.29" r="1.3" fill="#f7941d"/>
<circle cx="200.40" cy="589.68" r="1.3" fill="#f7941d"/>
<circle cx="198.75" cy="601.17" r="1.3" fill="#f7941d"/>
<circle cx="204.44" cy="588.07" r="1.3" fill="#f7941d"/>
<circle cx="202.92" cy="597.57" r="1.3" fill="#f7941d"/>
<circle cx="204.64" cy="593.87" r="1.3" fill="#f7941d"/>
<circle cx="190.51" cy="599.03" r="1.3" fill="#f7941d"/>
<circle cx="196.23" cy="594.65" r="1.3" fill="#f7941d"/>
<circle cx="201.75" cy="583.65" r="1.3" fill="#f7941d"/>
<circle cx="191.82" cy="602.90" r="1.3" fill="#f7941d"/>
<circle cx="199.59" cy="599.29" r="1.3" fill="#f7941d"/>
<circle cx="202.80" cy="586.56" r="1.3" fill="#f7941d"/>
<circle cx="198.43" cy="611.64" r="1.3" fill="#f7941d"/>
<circle cx="198.30" cy="593.39" r="1.3" fill="#f7941d"/>
<circle cx="195.71" cy="580.36" r="1.3" fill="#f7941d"/>
<circle cx="193.64" cy="581.95" r="1.3" fill="#f7941d"/>
<circle cx="191.22" cy="596.05" r="1.3" fill="#f7941d"/>
<circle cx="203.83" cy="582.37" r="1.3" fill="#f7941d"/>
<circle cx="196.45" cy="597.77" r="1.3" fill="#f7941d"/>
<circle cx="204.04" cy="599.39" r="1.3" fill="#f7941d"/>
<circle cx="195.78" cy="572.19" r="1.3" fill="#f7941d"/>
<circle cx="198.21" cy="586.23" r="1.3" fill="#f7941d"/>
<circle cx="192.97" cy="597.24" r="1.3" fill="#f7941d"/>
<circle cx="207.17" cy="592.08" r="1.3" fill="#f7941d"/>
<circle cx="188.76" cy="588.88" r="1.3" fill="#f7941d"/>
<circle cx="203.78" cy="580.42" r="1.3" fill="#f7941d"/>
<circle cx="192.16" cy="590.90" r="1.3" fill="#f7941d"/>
<circle cx="191.06" cy="600.72" r="1.3" fill="#f7941d"/>
<circle cx="203.94" cy="589.90" r="1.3" fill="#f7941d"/>
<circle cx="197.93" cy="574.67" r="1.3" fill="#f7941d"/>
<circle cx="197.34" cy="604.10" r="1.3" fill="#f7941d"/>
<circle cx="199.24" cy="595.27" r="1.3" fill="#f7941d"/>
<circle cx="190.69" cy="592.54" r="1.3" fill="#f7941d"/>
<circle cx="195.67" cy="599.89" r="1.3" fill="#f7941d"/>
<circle cx="188.35" cy="594.58" r="1.3" fill="#f7941d"/>
<circle cx="198.82" cy="591.28" r="1.3" fill="#f7941d"/>
<circle cx="203.03" cy="593.13" r="1.3" fill="#f7941d"/>
<circle cx="193.49" cy="606.61" r="1.3" fill="#f7941d"/>
<circle cx="206.52" cy="588.09" r="1.3" fill="#f7941d"/>
<circle cx="194.63" cy="588.05" r="1.3" fill="#f7941d"/>
<circle cx="193.60" cy="602.75" r="1.3" fill="#f7941d"/>
<circle cx="200.10" cy="596.76" r="1.3" fill="#f7941d"/>
<circle cx="197.02" cy="602.42" r="1.3" fill="#f7941d"/>
<circle cx="206.17" cy="584.86" r="1.3" fill="#f7941d"/>
<circle cx="199.90" cy="587.14" r="1.3" fill="#f7941d"/>
<circle cx="196.31" cy="567.24" r="1.3" fill="#f7941d"/>
<circle cx="193.75" cy="586.54" r="1.3" fill="#f7941d"/>
<circle cx="207.20" cy="596.40" r="1.3" fill="#f7941d"/>
<circle cx="196.78" cy="570.59" r="1.3" fill="#f7941d"/>
<circle cx="200.81" cy="600.57" r="1.3" fill="#f7941d"/>
<circle cx="197.40" cy="554.00" r="1.3" fill="#f7941d"/>
<circle cx="234.63" cy="582.14" r="1.3" fill="#f7941d"/>
<circle cx="230.70" cy="598.18" r="1.3" fill="#f7941d"/>
<circle cx="233.28" cy="613.79" r="1.3" fill="#f7941d"/>
<circle cx="241.08" cy="592.45" r="1.3" fill="#f7941d"/>
<circle cx="236.93" cy="610.95" r="1.3" fill="#f7941d"/>
<circle cx="230.29" cy="592.68" r="1.3" fill="#f7941d"/>
<circle cx="235.87" cy="593.19" r="1.3" fill="#f7941d"/>
<circle cx="238.63" cy="607.61" r="1.3" fill="#f7941d"/>
<circle cx="229.32" cy="603.43" r="1.3" fill="#f7941d"/>
<circle cx="240.66" cy="596.90" r="1.3" fill="#f7941d"/>
<circle cx="237.74" cy="593.57" r="1.3" fill="#f7941d"/>
<circle cx="229.68" cy="609.65" r="1.3" fill="#f7941d"/>
<circle cx="233.42" cy="618.60" r="1.3" fill="#f7941d"/>
<circle cx="235.02" cy="617.63" r="1.3" fill="#f7941d"/>
<circle cx="236.31" cy="580.00" r="1.3" fill="#f7941d"/>
<circle cx="234.50" cy="587.53" r="1.3" fill="#f7941d"/>
<circle cx="233.14" cy="596.71" r="1.3" fill="#f7941d"/>
<circle cx="234.59" cy="578.90" r="1.3" fill="#f7941d"/>
<circle cx="243.22" cy="600.69" r="1.3" fill="#f7941d"/>
<circle cx="227.18" cy="603.37" r="1.3" fill="#f7941d"/>
<circle cx="236.26" cy="614.94" r="1.3" fill="#f7941d"/>
<circle cx="227.28" cy="598.90" r="1.3" fill="#f7941d"/>
<circle cx="239.93" cy="589.96" r="1.3" fill="#f7941d"/>
<circle cx="233.63" cy="590.46" r="1.3" fill="#f7941d"/>
<circle cx="237.87" cy="596.28" r="1.3" fill="#f7941d"/>
<circle cx="235.59" cy="602.96" r="1.3" fill="#f7941d"/>
<circle cx="227.53" cy="607.35" r="1.3" fill="#f7941d"/>
<circle cx="231.32" cy="613.20" r="1.3" fill="#f7941d"/>
<circle cx="240.42" cy="610.76" r="1.3" fill="#f7941d"/>
<circle cx="236.82" cy="616.73" r="1.3" fill="#f7941d"/>
<circle cx="236.04" cy="584.04" r="1.3" fill="#f7941d"/>
<circle cx="232.68" cy="587.55" r="1.3" fill="#f7941d"/>
<circle cx="234.10" cy="607.40" r="1.3" fill="#f7941d"/>
<circle cx="238.71" cy="587.02" r="1.3" fill="#f7941d"/>
<circle cx="235.67" cy="590.87" r="1.3" fill="#f7941d"/>
<circle cx="228.93" cy="606.24" r="1.3" fill="#f7941d"/>
<circle cx="237.10" cy="588.27" r="1.3" fill="#f7941d"/>
<circle cx="225.30" cy="599.87" r="1.3" fill="#f7941d"/>
<circle cx="229.40" cy="596.43" r="1.3" fill="#f7941d"/>
<circle cx="231.10" cy="606.50" r="1.3" fill="#f7941d"/>
<circle cx="239.53" cy="594.02" r="1.3" fill="#f7941d"/>
<circle cx="242.31" cy="597.83" r="1.3" fill="#f7941d"/>
<circle cx="235.83" cy="604.98" r="1.3" fill="#f7941d"/>
<circle cx="239.06" cy="598.31" r="1.3" fill="#f7941d"/>
<circle cx="233.08" cy="616.44" r="1.3" fill="#f7941d"/>
<circle cx="241.62" cy="604.78" r="1.3" fill="#f7941d"/>
<circle cx="226.27" cy="605.81" r="1.3" fill="#f7941d"/>
<circle cx="230.76" cy="588.24" r="1.3" fill="#f7941d"/>
<circle cx="231.23" cy="611.31" r="1.3" fill="#f7941d"/>
<circle cx="238.18" cy="599.92" r="1.3" fill="#f7941d"/>
<circle cx="227.57" cy="600.93" r="1.3" fill="#f7941d"/>
<circle cx="239.53" cy="605.37" r="1.3" fill="#f7941d"/>
<circle cx="234.97" cy="608.88" r="1.3" fill="#f7941d"/>
<circle cx="231.12" cy="585.51" r="1.3" fill="#f7941d"/>
<circle cx="228.25" cy="593.02" r="1.3" fill="#f7941d"/>
<circle cx="238.48" cy="613.00" r="1.3" fill="#f7941d"/>
<circle cx="234.44" cy="584.81" r="1.3" fill="#f7941d"/>
<circle cx="237.93" cy="584.12" r="1.3" fill="#f7941d"/>
<circle cx="232.74" cy="604.78" r="1.3" fill="#f7941d"/>
<circle cx="242.55" cy="606.38" r="1.3" fill="#f7941d"/>
<circle cx="240.42" cy="600.65" r="1.3" fill="#f7941d"/>
<circle cx="232.72" cy="583.96" r="1.3" fill="#f7941d"/>
<circle cx="227.22" cy="595.00" r="1.3" fill="#f7941d"/>
<circle cx="233.36" cy="610.07" r="1.3" fill="#f7941d"/>
<circle cx="240.98" cy="602.95" r="1.3" fill="#f7941d"/>
<circle cx="231.63" cy="602.98" r="1.3" fill="#f7941d"/>
<circle cx="229.66" cy="599.59" r="1.3" fill="#f7941d"/>
<circle cx="238.63" cy="603.00" r="1.3" fill="#f7941d"/>
<circle cx="234.07" cy="601.26" r="1.3" fill="#f7941d"/>
<circle cx="236.37" cy="586.13" r="1.3" fill="#f7941d"/>
<circle cx="223.66" cy="599.35" r="1.3" fill="#f7941d"/>
<circle cx="236.12" cy="612.49" r="1.3" fill="#f7941d"/>
<circle cx="234.11" cy="594.35" r="1.3" fill="#f7941d"/>
<circle cx="236.54" cy="594.78" r="1.3" fill="#f7941d"/>
<circle cx="237.91" cy="609.41" r="1.3" fill="#f7941d"/>
<circle cx="236.67" cy="601.34" r="1.3" fill="#f7941d"/>
<circle cx="229.95" cy="590.74" r="1.3" fill="#f7941d"/>
<circle cx="229.17" cy="601.58" r="1.3" fill="#f7941d"/>
<circle cx="236.42" cy="619.59" r="1.3" fill="#f7941d"/>
<circle cx="235.63" cy="596.83" r="1.3" fill="#f7941d"/>
<circle cx="235.15" cy="598.70" r="1.3" fill="#f7941d"/>
<circle cx="232.93" cy="611.76" r="1.3" fill="#f7941d"/>
<circle cx="232.10" cy="593.52" r="1.3" fill="#f7941d"/>
<circle cx="233.32" cy="580.74" r="1.3" fill="#f7941d"/>
<circle cx="229.45" cy="611.61" r="1.3" fill="#f7941d"/>
<circle cx="241.52" cy="608.09" r="1.3" fill="#f7941d"/>
<circle cx="235.20" cy="610.61" r="1.3" fill="#f7941d"/>
<circle cx="230.49" cy="594.61" r="1.3" fill="#f7941d"/>
<circle cx="239.74" cy="608.93" r="1.3" fill="#f7941d"/>
<circle cx="232.15" cy="589.60" r="1.3" fill="#f7941d"/>
<circle cx="230.44" cy="604.77" r="1.3" fill="#f7941d"/>
<circle cx="236.22" cy="607.64" r="1.3" fill="#f7941d"/>
<circle cx="233.62" cy="603.16" r="1.3" fill="#f7941d"/>
<circle cx="238.07" cy="590.16" r="1.3" fill="#f7941d"/>
<circle cx="245.03" cy="600.07" r="1.3" fill="#f7941d"/>
<circle cx="241.73" cy="599.45" r="1.3" fill="#f7941d"/>
<circle cx="232.04" cy="600.57" r="1.3" fill="#f7941d"/>
<circle cx="233.92" cy="592.60" r="1.3" fill="#f7941d"/>
<circle cx="225.33" cy="598.07" r="1.3" fill="#f7941d"/>
<circle cx="233.45" cy="599.03" r="1.3" fill="#f7941d"/>
<circle cx="240.91" cy="595.17" r="1.3" fill="#f7941d"/>
<circle cx="237.56" cy="605.93" r="1.3" fill="#f7941d"/>
<circle cx="231.57" cy="608.58" r="1.3" fill="#f7941d"/>
<circle cx="238.84" cy="592.06" r="1.3" fill="#f7941d"/>
<circle cx="227.29" cy="597.08" r="1.3" fill="#f7941d"/>
<circle cx="242.29" cy="593.88" r="1.3" fill="#f7941d"/>
<circle cx="235.03" cy="589.16" r="1.3" fill="#f7941d"/>
<circle cx="234.56" cy="615.38" r="1.3" fill="#f7941d"/>
<circle cx="243.16" cy="603.76" r="1.3" fill="#f7941d"/>
<circle cx="229.76" cy="607.91" r="1.3" fill="#f7941d"/>
<circle cx="231.13" cy="596.49" r="1.3" fill="#f7941d"/>
<circle cx="237.13" cy="597.97" r="1.3" fill="#f7941d"/>
<circle cx="244.29" cy="598.11" r="1.3" fill="#f7941d"/>
<circle cx="231.55" cy="591.53" r="1.3" fill="#f7941d"/>
<circle cx="233.01" cy="585.75" r="1.3" fill="#f7941d"/>
<circle cx="226.05" cy="601.69" r="1.3" fill="#f7941d"/>
<circle cx="238.68" cy="611.29" r="1.3" fill="#f7941d"/>
<circle cx="236.46" cy="582.35" r="1.3" fill="#f7941d"/>
<circle cx="234.73" cy="619.76" r="1.3" fill="#f7941d"/>
<circle cx="228.06" cy="591.32" r="1.3" fill="#f7941d"/>
<circle cx="234.80" cy="562.00" r="1.3" fill="#f7941d"/>
<circle cx="234.80" cy="565.80" r="1.3" fill="#f7941d"/>
<circle cx="234.80" cy="574.00" r="1.3" fill="#f7941d"/>
<circle cx="234.80" cy="623.30" r="1.3" fill="#f7941d"/>
<line x1="184.90" y1="589.90" x2="209.90" y2="589.90" stroke="#921b22" stroke-width="1.75"/>
<line x1="222.20" y1="599.50" x2="247.40" y2="599.50" stroke="#921b22" stroke-width="1.75"/>
<line x1="317.60" y1="664.20" x2="404.50" y2="664.20" stroke="#a8a8a8" stroke-width="1.3"/>
<line x1="342.10" y1="664.20" x2="342.10" y2="669.00" stroke="#a8a8a8" stroke-width="0.9"/>
<text x="342.10" y="683.40" font-size="11" text-anchor="middle" fill="#404040">acc</text>
<line x1="379.80" y1="664.20" x2="379.80" y2="669.00" stroke="#a8a8a8" stroke-width="0.9"/>
<text x="379.80" y="683.40" font-size="11" text-anchor="middle" fill="#404040">alt</text>
<line x1="317.60" y1="532.80" x2="317.60" y2="664.20" stroke="#707070" stroke-width="0.8"/>
<line x1="312.80" y1="664.20" x2="317.60" y2="664.20" stroke="#8c8c8c" stroke-width="0.8"/>
<text x="307.60" y="667.30" font-size="9.5" text-anchor="end" fill="#404040">0</text>
<line x1="312.80" y1="631.35" x2="317.60" y2="631.35" stroke="#8c8c8c" stroke-width="0.8"/>
<text x="307.60" y="634.45" font-size="9.5" text-anchor="end" fill="#404040">0.5</text>
<line x1="312.80" y1="598.50" x2="317.60" y2="598.50" stroke="#8c8c8c" stroke-width="0.8"/>
<text x="307.60" y="601.60" font-size="9.5" text-anchor="end" fill="#404040">1.0</text>
<line x1="312.80" y1="565.65" x2="317.60" y2="565.65" stroke="#8c8c8c" stroke-width="0.8"/>
<text x="307.60" y="568.75" font-size="9.5" text-anchor="end" fill="#404040">1.5</text>
<line x1="312.80" y1="532.80" x2="317.60" y2="532.80" stroke="#8c8c8c" stroke-width="0.8"/>
<text x="307.60" y="535.90" font-size="9.5" text-anchor="end" fill="#404040">2.0</text>
<polyline points="342.10,555.80 342.10,547.30 379.80,547.30 379.80,555.80" fill="none" stroke="#7a7a7a" stroke-width="0.8"/>
<path d="M352.25,543.30 L352.25,541.10 M352.25,543.30 L354.34,542.62 M352.25,543.30 L353.54,545.08 M352.25,543.30 L350.96,545.08 M352.25,543.30 L350.16,542.62" stroke="#383838" stroke-width="1.15" stroke-linecap="round" fill="none"/>
<path d="M358.05,543.30 L358.05,541.10 M358.05,543.30 L360.14,542.62 M358.05,543.30 L359.34,545.08 M358.05,543.30 L356.76,545.08 M358.05,543.30 L355.96,542.62" stroke="#383838" stroke-width="1.15" stroke-linecap="round" fill="none"/>
<path d="M363.85,543.30 L363.85,541.10 M363.85,543.30 L365.94,542.62 M363.85,543.30 L365.14,545.08 M363.85,543.30 L362.56,545.08 M363.85,543.30 L361.76,542.62" stroke="#383838" stroke-width="1.15" stroke-linecap="round" fill="none"/>
<path d="M369.65,543.30 L369.65,541.10 M369.65,543.30 L371.74,542.62 M369.65,543.30 L370.94,545.08 M369.65,543.30 L368.36,545.08 M369.65,543.30 L367.56,542.62" stroke="#383838" stroke-width="1.15" stroke-linecap="round" fill="none"/>
<text x="286.00" y="599.00" font-size="11.4" text-anchor="middle" fill="#404040" transform="rotate(-90 286.00 599.00)">Elongation speed (µm h<tspan dy="-3.5" font-size="7">−1</tspan><tspan dy="3.5">)</tspan></text>
<circle cx="339.75" cy="593.79" r="1.3" fill="#f7941d"/>
<circle cx="346.48" cy="613.00" r="1.3" fill="#f7941d"/>
<circle cx="339.46" cy="577.44" r="1.3" fill="#f7941d"/>
<circle cx="343.74" cy="607.72" r="1.3" fill="#f7941d"/>
<circle cx="347.79" cy="593.99" r="1.3" fill="#f7941d"/>
<circle cx="344.08" cy="590.92" r="1.3" fill="#f7941d"/>
<circle cx="339.88" cy="618.86" r="1.3" fill="#f7941d"/>
<circle cx="342.67" cy="621.22" r="1.3" fill="#f7941d"/>
<circle cx="344.59" cy="616.36" r="1.3" fill="#f7941d"/>
<circle cx="341.49" cy="595.97" r="1.3" fill="#f7941d"/>
<circle cx="341.01" cy="571.88" r="1.3" fill="#f7941d"/>
<circle cx="346.01" cy="620.39" r="1.3" fill="#f7941d"/>
<circle cx="336.71" cy="594.28" r="1.3" fill="#f7941d"/>
<circle cx="343.31" cy="583.95" r="1.3" fill="#f7941d"/>
<circle cx="337.07" cy="608.44" r="1.3" fill="#f7941d"/>
<circle cx="342.81" cy="569.45" r="1.3" fill="#f7941d"/>
<circle cx="342.82" cy="623.85" r="1.3" fill="#f7941d"/>
<circle cx="341.02" cy="590.94" r="1.3" fill="#f7941d"/>
<circle cx="342.39" cy="615.86" r="1.3" fill="#f7941d"/>
<circle cx="336.91" cy="605.44" r="1.3" fill="#f7941d"/>
<circle cx="344.94" cy="572.81" r="1.3" fill="#f7941d"/>
<circle cx="341.10" cy="582.84" r="1.3" fill="#f7941d"/>
<circle cx="339.83" cy="602.87" r="1.3" fill="#f7941d"/>
<circle cx="340.58" cy="609.78" r="1.3" fill="#f7941d"/>
<circle cx="343.26" cy="576.86" r="1.3" fill="#f7941d"/>
<circle cx="340.41" cy="624.23" r="1.3" fill="#f7941d"/>
<circle cx="349.29" cy="598.26" r="1.3" fill="#f7941d"/>
<circle cx="343.53" cy="599.75" r="1.3" fill="#f7941d"/>
<circle cx="341.14" cy="584.73" r="1.3" fill="#f7941d"/>
<circle cx="347.28" cy="607.12" r="1.3" fill="#f7941d"/>
<circle cx="345.75" cy="592.05" r="1.3" fill="#f7941d"/>
<circle cx="335.08" cy="600.13" r="1.3" fill="#f7941d"/>
<circle cx="338.12" cy="595.77" r="1.3" fill="#f7941d"/>
<circle cx="339.82" cy="615.71" r="1.3" fill="#f7941d"/>
<circle cx="336.29" cy="588.71" r="1.3" fill="#f7941d"/>
<circle cx="339.58" cy="573.91" r="1.3" fill="#f7941d"/>
<circle cx="335.66" cy="614.09" r="1.3" fill="#f7941d"/>
<circle cx="340.28" cy="580.07" r="1.3" fill="#f7941d"/>
<circle cx="344.35" cy="612.07" r="1.3" fill="#f7941d"/>
<circle cx="349.34" cy="601.53" r="1.3" fill="#f7941d"/>
<circle cx="338.31" cy="610.51" r="1.3" fill="#f7941d"/>
<circle cx="338.98" cy="586.10" r="1.3" fill="#f7941d"/>
<circle cx="344.56" cy="618.80" r="1.3" fill="#f7941d"/>
<circle cx="344.01" cy="586.94" r="1.3" fill="#f7941d"/>
<circle cx="343.88" cy="601.63" r="1.3" fill="#f7941d"/>
<circle cx="340.76" cy="599.36" r="1.3" fill="#f7941d"/>
<circle cx="342.10" cy="618.45" r="1.3" fill="#f7941d"/>
<circle cx="345.40" cy="575.80" r="1.3" fill="#f7941d"/>
<circle cx="348.00" cy="604.03" r="1.3" fill="#f7941d"/>
<circle cx="340.44" cy="589.06" r="1.3" fill="#f7941d"/>
<circle cx="348.96" cy="592.44" r="1.3" fill="#f7941d"/>
<circle cx="343.28" cy="574.61" r="1.3" fill="#f7941d"/>
<circle cx="344.64" cy="614.21" r="1.3" fill="#f7941d"/>
<circle cx="335.28" cy="596.31" r="1.3" fill="#f7941d"/>
<circle cx="336.10" cy="610.36" r="1.3" fill="#f7941d"/>
<circle cx="343.56" cy="579.64" r="1.3" fill="#f7941d"/>
<circle cx="333.98" cy="607.80" r="1.3" fill="#f7941d"/>
<circle cx="348.14" cy="608.84" r="1.3" fill="#f7941d"/>
<circle cx="341.25" cy="575.05" r="1.3" fill="#f7941d"/>
<circle cx="340.67" cy="607.79" r="1.3" fill="#f7941d"/>
<circle cx="342.75" cy="598.07" r="1.3" fill="#f7941d"/>
<circle cx="338.23" cy="587.85" r="1.3" fill="#f7941d"/>
<circle cx="346.59" cy="601.88" r="1.3" fill="#f7941d"/>
<circle cx="339.82" cy="612.70" r="1.3" fill="#f7941d"/>
<circle cx="339.55" cy="605.45" r="1.3" fill="#f7941d"/>
<circle cx="344.73" cy="622.46" r="1.3" fill="#f7941d"/>
<circle cx="342.84" cy="594.42" r="1.3" fill="#f7941d"/>
<circle cx="345.15" cy="582.62" r="1.3" fill="#f7941d"/>
<circle cx="343.91" cy="588.85" r="1.3" fill="#f7941d"/>
<circle cx="342.69" cy="605.45" r="1.3" fill="#f7941d"/>
<circle cx="338.91" cy="572.18" r="1.3" fill="#f7941d"/>
<circle cx="349.46" cy="595.73" r="1.3" fill="#f7941d"/>
<circle cx="345.83" cy="580.41" r="1.3" fill="#f7941d"/>
<circle cx="338.09" cy="622.09" r="1.3" fill="#f7941d"/>
<circle cx="346.72" cy="596.03" r="1.3" fill="#f7941d"/>
<circle cx="349.92" cy="603.94" r="1.3" fill="#f7941d"/>
<circle cx="347.83" cy="586.99" r="1.3" fill="#f7941d"/>
<circle cx="337.83" cy="615.06" r="1.3" fill="#f7941d"/>
<circle cx="333.20" cy="604.19" r="1.3" fill="#f7941d"/>
<circle cx="338.03" cy="618.11" r="1.3" fill="#f7941d"/>
<circle cx="345.75" cy="599.52" r="1.3" fill="#f7941d"/>
<circle cx="332.08" cy="601.02" r="1.3" fill="#f7941d"/>
<circle cx="346.62" cy="589.22" r="1.3" fill="#f7941d"/>
<circle cx="341.87" cy="603.20" r="1.3" fill="#f7941d"/>
<circle cx="344.53" cy="603.92" r="1.3" fill="#f7941d"/>
<circle cx="351.15" cy="606.33" r="1.3" fill="#f7941d"/>
<circle cx="346.39" cy="605.19" r="1.3" fill="#f7941d"/>
<circle cx="349.19" cy="605.74" r="1.3" fill="#f7941d"/>
<circle cx="344.53" cy="596.44" r="1.3" fill="#f7941d"/>
<circle cx="351.75" cy="600.94" r="1.3" fill="#f7941d"/>
<circle cx="340.18" cy="622.00" r="1.3" fill="#f7941d"/>
<circle cx="336.99" cy="592.26" r="1.3" fill="#f7941d"/>
<circle cx="341.30" cy="613.88" r="1.3" fill="#f7941d"/>
<circle cx="335.74" cy="603.42" r="1.3" fill="#f7941d"/>
<circle cx="337.78" cy="590.46" r="1.3" fill="#f7941d"/>
<circle cx="343.01" cy="581.84" r="1.3" fill="#f7941d"/>
<circle cx="337.22" cy="601.90" r="1.3" fill="#f7941d"/>
<circle cx="343.59" cy="571.28" r="1.3" fill="#f7941d"/>
<circle cx="342.77" cy="609.52" r="1.3" fill="#f7941d"/>
<circle cx="337.42" cy="612.66" r="1.3" fill="#f7941d"/>
<circle cx="340.84" cy="586.57" r="1.3" fill="#f7941d"/>
<circle cx="334.02" cy="602.39" r="1.3" fill="#f7941d"/>
<circle cx="348.48" cy="611.29" r="1.3" fill="#f7941d"/>
<circle cx="346.46" cy="615.16" r="1.3" fill="#f7941d"/>
<circle cx="338.38" cy="579.07" r="1.3" fill="#f7941d"/>
<circle cx="344.51" cy="605.95" r="1.3" fill="#f7941d"/>
<circle cx="337.96" cy="598.07" r="1.3" fill="#f7941d"/>
<circle cx="341.30" cy="578.21" r="1.3" fill="#f7941d"/>
<circle cx="334.73" cy="605.84" r="1.3" fill="#f7941d"/>
<circle cx="346.29" cy="610.48" r="1.3" fill="#f7941d"/>
<circle cx="341.90" cy="592.78" r="1.3" fill="#f7941d"/>
<circle cx="335.41" cy="598.29" r="1.3" fill="#f7941d"/>
<circle cx="345.85" cy="586.60" r="1.3" fill="#f7941d"/>
<circle cx="345.65" cy="578.02" r="1.3" fill="#f7941d"/>
<circle cx="338.73" cy="581.57" r="1.3" fill="#f7941d"/>
<circle cx="350.19" cy="608.36" r="1.3" fill="#f7941d"/>
<circle cx="348.36" cy="614.12" r="1.3" fill="#f7941d"/>
<circle cx="347.81" cy="599.77" r="1.3" fill="#f7941d"/>
<circle cx="335.00" cy="592.68" r="1.3" fill="#f7941d"/>
<circle cx="340.48" cy="570.09" r="1.3" fill="#f7941d"/>
<circle cx="345.72" cy="594.06" r="1.3" fill="#f7941d"/>
<circle cx="346.39" cy="618.08" r="1.3" fill="#f7941d"/>
<circle cx="338.39" cy="575.83" r="1.3" fill="#f7941d"/>
<circle cx="339.92" cy="597.50" r="1.3" fill="#f7941d"/>
<circle cx="338.11" cy="606.90" r="1.3" fill="#f7941d"/>
<circle cx="333.10" cy="599.15" r="1.3" fill="#f7941d"/>
<circle cx="347.81" cy="590.95" r="1.3" fill="#f7941d"/>
<circle cx="341.49" cy="601.31" r="1.3" fill="#f7941d"/>
<circle cx="336.85" cy="586.58" r="1.3" fill="#f7941d"/>
<circle cx="341.76" cy="611.34" r="1.3" fill="#f7941d"/>
<circle cx="337.94" cy="603.74" r="1.3" fill="#f7941d"/>
<circle cx="351.65" cy="602.83" r="1.3" fill="#f7941d"/>
<circle cx="342.56" cy="572.91" r="1.3" fill="#f7941d"/>
<circle cx="345.46" cy="608.71" r="1.3" fill="#f7941d"/>
<circle cx="347.31" cy="597.94" r="1.3" fill="#f7941d"/>
<circle cx="338.24" cy="599.95" r="1.3" fill="#f7941d"/>
<circle cx="338.14" cy="620.20" r="1.3" fill="#f7941d"/>
<circle cx="338.97" cy="608.59" r="1.3" fill="#f7941d"/>
<circle cx="338.86" cy="592.00" r="1.3" fill="#f7941d"/>
<circle cx="351.16" cy="599.16" r="1.3" fill="#f7941d"/>
<circle cx="335.61" cy="612.15" r="1.3" fill="#f7941d"/>
<circle cx="345.23" cy="624.27" r="1.3" fill="#f7941d"/>
<circle cx="342.10" cy="563.50" r="1.3" fill="#f7941d"/>
<circle cx="342.10" cy="627.30" r="1.3" fill="#f7941d"/>
<circle cx="342.10" cy="631.10" r="1.3" fill="#f7941d"/>
<circle cx="342.10" cy="639.30" r="1.3" fill="#f7941d"/>
<circle cx="378.70" cy="588.20" r="1.3" fill="#f7941d"/>
<circle cx="372.93" cy="604.98" r="1.3" fill="#f7941d"/>
<circle cx="382.17" cy="626.06" r="1.3" fill="#f7941d"/>
<circle cx="372.05" cy="614.79" r="1.3" fill="#f7941d"/>
<circle cx="376.41" cy="616.05" r="1.3" fill="#f7941d"/>
<circle cx="377.66" cy="622.76" r="1.3" fill="#f7941d"/>
<circle cx="383.39" cy="592.46" r="1.3" fill="#f7941d"/>
<circle cx="384.60" cy="595.44" r="1.3" fill="#f7941d"/>
<circle cx="380.28" cy="626.94" r="1.3" fill="#f7941d"/>
<circle cx="378.61" cy="583.03" r="1.3" fill="#f7941d"/>
<circle cx="383.14" cy="622.16" r="1.3" fill="#f7941d"/>
<circle cx="376.58" cy="603.00" r="1.3" fill="#f7941d"/>
<circle cx="378.55" cy="629.83" r="1.3" fill="#f7941d"/>
<circle cx="376.53" cy="592.98" r="1.3" fill="#f7941d"/>
<circle cx="381.01" cy="619.17" r="1.3" fill="#f7941d"/>
<circle cx="380.63" cy="593.11" r="1.3" fill="#f7941d"/>
<circle cx="382.32" cy="630.23" r="1.3" fill="#f7941d"/>
<circle cx="383.66" cy="600.38" r="1.3" fill="#f7941d"/>
<circle cx="375.37" cy="606.06" r="1.3" fill="#f7941d"/>
<circle cx="389.84" cy="608.46" r="1.3" fill="#f7941d"/>
<circle cx="385.14" cy="602.62" r="1.3" fill="#f7941d"/>
<circle cx="380.40" cy="599.64" r="1.3" fill="#f7941d"/>
<circle cx="377.80" cy="608.63" r="1.3" fill="#f7941d"/>
<circle cx="381.73" cy="603.55" r="1.3" fill="#f7941d"/>
<circle cx="388.72" cy="606.79" r="1.3" fill="#f7941d"/>
<circle cx="384.97" cy="615.02" r="1.3" fill="#f7941d"/>
<circle cx="383.16" cy="619.42" r="1.3" fill="#f7941d"/>
<circle cx="372.18" cy="611.70" r="1.3" fill="#f7941d"/>
<circle cx="372.46" cy="601.68" r="1.3" fill="#f7941d"/>
<circle cx="374.18" cy="600.91" r="1.3" fill="#f7941d"/>
<circle cx="381.50" cy="624.16" r="1.3" fill="#f7941d"/>
<circle cx="385.52" cy="608.06" r="1.3" fill="#f7941d"/>
<circle cx="382.61" cy="596.66" r="1.3" fill="#f7941d"/>
<circle cx="369.91" cy="608.87" r="1.3" fill="#f7941d"/>
<circle cx="380.28" cy="581.46" r="1.3" fill="#f7941d"/>
<circle cx="385.23" cy="617.95" r="1.3" fill="#f7941d"/>
<circle cx="386.96" cy="604.17" r="1.3" fill="#f7941d"/>
<circle cx="388.45" cy="615.94" r="1.3" fill="#f7941d"/>
<circle cx="379.15" cy="590.20" r="1.3" fill="#f7941d"/>
<circle cx="374.65" cy="613.40" r="1.3" fill="#f7941d"/>
<circle cx="380.80" cy="585.13" r="1.3" fill="#f7941d"/>
<circle cx="379.92" cy="595.94" r="1.3" fill="#f7941d"/>
<circle cx="375.59" cy="609.83" r="1.3" fill="#f7941d"/>
<circle cx="381.05" cy="587.71" r="1.3" fill="#f7941d"/>
<circle cx="377.83" cy="626.62" r="1.3" fill="#f7941d"/>
<circle cx="377.45" cy="611.81" r="1.3" fill="#f7941d"/>
<circle cx="383.37" cy="612.50" r="1.3" fill="#f7941d"/>
<circle cx="376.09" cy="618.15" r="1.3" fill="#f7941d"/>
<circle cx="380.04" cy="621.56" r="1.3" fill="#f7941d"/>
<circle cx="385.87" cy="596.98" r="1.3" fill="#f7941d"/>
<circle cx="381.16" cy="615.39" r="1.3" fill="#f7941d"/>
<circle cx="376.58" cy="628.39" r="1.3" fill="#f7941d"/>
<circle cx="376.78" cy="595.15" r="1.3" fill="#f7941d"/>
<circle cx="377.90" cy="591.63" r="1.3" fill="#f7941d"/>
<circle cx="372.58" cy="609.40" r="1.3" fill="#f7941d"/>
<circle cx="379.95" cy="602.80" r="1.3" fill="#f7941d"/>
<circle cx="387.05" cy="598.91" r="1.3" fill="#f7941d"/>
<circle cx="378.95" cy="593.89" r="1.3" fill="#f7941d"/>
<circle cx="375.72" cy="597.10" r="1.3" fill="#f7941d"/>
<circle cx="383.63" cy="609.53" r="1.3" fill="#f7941d"/>
<circle cx="378.81" cy="618.68" r="1.3" fill="#f7941d"/>
<circle cx="372.02" cy="616.89" r="1.3" fill="#f7941d"/>
<circle cx="380.77" cy="597.68" r="1.3" fill="#f7941d"/>
<circle cx="372.80" cy="596.24" r="1.3" fill="#f7941d"/>
<circle cx="378.41" cy="585.02" r="1.3" fill="#f7941d"/>
<circle cx="383.59" cy="616.53" r="1.3" fill="#f7941d"/>
<circle cx="378.95" cy="606.65" r="1.3" fill="#f7941d"/>
<circle cx="378.00" cy="614.51" r="1.3" fill="#f7941d"/>
<circle cx="379.29" cy="624.97" r="1.3" fill="#f7941d"/>
<circle cx="379.11" cy="612.79" r="1.3" fill="#f7941d"/>
<circle cx="374.88" cy="621.42" r="1.3" fill="#f7941d"/>
<circle cx="381.38" cy="590.04" r="1.3" fill="#f7941d"/>
<circle cx="372.01" cy="598.76" r="1.3" fill="#f7941d"/>
<circle cx="378.48" cy="598.26" r="1.3" fill="#f7941d"/>
<circle cx="380.89" cy="608.09" r="1.3" fill="#f7941d"/>
<circle cx="385.17" cy="611.61" r="1.3" fill="#f7941d"/>
<circle cx="376.07" cy="590.64" r="1.3" fill="#f7941d"/>
<circle cx="382.74" cy="605.16" r="1.3" fill="#f7941d"/>
<circle cx="386.81" cy="614.63" r="1.3" fill="#f7941d"/>
<circle cx="381.46" cy="628.50" r="1.3" fill="#f7941d"/>
<circle cx="386.09" cy="606.01" r="1.3" fill="#f7941d"/>
<circle cx="385.36" cy="620.82" r="1.3" fill="#f7941d"/>
<circle cx="376.94" cy="624.62" r="1.3" fill="#f7941d"/>
<circle cx="387.33" cy="609.90" r="1.3" fill="#f7941d"/>
<circle cx="383.26" cy="590.08" r="1.3" fill="#f7941d"/>
<circle cx="384.52" cy="598.63" r="1.3" fill="#f7941d"/>
<circle cx="374.15" cy="607.78" r="1.3" fill="#f7941d"/>
<circle cx="376.54" cy="620.24" r="1.3" fill="#f7941d"/>
<circle cx="379.07" cy="616.61" r="1.3" fill="#f7941d"/>
<circle cx="380.27" cy="610.06" r="1.3" fill="#f7941d"/>
<circle cx="388.29" cy="612.33" r="1.3" fill="#f7941d"/>
<circle cx="378.36" cy="620.63" r="1.3" fill="#f7941d"/>
<circle cx="378.23" cy="600.16" r="1.3" fill="#f7941d"/>
<circle cx="374.27" cy="617.03" r="1.3" fill="#f7941d"/>
<circle cx="374.62" cy="603.09" r="1.3" fill="#f7941d"/>
<circle cx="374.76" cy="598.81" r="1.3" fill="#f7941d"/>
<circle cx="381.53" cy="612.78" r="1.3" fill="#f7941d"/>
<circle cx="378.28" cy="581.07" r="1.3" fill="#f7941d"/>
<circle cx="388.14" cy="601.91" r="1.3" fill="#f7941d"/>
<circle cx="376.22" cy="600.25" r="1.3" fill="#f7941d"/>
<circle cx="373.97" cy="611.06" r="1.3" fill="#f7941d"/>
<circle cx="381.97" cy="594.52" r="1.3" fill="#f7941d"/>
<circle cx="383.28" cy="607.57" r="1.3" fill="#f7941d"/>
<circle cx="378.51" cy="604.60" r="1.3" fill="#f7941d"/>
<circle cx="380.38" cy="630.61" r="1.3" fill="#f7941d"/>
<circle cx="370.78" cy="606.98" r="1.3" fill="#f7941d"/>
<circle cx="374.39" cy="619.22" r="1.3" fill="#f7941d"/>
<circle cx="371.17" cy="604.00" r="1.3" fill="#f7941d"/>
<circle cx="386.59" cy="616.65" r="1.3" fill="#f7941d"/>
<circle cx="376.68" cy="630.27" r="1.3" fill="#f7941d"/>
<circle cx="384.92" cy="604.52" r="1.3" fill="#f7941d"/>
<circle cx="381.62" cy="601.11" r="1.3" fill="#f7941d"/>
<circle cx="385.97" cy="600.55" r="1.3" fill="#f7941d"/>
<circle cx="388.95" cy="604.00" r="1.3" fill="#f7941d"/>
<circle cx="380.87" cy="605.53" r="1.3" fill="#f7941d"/>
<circle cx="374.78" cy="595.22" r="1.3" fill="#f7941d"/>
<circle cx="382.34" cy="598.70" r="1.3" fill="#f7941d"/>
<circle cx="381.82" cy="617.13" r="1.3" fill="#f7941d"/>
<circle cx="387.73" cy="596.78" r="1.3" fill="#f7941d"/>
<circle cx="381.28" cy="583.28" r="1.3" fill="#f7941d"/>
<circle cx="373.86" cy="615.19" r="1.3" fill="#f7941d"/>
<circle cx="389.17" cy="610.21" r="1.3" fill="#f7941d"/>
<circle cx="379.57" cy="586.55" r="1.3" fill="#f7941d"/>
<circle cx="381.94" cy="610.88" r="1.3" fill="#f7941d"/>
<circle cx="377.00" cy="589.02" r="1.3" fill="#f7941d"/>
<circle cx="382.93" cy="614.76" r="1.3" fill="#f7941d"/>
<circle cx="379.56" cy="633.66" r="1.3" fill="#f7941d"/>
<circle cx="379.97" cy="635.84" r="1.3" fill="#f7941d"/>
<circle cx="379.80" cy="562.90" r="1.3" fill="#f7941d"/>
<circle cx="379.80" cy="578.50" r="1.3" fill="#f7941d"/>
<circle cx="379.80" cy="646.40" r="1.3" fill="#f7941d"/>
<line x1="329.50" y1="600.80" x2="354.70" y2="600.80" stroke="#921b22" stroke-width="1.75"/>
<line x1="367.40" y1="608.70" x2="392.20" y2="608.70" stroke="#921b22" stroke-width="1.75"/>
<line x1="446.60" y1="663.10" x2="533.60" y2="663.10" stroke="#a8a8a8" stroke-width="1.3"/>
<line x1="471.20" y1="663.10" x2="471.20" y2="667.90" stroke="#a8a8a8" stroke-width="0.9"/>
<text x="471.20" y="682.30" font-size="11" text-anchor="middle" fill="#404040">acc</text>
<line x1="508.80" y1="663.10" x2="508.80" y2="667.90" stroke="#a8a8a8" stroke-width="0.9"/>
<text x="508.80" y="682.30" font-size="11" text-anchor="middle" fill="#404040">alt</text>
<line x1="446.60" y1="531.90" x2="446.60" y2="663.10" stroke="#707070" stroke-width="0.8"/>
<line x1="441.80" y1="663.10" x2="446.60" y2="663.10" stroke="#8c8c8c" stroke-width="0.8"/>
<text x="436.60" y="666.20" font-size="9.5" text-anchor="end" fill="#404040">0</text>
<line x1="441.80" y1="644.36" x2="446.60" y2="644.36" stroke="#8c8c8c" stroke-width="0.8"/>
<text x="436.60" y="647.46" font-size="9.5" text-anchor="end" fill="#404040">1</text>
<line x1="441.80" y1="625.62" x2="446.60" y2="625.62" stroke="#8c8c8c" stroke-width="0.8"/>
<text x="436.60" y="628.72" font-size="9.5" text-anchor="end" fill="#404040">2</text>
<line x1="441.80" y1="606.88" x2="446.60" y2="606.88" stroke="#8c8c8c" stroke-width="0.8"/>
<text x="436.60" y="609.98" font-size="9.5" text-anchor="end" fill="#404040">3</text>
<line x1="441.80" y1="588.14" x2="446.60" y2="588.14" stroke="#8c8c8c" stroke-width="0.8"/>
<text x="436.60" y="591.24" font-size="9.5" text-anchor="end" fill="#404040">4</text>
<line x1="441.80" y1="569.40" x2="446.60" y2="569.40" stroke="#8c8c8c" stroke-width="0.8"/>
<text x="436.60" y="572.50" font-size="9.5" text-anchor="end" fill="#404040">5</text>
<line x1="441.80" y1="550.66" x2="446.60" y2="550.66" stroke="#8c8c8c" stroke-width="0.8"/>
<text x="436.60" y="553.76" font-size="9.5" text-anchor="end" fill="#404040">6</text>
<line x1="441.80" y1="531.92" x2="446.60" y2="531.92" stroke="#8c8c8c" stroke-width="0.8"/>
<text x="436.60" y="535.02" font-size="9.5" text-anchor="end" fill="#404040">7</text>
<polyline points="471.20,545.50 471.20,537.40 508.80,537.40 508.80,567.40" fill="none" stroke="#7a7a7a" stroke-width="0.8"/>
<path d="M484.20,533.40 L484.20,531.20 M484.20,533.40 L486.29,532.72 M484.20,533.40 L485.49,535.18 M484.20,533.40 L482.91,535.18 M484.20,533.40 L482.11,532.72" stroke="#383838" stroke-width="1.15" stroke-linecap="round" fill="none"/>
<path d="M490.00,533.40 L490.00,531.20 M490.00,533.40 L492.09,532.72 M490.00,533.40 L491.29,535.18 M490.00,533.40 L488.71,535.18 M490.00,533.40 L487.91,532.72" stroke="#383838" stroke-width="1.15" stroke-linecap="round" fill="none"/>
<path d="M495.80,533.40 L495.80,531.20 M495.80,533.40 L497.89,532.72 M495.80,533.40 L497.09,535.18 M495.80,533.40 L494.51,535.18 M495.80,533.40 L493.71,532.72" stroke="#383838" stroke-width="1.15" stroke-linecap="round" fill="none"/>
<text x="422.80" y="597.50" font-size="11.4" text-anchor="middle" fill="#404040" transform="rotate(-90 422.80 597.50)">Growth amount (µm)</text>
<circle cx="468.24" cy="629.43" r="1.3" fill="#f7941d"/>
<circle cx="465.96" cy="620.50" r="1.3" fill="#f7941d"/>
<circle cx="469.13" cy="636.74" r="1.3" fill="#f7941d"/>
<circle cx="480.62" cy="607.30" r="1.3" fill="#f7941d"/>
<circle cx="468.78" cy="609.20" r="1.3" fill="#f7941d"/>
<circle cx="468.84" cy="591.85" r="1.3" fill="#f7941d"/>
<circle cx="467.93" cy="611.69" r="1.3" fill="#f7941d"/>
<circle cx="472.13" cy="582.01" r="1.3" fill="#f7941d"/>
<circle cx="470.85" cy="603.12" r="1.3" fill="#f7941d"/>
<circle cx="472.54" cy="589.26" r="1.3" fill="#f7941d"/>
<circle cx="470.82" cy="591.86" r="1.3" fill="#f7941d"/>
<circle cx="466.72" cy="594.68" r="1.3" fill="#f7941d"/>
<circle cx="469.79" cy="579.23" r="1.3" fill="#f7941d"/>
<circle cx="469.12" cy="598.16" r="1.3" fill="#f7941d"/>
<circle cx="467.18" cy="624.31" r="1.3" fill="#f7941d"/>
<circle cx="470.18" cy="620.27" r="1.3" fill="#f7941d"/>
<circle cx="473.95" cy="616.01" r="1.3" fill="#f7941d"/>
<circle cx="470.83" cy="599.00" r="1.3" fill="#f7941d"/>
<circle cx="471.45" cy="586.35" r="1.3" fill="#f7941d"/>
<circle cx="476.27" cy="627.84" r="1.3" fill="#f7941d"/>
<circle cx="466.59" cy="628.25" r="1.3" fill="#f7941d"/>
<circle cx="471.80" cy="631.64" r="1.3" fill="#f7941d"/>
<circle cx="474.31" cy="594.15" r="1.3" fill="#f7941d"/>
<circle cx="474.26" cy="629.72" r="1.3" fill="#f7941d"/>
<circle cx="474.26" cy="627.87" r="1.3" fill="#f7941d"/>
<circle cx="464.53" cy="609.06" r="1.3" fill="#f7941d"/>
<circle cx="463.48" cy="607.07" r="1.3" fill="#f7941d"/>
<circle cx="475.80" cy="610.62" r="1.3" fill="#f7941d"/>
<circle cx="477.62" cy="616.61" r="1.3" fill="#f7941d"/>
<circle cx="470.60" cy="616.10" r="1.3" fill="#f7941d"/>
<circle cx="475.62" cy="614.12" r="1.3" fill="#f7941d"/>
<circle cx="472.26" cy="579.67" r="1.3" fill="#f7941d"/>
<circle cx="473.02" cy="608.32" r="1.3" fill="#f7941d"/>
<circle cx="480.22" cy="605.01" r="1.3" fill="#f7941d"/>
<circle cx="473.76" cy="612.58" r="1.3" fill="#f7941d"/>
<circle cx="471.09" cy="622.12" r="1.3" fill="#f7941d"/>
<circle cx="480.43" cy="611.98" r="1.3" fill="#f7941d"/>
<circle cx="477.88" cy="625.79" r="1.3" fill="#f7941d"/>
<circle cx="461.95" cy="603.96" r="1.3" fill="#f7941d"/>
<circle cx="474.69" cy="622.44" r="1.3" fill="#f7941d"/>
<circle cx="469.51" cy="623.29" r="1.3" fill="#f7941d"/>
<circle cx="471.27" cy="628.56" r="1.3" fill="#f7941d"/>
<circle cx="473.61" cy="599.53" r="1.3" fill="#f7941d"/>
<circle cx="464.06" cy="611.93" r="1.3" fill="#f7941d"/>
<circle cx="478.55" cy="603.33" r="1.3" fill="#f7941d"/>
<circle cx="470.41" cy="596.74" r="1.3" fill="#f7941d"/>
<circle cx="463.24" cy="615.86" r="1.3" fill="#f7941d"/>
<circle cx="469.03" cy="631.83" r="1.3" fill="#f7941d"/>
<circle cx="474.50" cy="605.77" r="1.3" fill="#f7941d"/>
<circle cx="472.80" cy="591.58" r="1.3" fill="#f7941d"/>
<circle cx="465.35" cy="623.57" r="1.3" fill="#f7941d"/>
<circle cx="466.99" cy="626.40" r="1.3" fill="#f7941d"/>
<circle cx="471.72" cy="577.55" r="1.3" fill="#f7941d"/>
<circle cx="471.13" cy="635.46" r="1.3" fill="#f7941d"/>
<circle cx="465.70" cy="616.49" r="1.3" fill="#f7941d"/>
<circle cx="478.95" cy="610.39" r="1.3" fill="#f7941d"/>
<circle cx="467.67" cy="607.10" r="1.3" fill="#f7941d"/>
<circle cx="475.90" cy="618.60" r="1.3" fill="#f7941d"/>
<circle cx="468.44" cy="617.58" r="1.3" fill="#f7941d"/>
<circle cx="471.10" cy="637.74" r="1.3" fill="#f7941d"/>
<circle cx="469.28" cy="606.16" r="1.3" fill="#f7941d"/>
<circle cx="470.47" cy="589.02" r="1.3" fill="#f7941d"/>
<circle cx="473.18" cy="595.73" r="1.3" fill="#f7941d"/>
<circle cx="473.33" cy="636.84" r="1.3" fill="#f7941d"/>
<circle cx="462.12" cy="613.83" r="1.3" fill="#f7941d"/>
<circle cx="467.48" cy="596.98" r="1.3" fill="#f7941d"/>
<circle cx="468.88" cy="601.72" r="1.3" fill="#f7941d"/>
<circle cx="469.20" cy="614.13" r="1.3" fill="#f7941d"/>
<circle cx="466.78" cy="605.44" r="1.3" fill="#f7941d"/>
<circle cx="471.60" cy="594.86" r="1.3" fill="#f7941d"/>
<circle cx="470.85" cy="583.36" r="1.3" fill="#f7941d"/>
<circle cx="468.94" cy="595.02" r="1.3" fill="#f7941d"/>
<circle cx="478.64" cy="613.38" r="1.3" fill="#f7941d"/>
<circle cx="477.77" cy="620.48" r="1.3" fill="#f7941d"/>
<circle cx="471.36" cy="600.79" r="1.3" fill="#f7941d"/>
<circle cx="469.35" cy="634.71" r="1.3" fill="#f7941d"/>
<circle cx="473.05" cy="610.42" r="1.3" fill="#f7941d"/>
<circle cx="473.29" cy="626.12" r="1.3" fill="#f7941d"/>
<circle cx="473.97" cy="601.80" r="1.3" fill="#f7941d"/>
<circle cx="469.74" cy="576.86" r="1.3" fill="#f7941d"/>
<circle cx="472.77" cy="620.22" r="1.3" fill="#f7941d"/>
<circle cx="461.41" cy="608.06" r="1.3" fill="#f7941d"/>
<circle cx="475.74" cy="620.84" r="1.3" fill="#f7941d"/>
<circle cx="475.36" cy="592.00" r="1.3" fill="#f7941d"/>
<circle cx="472.61" cy="624.25" r="1.3" fill="#f7941d"/>
<circle cx="470.43" cy="626.12" r="1.3" fill="#f7941d"/>
<circle cx="472.43" cy="633.94" r="1.3" fill="#f7941d"/>
<circle cx="471.21" cy="618.53" r="1.3" fill="#f7941d"/>
<circle cx="471.89" cy="606.74" r="1.3" fill="#f7941d"/>
<circle cx="461.73" cy="611.00" r="1.3" fill="#f7941d"/>
<circle cx="477.53" cy="606.75" r="1.3" fill="#f7941d"/>
<circle cx="471.12" cy="608.70" r="1.3" fill="#f7941d"/>
<circle cx="472.43" cy="597.57" r="1.3" fill="#f7941d"/>
<circle cx="470.73" cy="610.91" r="1.3" fill="#f7941d"/>
<circle cx="475.77" cy="603.08" r="1.3" fill="#f7941d"/>
<circle cx="476.19" cy="625.01" r="1.3" fill="#f7941d"/>
<circle cx="477.19" cy="608.64" r="1.3" fill="#f7941d"/>
<circle cx="476.13" cy="594.79" r="1.3" fill="#f7941d"/>
<circle cx="471.79" cy="614.40" r="1.3" fill="#f7941d"/>
<circle cx="464.92" cy="605.89" r="1.3" fill="#f7941d"/>
<circle cx="468.42" cy="621.30" r="1.3" fill="#f7941d"/>
<circle cx="471.09" cy="605.07" r="1.3" fill="#f7941d"/>
<circle cx="464.43" cy="614.07" r="1.3" fill="#f7941d"/>
<circle cx="468.39" cy="627.56" r="1.3" fill="#f7941d"/>
<circle cx="473.07" cy="603.94" r="1.3" fill="#f7941d"/>
<circle cx="474.52" cy="597.00" r="1.3" fill="#f7941d"/>
<circle cx="466.40" cy="592.77" r="1.3" fill="#f7941d"/>
<circle cx="473.78" cy="632.04" r="1.3" fill="#f7941d"/>
<circle cx="470.31" cy="630.23" r="1.3" fill="#f7941d"/>
<circle cx="466.44" cy="601.24" r="1.3" fill="#f7941d"/>
<circle cx="464.24" cy="603.56" r="1.3" fill="#f7941d"/>
<circle cx="471.96" cy="612.44" r="1.3" fill="#f7941d"/>
<circle cx="470.04" cy="581.58" r="1.3" fill="#f7941d"/>
<circle cx="476.78" cy="612.64" r="1.3" fill="#f7941d"/>
<circle cx="474.45" cy="624.30" r="1.3" fill="#f7941d"/>
<circle cx="464.57" cy="625.90" r="1.3" fill="#f7941d"/>
<circle cx="476.90" cy="604.76" r="1.3" fill="#f7941d"/>
<circle cx="464.47" cy="621.81" r="1.3" fill="#f7941d"/>
<circle cx="466.45" cy="603.23" r="1.3" fill="#f7941d"/>
<circle cx="466.79" cy="614.00" r="1.3" fill="#f7941d"/>
<circle cx="466.36" cy="610.14" r="1.3" fill="#f7941d"/>
<circle cx="475.83" cy="615.92" r="1.3" fill="#f7941d"/>
<circle cx="475.47" cy="607.83" r="1.3" fill="#f7941d"/>
<circle cx="477.13" cy="623.32" r="1.3" fill="#f7941d"/>
<circle cx="464.77" cy="618.26" r="1.3" fill="#f7941d"/>
<circle cx="467.31" cy="619.13" r="1.3" fill="#f7941d"/>
<circle cx="467.66" cy="615.82" r="1.3" fill="#f7941d"/>
<circle cx="470.55" cy="633.04" r="1.3" fill="#f7941d"/>
<circle cx="468.75" cy="589.98" r="1.3" fill="#f7941d"/>
<circle cx="474.31" cy="635.23" r="1.3" fill="#f7941d"/>
<circle cx="468.12" cy="604.15" r="1.3" fill="#f7941d"/>
<circle cx="480.52" cy="603.10" r="1.3" fill="#f7941d"/>
<circle cx="474.05" cy="618.73" r="1.3" fill="#f7941d"/>
<circle cx="466.96" cy="622.37" r="1.3" fill="#f7941d"/>
<circle cx="479.21" cy="615.17" r="1.3" fill="#f7941d"/>
<circle cx="482.03" cy="609.12" r="1.3" fill="#f7941d"/>
<circle cx="465.94" cy="607.75" r="1.3" fill="#f7941d"/>
<circle cx="479.11" cy="608.31" r="1.3" fill="#f7941d"/>
<circle cx="475.93" cy="601.21" r="1.3" fill="#f7941d"/>
<circle cx="472.40" cy="617.13" r="1.3" fill="#f7941d"/>
<circle cx="472.90" cy="622.09" r="1.3" fill="#f7941d"/>
<circle cx="468.75" cy="625.27" r="1.3" fill="#f7941d"/>
<circle cx="462.01" cy="606.01" r="1.3" fill="#f7941d"/>
<circle cx="468.56" cy="599.91" r="1.3" fill="#f7941d"/>
<circle cx="470.21" cy="593.58" r="1.3" fill="#f7941d"/>
<circle cx="474.18" cy="590.39" r="1.3" fill="#f7941d"/>
<circle cx="462.74" cy="609.47" r="1.3" fill="#f7941d"/>
<circle cx="477.71" cy="618.55" r="1.3" fill="#f7941d"/>
<circle cx="465.89" cy="612.08" r="1.3" fill="#f7941d"/>
<circle cx="467.15" cy="591.12" r="1.3" fill="#f7941d"/>
<circle cx="471.20" cy="553.00" r="1.3" fill="#f7941d"/>
<circle cx="471.20" cy="556.40" r="1.3" fill="#f7941d"/>
<circle cx="471.20" cy="559.80" r="1.3" fill="#f7941d"/>
<circle cx="471.20" cy="568.40" r="1.3" fill="#f7941d"/>
<circle cx="471.20" cy="572.10" r="1.3" fill="#f7941d"/>
<circle cx="471.20" cy="645.50" r="1.3" fill="#f7941d"/>
<circle cx="511.89" cy="594.16" r="1.3" fill="#f7941d"/>
<circle cx="514.68" cy="620.24" r="1.3" fill="#f7941d"/>
<circle cx="509.57" cy="591.91" r="1.3" fill="#f7941d"/>
<circle cx="507.44" cy="635.89" r="1.3" fill="#f7941d"/>
<circle cx="502.58" cy="624.22" r="1.3" fill="#f7941d"/>
<circle cx="517.17" cy="615.57" r="1.3" fill="#f7941d"/>
<circle cx="505.92" cy="592.55" r="1.3" fill="#f7941d"/>
<circle cx="508.66" cy="589.94" r="1.3" fill="#f7941d"/>
<circle cx="510.38" cy="623.94" r="1.3" fill="#f7941d"/>
<circle cx="509.56" cy="635.43" r="1.3" fill="#f7941d"/>
<circle cx="508.70" cy="601.47" r="1.3" fill="#f7941d"/>
<circle cx="510.68" cy="599.24" r="1.3" fill="#f7941d"/>
<circle cx="518.22" cy="613.09" r="1.3" fill="#f7941d"/>
<circle cx="501.20" cy="620.52" r="1.3" fill="#f7941d"/>
<circle cx="514.12" cy="628.72" r="1.3" fill="#f7941d"/>
<circle cx="512.26" cy="609.69" r="1.3" fill="#f7941d"/>
<circle cx="508.87" cy="584.95" r="1.3" fill="#f7941d"/>
<circle cx="507.71" cy="599.96" r="1.3" fill="#f7941d"/>
<circle cx="509.14" cy="598.00" r="1.3" fill="#f7941d"/>
<circle cx="511.03" cy="605.38" r="1.3" fill="#f7941d"/>
<circle cx="506.89" cy="616.51" r="1.3" fill="#f7941d"/>
<circle cx="500.96" cy="613.42" r="1.3" fill="#f7941d"/>
<circle cx="511.54" cy="613.43" r="1.3" fill="#f7941d"/>
<circle cx="504.70" cy="624.81" r="1.3" fill="#f7941d"/>
<circle cx="504.65" cy="629.60" r="1.3" fill="#f7941d"/>
<circle cx="509.03" cy="607.49" r="1.3" fill="#f7941d"/>
<circle cx="505.57" cy="601.49" r="1.3" fill="#f7941d"/>
<circle cx="511.37" cy="635.26" r="1.3" fill="#f7941d"/>
<circle cx="511.57" cy="631.04" r="1.3" fill="#f7941d"/>
<circle cx="502.00" cy="626.61" r="1.3" fill="#f7941d"/>
<circle cx="504.43" cy="604.69" r="1.3" fill="#f7941d"/>
<circle cx="510.10" cy="588.39" r="1.3" fill="#f7941d"/>
<circle cx="507.62" cy="586.30" r="1.3" fill="#f7941d"/>
<circle cx="507.21" cy="632.23" r="1.3" fill="#f7941d"/>
<circle cx="504.57" cy="621.36" r="1.3" fill="#f7941d"/>
<circle cx="513.90" cy="604.85" r="1.3" fill="#f7941d"/>
<circle cx="506.92" cy="619.31" r="1.3" fill="#f7941d"/>
<circle cx="506.14" cy="611.97" r="1.3" fill="#f7941d"/>
<circle cx="509.01" cy="616.01" r="1.3" fill="#f7941d"/>
<circle cx="514.54" cy="611.86" r="1.3" fill="#f7941d"/>
<circle cx="509.91" cy="627.43" r="1.3" fill="#f7941d"/>
<circle cx="506.76" cy="634.03" r="1.3" fill="#f7941d"/>
<circle cx="508.15" cy="604.73" r="1.3" fill="#f7941d"/>
<circle cx="506.33" cy="605.89" r="1.3" fill="#f7941d"/>
<circle cx="508.82" cy="630.68" r="1.3" fill="#f7941d"/>
<circle cx="507.73" cy="591.68" r="1.3" fill="#f7941d"/>
<circle cx="504.40" cy="615.21" r="1.3" fill="#f7941d"/>
<circle cx="511.87" cy="628.46" r="1.3" fill="#f7941d"/>
<circle cx="504.23" cy="618.06" r="1.3" fill="#f7941d"/>
<circle cx="509.28" cy="596.13" r="1.3" fill="#f7941d"/>
<circle cx="505.85" cy="595.63" r="1.3" fill="#f7941d"/>
<circle cx="512.12" cy="607.63" r="1.3" fill="#f7941d"/>
<circle cx="507.37" cy="596.99" r="1.3" fill="#f7941d"/>
<circle cx="508.19" cy="609.79" r="1.3" fill="#f7941d"/>
<circle cx="513.44" cy="602.31" r="1.3" fill="#f7941d"/>
<circle cx="511.90" cy="617.40" r="1.3" fill="#f7941d"/>
<circle cx="514.46" cy="609.75" r="1.3" fill="#f7941d"/>
<circle cx="501.33" cy="622.34" r="1.3" fill="#f7941d"/>
<circle cx="510.53" cy="633.47" r="1.3" fill="#f7941d"/>
<circle cx="500.97" cy="617.53" r="1.3" fill="#f7941d"/>
<circle cx="510.67" cy="619.43" r="1.3" fill="#f7941d"/>
<circle cx="505.80" cy="598.37" r="1.3" fill="#f7941d"/>
<circle cx="502.27" cy="609.74" r="1.3" fill="#f7941d"/>
<circle cx="502.72" cy="612.61" r="1.3" fill="#f7941d"/>
<circle cx="512.19" cy="625.41" r="1.3" fill="#f7941d"/>
<circle cx="505.49" cy="627.45" r="1.3" fill="#f7941d"/>
<circle cx="512.54" cy="621.74" r="1.3" fill="#f7941d"/>
<circle cx="510.20" cy="602.85" r="1.3" fill="#f7941d"/>
<circle cx="505.94" cy="613.96" r="1.3" fill="#f7941d"/>
<circle cx="505.88" cy="622.75" r="1.3" fill="#f7941d"/>
<circle cx="499.42" cy="614.41" r="1.3" fill="#f7941d"/>
<circle cx="514.45" cy="622.33" r="1.3" fill="#f7941d"/>
<circle cx="500.91" cy="611.58" r="1.3" fill="#f7941d"/>
<circle cx="505.08" cy="607.89" r="1.3" fill="#f7941d"/>
<circle cx="511.27" cy="597.52" r="1.3" fill="#f7941d"/>
<circle cx="511.18" cy="615.46" r="1.3" fill="#f7941d"/>
<circle cx="503.48" cy="602.98" r="1.3" fill="#f7941d"/>
<circle cx="515.40" cy="617.74" r="1.3" fill="#f7941d"/>
<circle cx="512.44" cy="611.86" r="1.3" fill="#f7941d"/>
<circle cx="507.83" cy="594.36" r="1.3" fill="#f7941d"/>
<circle cx="517.15" cy="621.61" r="1.3" fill="#f7941d"/>
<circle cx="514.96" cy="626.31" r="1.3" fill="#f7941d"/>
<circle cx="499.53" cy="618.90" r="1.3" fill="#f7941d"/>
<circle cx="514.80" cy="614.33" r="1.3" fill="#f7941d"/>
<circle cx="506.68" cy="630.11" r="1.3" fill="#f7941d"/>
<circle cx="503.64" cy="606.75" r="1.3" fill="#f7941d"/>
<circle cx="508.10" cy="626.74" r="1.3" fill="#f7941d"/>
<circle cx="508.31" cy="611.79" r="1.3" fill="#f7941d"/>
<circle cx="512.43" cy="600.24" r="1.3" fill="#f7941d"/>
<circle cx="502.37" cy="615.53" r="1.3" fill="#f7941d"/>
<circle cx="499.40" cy="616.34" r="1.3" fill="#f7941d"/>
<circle cx="508.55" cy="633.67" r="1.3" fill="#f7941d"/>
<circle cx="510.07" cy="610.14" r="1.3" fill="#f7941d"/>
<circle cx="506.50" cy="624.70" r="1.3" fill="#f7941d"/>
<circle cx="518.09" cy="618.15" r="1.3" fill="#f7941d"/>
<circle cx="508.20" cy="622.07" r="1.3" fill="#f7941d"/>
<circle cx="505.03" cy="610.22" r="1.3" fill="#f7941d"/>
<circle cx="509.79" cy="612.86" r="1.3" fill="#f7941d"/>
<circle cx="516.57" cy="613.86" r="1.3" fill="#f7941d"/>
<circle cx="508.79" cy="617.99" r="1.3" fill="#f7941d"/>
<circle cx="515.61" cy="623.97" r="1.3" fill="#f7941d"/>
<circle cx="510.70" cy="590.22" r="1.3" fill="#f7941d"/>
<circle cx="507.63" cy="588.20" r="1.3" fill="#f7941d"/>
<circle cx="507.05" cy="603.13" r="1.3" fill="#f7941d"/>
<circle cx="519.59" cy="614.61" r="1.3" fill="#f7941d"/>
<circle cx="503.25" cy="628.02" r="1.3" fill="#f7941d"/>
<circle cx="516.57" cy="611.36" r="1.3" fill="#f7941d"/>
<circle cx="509.72" cy="594.32" r="1.3" fill="#f7941d"/>
<circle cx="511.92" cy="592.31" r="1.3" fill="#f7941d"/>
<circle cx="508.43" cy="624.85" r="1.3" fill="#f7941d"/>
<circle cx="513.41" cy="623.89" r="1.3" fill="#f7941d"/>
<circle cx="514.11" cy="616.12" r="1.3" fill="#f7941d"/>
<circle cx="514.34" cy="607.07" r="1.3" fill="#f7941d"/>
<circle cx="507.06" cy="608.23" r="1.3" fill="#f7941d"/>
<circle cx="508.22" cy="614.14" r="1.3" fill="#f7941d"/>
<circle cx="512.76" cy="619.87" r="1.3" fill="#f7941d"/>
<circle cx="510.48" cy="621.79" r="1.3" fill="#f7941d"/>
<circle cx="503.08" cy="620.33" r="1.3" fill="#f7941d"/>
<circle cx="507.63" cy="628.49" r="1.3" fill="#f7941d"/>
<circle cx="513.29" cy="627.02" r="1.3" fill="#f7941d"/>
<circle cx="512.31" cy="603.95" r="1.3" fill="#f7941d"/>
<circle cx="509.87" cy="586.56" r="1.3" fill="#f7941d"/>
<circle cx="510.22" cy="629.51" r="1.3" fill="#f7941d"/>
<circle cx="513.60" cy="618.22" r="1.3" fill="#f7941d"/>
<circle cx="516.66" cy="619.51" r="1.3" fill="#f7941d"/>
<circle cx="499.48" cy="621.09" r="1.3" fill="#f7941d"/>
<circle cx="508.54" cy="620.23" r="1.3" fill="#f7941d"/>
<circle cx="510.71" cy="601.09" r="1.3" fill="#f7941d"/>
<circle cx="508.86" cy="645.61" r="1.3" fill="#f7941d"/>
<circle cx="508.28" cy="647.31" r="1.3" fill="#f7941d"/>
<circle cx="508.80" cy="575.80" r="1.3" fill="#f7941d"/>
<circle cx="509.40" cy="580.20" r="1.3" fill="#f7941d"/>
<line x1="458.90" y1="608.90" x2="483.50" y2="608.90" stroke="#921b22" stroke-width="1.75"/>
<line x1="496.50" y1="614.30" x2="521.10" y2="614.30" stroke="#921b22" stroke-width="1.75"/>
<line x1="584.00" y1="663.30" x2="671.70" y2="663.30" stroke="#a8a8a8" stroke-width="1.3"/>
<line x1="608.80" y1="663.30" x2="608.80" y2="668.10" stroke="#a8a8a8" stroke-width="0.9"/>
<text x="608.80" y="682.50" font-size="11" text-anchor="middle" fill="#404040">acc</text>
<line x1="646.50" y1="663.30" x2="646.50" y2="668.10" stroke="#a8a8a8" stroke-width="0.9"/>
<text x="646.50" y="682.50" font-size="11" text-anchor="middle" fill="#404040">alt</text>
<line x1="584.00" y1="532.50" x2="584.00" y2="663.30" stroke="#707070" stroke-width="0.8"/>
<line x1="579.20" y1="663.30" x2="584.00" y2="663.30" stroke="#8c8c8c" stroke-width="0.8"/>
<text x="574.00" y="666.40" font-size="9.5" text-anchor="end" fill="#404040">0</text>
<line x1="579.20" y1="630.50" x2="584.00" y2="630.50" stroke="#8c8c8c" stroke-width="0.8"/>
<text x="574.00" y="633.60" font-size="9.5" text-anchor="end" fill="#404040">100</text>
<line x1="579.20" y1="597.70" x2="584.00" y2="597.70" stroke="#8c8c8c" stroke-width="0.8"/>
<text x="574.00" y="600.80" font-size="9.5" text-anchor="end" fill="#404040">200</text>
<line x1="579.20" y1="564.90" x2="584.00" y2="564.90" stroke="#8c8c8c" stroke-width="0.8"/>
<text x="574.00" y="568.00" font-size="9.5" text-anchor="end" fill="#404040">300</text>
<line x1="579.20" y1="532.10" x2="584.00" y2="532.10" stroke="#8c8c8c" stroke-width="0.8"/>
<text x="574.00" y="535.20" font-size="9.5" text-anchor="end" fill="#404040">400</text>
<polyline points="608.80,542.70 608.80,535.10 646.50,535.10 646.50,552.60" fill="none" stroke="#7a7a7a" stroke-width="0.8"/>
<text x="627.65" y="532.10" font-size="10" text-anchor="middle" fill="#404040">NS</text>
<text x="548.50" y="598.00" font-size="11.4" text-anchor="middle" fill="#404040" transform="rotate(-90 548.50 598.00)">Td (min)</text>
<line x1="608.80" y1="550.59" x2="608.81" y2="550.59" stroke="#f7941d" stroke-width="2.60" stroke-linecap="round"/>
<line x1="608.80" y1="560.43" x2="608.81" y2="560.43" stroke="#f7941d" stroke-width="2.60" stroke-linecap="round"/>
<line x1="608.80" y1="565.35" x2="608.81" y2="565.35" stroke="#f7941d" stroke-width="2.60" stroke-linecap="round"/>
<line x1="608.80" y1="570.27" x2="608.81" y2="570.27" stroke="#f7941d" stroke-width="2.60" stroke-linecap="round"/>
<line x1="607.40" y1="580.11" x2="610.21" y2="580.11" stroke="#f7941d" stroke-width="2.60" stroke-linecap="round"/>
<line x1="607.40" y1="585.03" x2="610.21" y2="585.03" stroke="#f7941d" stroke-width="2.60" stroke-linecap="round"/>
<line x1="606.80" y1="589.95" x2="610.81" y2="589.95" stroke="#f7941d" stroke-width="2.60" stroke-linecap="round"/>
<line x1="602.40" y1="594.87" x2="615.21" y2="594.87" stroke="#f7941d" stroke-width="2.60" stroke-linecap="round"/>
<line x1="601.30" y1="599.79" x2="616.31" y2="599.79" stroke="#f7941d" stroke-width="2.60" stroke-linecap="round"/>
<line x1="597.50" y1="604.71" x2="620.11" y2="604.71" stroke="#f7941d" stroke-width="2.60" stroke-linecap="round"/>
<line x1="597.50" y1="609.63" x2="620.11" y2="609.63" stroke="#f7941d" stroke-width="2.60" stroke-linecap="round"/>
<line x1="598.80" y1="614.55" x2="618.81" y2="614.55" stroke="#f7941d" stroke-width="2.60" stroke-linecap="round"/>
<line x1="605.10" y1="619.47" x2="612.51" y2="619.47" stroke="#f7941d" stroke-width="2.60" stroke-linecap="round"/>
<line x1="608.10" y1="624.39" x2="609.51" y2="624.39" stroke="#f7941d" stroke-width="2.60" stroke-linecap="round"/>
<line x1="608.80" y1="634.23" x2="608.81" y2="634.23" stroke="#f7941d" stroke-width="2.60" stroke-linecap="round"/>
<line x1="645.80" y1="560.43" x2="647.21" y2="560.43" stroke="#f7941d" stroke-width="2.60" stroke-linecap="round"/>
<line x1="646.50" y1="570.27" x2="646.51" y2="570.27" stroke="#f7941d" stroke-width="2.60" stroke-linecap="round"/>
<line x1="644.50" y1="575.19" x2="648.51" y2="575.19" stroke="#f7941d" stroke-width="2.60" stroke-linecap="round"/>
<line x1="645.10" y1="580.11" x2="647.91" y2="580.11" stroke="#f7941d" stroke-width="2.60" stroke-linecap="round"/>
<line x1="643.40" y1="585.03" x2="649.61" y2="585.03" stroke="#f7941d" stroke-width="2.60" stroke-linecap="round"/>
<line x1="644.00" y1="589.95" x2="649.01" y2="589.95" stroke="#f7941d" stroke-width="2.60" stroke-linecap="round"/>
<line x1="639.60" y1="594.87" x2="653.41" y2="594.87" stroke="#f7941d" stroke-width="2.60" stroke-linecap="round"/>
<line x1="635.40" y1="599.79" x2="657.61" y2="599.79" stroke="#f7941d" stroke-width="2.60" stroke-linecap="round"/>
<line x1="635.40" y1="604.71" x2="657.61" y2="604.71" stroke="#f7941d" stroke-width="2.60" stroke-linecap="round"/>
<line x1="637.60" y1="609.63" x2="655.41" y2="609.63" stroke="#f7941d" stroke-width="2.60" stroke-linecap="round"/>
<line x1="637.90" y1="614.55" x2="655.11" y2="614.55" stroke="#f7941d" stroke-width="2.60" stroke-linecap="round"/>
<line x1="643.40" y1="619.47" x2="649.61" y2="619.47" stroke="#f7941d" stroke-width="2.60" stroke-linecap="round"/>
<line x1="645.60" y1="624.39" x2="647.41" y2="624.39" stroke="#f7941d" stroke-width="2.60" stroke-linecap="round"/>
<line x1="646.50" y1="634.23" x2="646.51" y2="634.23" stroke="#f7941d" stroke-width="2.60" stroke-linecap="round"/>
<line x1="596.10" y1="605.00" x2="621.50" y2="605.00" stroke="#921b22" stroke-width="2.1"/>
<line x1="633.90" y1="605.00" x2="659.10" y2="605.00" stroke="#921b22" stroke-width="2.1"/>
<line x1="62.30" y1="856.00" x2="281.50" y2="856.00" stroke="#a8a8a8" stroke-width="1.0"/>
<line x1="62.30" y1="856.00" x2="62.30" y2="861.60" stroke="#6a6a6a" stroke-width="0.8"/>
<text x="62.30" y="873.00" font-size="9.5" text-anchor="middle" fill="#404040">0.1</text>
<line x1="93.40" y1="856.00" x2="93.40" y2="861.60" stroke="#6a6a6a" stroke-width="0.8"/>
<text x="93.40" y="873.00" font-size="9.5" text-anchor="middle" fill="#404040">0.2</text>
<line x1="124.50" y1="856.00" x2="124.50" y2="861.60" stroke="#6a6a6a" stroke-width="0.8"/>
<text x="124.50" y="873.00" font-size="9.5" text-anchor="middle" fill="#404040">0.3</text>
<line x1="155.60" y1="856.00" x2="155.60" y2="861.60" stroke="#6a6a6a" stroke-width="0.8"/>
<text x="155.60" y="873.00" font-size="9.5" text-anchor="middle" fill="#404040">0.4</text>
<line x1="186.70" y1="856.00" x2="186.70" y2="861.60" stroke="#6a6a6a" stroke-width="0.8"/>
<text x="186.70" y="873.00" font-size="9.5" text-anchor="middle" fill="#404040">0.5</text>
<line x1="217.80" y1="856.00" x2="217.80" y2="861.60" stroke="#6a6a6a" stroke-width="0.8"/>
<text x="217.80" y="873.00" font-size="9.5" text-anchor="middle" fill="#404040">0.6</text>
<line x1="248.90" y1="856.00" x2="248.90" y2="861.60" stroke="#6a6a6a" stroke-width="0.8"/>
<text x="248.90" y="873.00" font-size="9.5" text-anchor="middle" fill="#404040">0.7</text>
<line x1="280.00" y1="856.00" x2="280.00" y2="861.60" stroke="#6a6a6a" stroke-width="0.8"/>
<text x="280.00" y="873.00" font-size="9.5" text-anchor="middle" fill="#404040">0.8</text>
<line x1="62.30" y1="711.10" x2="62.30" y2="861.60" stroke="#707070" stroke-width="0.8"/>
<line x1="57.70" y1="856.00" x2="62.30" y2="856.00" stroke="#8c8c8c" stroke-width="0.8"/>
<text x="52.30" y="859.00" font-size="9.5" text-anchor="end" fill="#404040">0</text>
<line x1="57.70" y1="807.70" x2="62.30" y2="807.70" stroke="#8c8c8c" stroke-width="0.8"/>
<text x="52.30" y="810.70" font-size="9.5" text-anchor="end" fill="#404040">0.1</text>
<line x1="57.70" y1="759.40" x2="62.30" y2="759.40" stroke="#8c8c8c" stroke-width="0.8"/>
<text x="52.30" y="762.40" font-size="9.5" text-anchor="end" fill="#404040">0.2</text>
<line x1="57.70" y1="711.10" x2="62.30" y2="711.10" stroke="#8c8c8c" stroke-width="0.8"/>
<text x="52.30" y="714.10" font-size="9.5" text-anchor="end" fill="#404040">0.3</text>
<rect x="127.61" y="853.59" width="6.22" height="2.41" fill="#94c1c4" stroke="#404040" stroke-width="0.6"/>
<rect x="133.83" y="853.59" width="6.22" height="2.41" fill="#94c1c4" stroke="#404040" stroke-width="0.6"/>
<rect x="140.05" y="850.06" width="6.22" height="5.94" fill="#94c1c4" stroke="#404040" stroke-width="0.6"/>
<rect x="146.27" y="854.07" width="6.22" height="1.93" fill="#94c1c4" stroke="#404040" stroke-width="0.6"/>
<rect x="152.49" y="841.51" width="6.22" height="14.49" fill="#94c1c4" stroke="#404040" stroke-width="0.6"/>
<rect x="158.71" y="818.52" width="6.22" height="37.48" fill="#94c1c4" stroke="#404040" stroke-width="0.6"/>
<rect x="164.93" y="808.33" width="6.22" height="47.67" fill="#94c1c4" stroke="#404040" stroke-width="0.6"/>
<rect x="171.15" y="798.04" width="6.22" height="57.96" fill="#94c1c4" stroke="#404040" stroke-width="0.6"/>
<rect x="177.37" y="792.24" width="6.22" height="63.76" fill="#94c1c4" stroke="#404040" stroke-width="0.6"/>
<rect x="183.59" y="794.66" width="6.22" height="61.34" fill="#94c1c4" stroke="#404040" stroke-width="0.6"/>
<rect x="189.81" y="803.35" width="6.22" height="52.65" fill="#94c1c4" stroke="#404040" stroke-width="0.6"/>
<rect x="196.03" y="810.60" width="6.22" height="45.40" fill="#94c1c4" stroke="#404040" stroke-width="0.6"/>
<rect x="202.25" y="829.43" width="6.22" height="26.57" fill="#94c1c4" stroke="#404040" stroke-width="0.6"/>
<rect x="208.47" y="834.75" width="6.22" height="21.25" fill="#94c1c4" stroke="#404040" stroke-width="0.6"/>
<rect x="214.69" y="846.53" width="6.22" height="9.47" fill="#94c1c4" stroke="#404040" stroke-width="0.6"/>
<rect x="220.91" y="844.89" width="6.22" height="11.11" fill="#94c1c4" stroke="#404040" stroke-width="0.6"/>
<line x1="186.70" y1="712.50" x2="186.70" y2="856.00" stroke="#b4b4b4" stroke-width="0.8" stroke-dasharray="3.5,3.5"/>
<path d="M62.30,856.00 L63.03,856.00 L63.75,856.00 L64.48,856.00 L65.20,856.00 L65.93,856.00 L66.65,856.00 L67.38,856.00 L68.11,856.00 L68.83,856.00 L69.56,856.00 L70.28,856.00 L71.01,856.00 L71.73,856.00 L72.46,856.00 L73.19,856.00 L73.91,856.00 L74.64,856.00 L75.36,856.00 L76.09,856.00 L76.81,856.00 L77.54,856.00 L78.26,856.00 L78.99,856.00 L79.72,856.00 L80.44,856.00 L81.17,856.00 L81.89,856.00 L82.62,856.00 L83.34,856.00 L84.07,856.00 L84.80,856.00 L85.52,856.00 L86.25,856.00 L86.97,856.00 L87.70,856.00 L88.42,856.00 L89.15,856.00 L89.88,856.00 L90.60,856.00 L91.33,856.00 L92.05,856.00 L92.78,856.00 L93.50,856.00 L94.23,856.00 L94.95,856.00 L95.68,856.00 L96.41,856.00 L97.13,856.00 L97.86,856.00 L98.58,856.00 L99.31,856.00 L100.03,856.00 L100.76,855.99 L101.49,855.99 L102.21,855.99 L102.94,855.99 L103.66,855.99 L104.39,855.99 L105.11,855.99 L105.84,855.98 L106.57,855.98 L107.29,855.98 L108.02,855.97 L108.74,855.97 L109.47,855.97 L110.19,855.96 L110.92,855.95 L111.65,855.95 L112.37,855.94 L113.10,855.93 L113.82,855.92 L114.55,855.91 L115.27,855.89 L116.00,855.88 L116.72,855.86 L117.45,855.84 L118.18,855.82 L118.90,855.79 L119.63,855.76 L120.35,855.73 L121.08,855.69 L121.80,855.65 L122.53,855.61 L123.26,855.56 L123.98,855.50 L124.71,855.44 L125.43,855.37 L126.16,855.29 L126.88,855.20 L127.61,855.11 L128.34,855.00 L129.06,854.89 L129.79,854.76 L130.51,854.62 L131.24,854.47 L131.96,854.30 L132.69,854.11 L133.42,853.91 L134.14,853.69 L134.87,853.46 L135.59,853.20 L136.32,852.92 L137.04,852.61 L137.77,852.29 L138.50,851.93 L139.22,851.55 L139.95,851.14 L140.67,850.71 L141.40,850.24 L142.12,849.73 L142.85,849.20 L143.57,848.63 L144.30,848.02 L145.03,847.38 L145.75,846.69 L146.48,845.97 L147.20,845.21 L147.93,844.40 L148.65,843.56 L149.38,842.67 L150.11,841.74 L150.83,840.77 L151.56,839.76 L152.28,838.70 L153.01,837.60 L153.73,836.46 L154.46,835.28 L155.19,834.06 L155.91,832.80 L156.64,831.51 L157.36,830.18 L158.09,828.82 L158.81,827.43 L159.54,826.01 L160.27,824.57 L160.99,823.11 L161.72,821.63 L162.44,820.14 L163.17,818.63 L163.89,817.12 L164.62,815.61 L165.34,814.10 L166.07,812.60 L166.80,811.10 L167.52,809.63 L168.25,808.18 L168.97,806.75 L169.70,805.36 L170.42,804.00 L171.15,802.68 L171.88,801.41 L172.60,800.19 L173.33,799.03 L174.05,797.93 L174.78,796.89 L175.50,795.93 L176.23,795.03 L176.96,794.22 L177.68,793.48 L178.41,792.83 L179.13,792.27 L179.86,791.79 L180.58,791.41 L181.31,791.11 L182.04,790.91 L182.76,790.81 L183.49,790.80 L184.21,790.89 L184.94,791.07 L185.66,791.35 L186.39,791.72 L187.11,792.18 L187.84,792.73 L188.57,793.37 L189.29,794.09 L190.02,794.89 L190.74,795.77 L191.47,796.72 L192.19,797.75 L192.92,798.84 L193.65,799.99 L194.37,801.20 L195.10,802.46 L195.82,803.77 L196.55,805.12 L197.27,806.51 L198.00,807.93 L198.73,809.38 L199.45,810.85 L200.18,812.34 L200.90,813.84 L201.63,815.35 L202.35,816.86 L203.08,818.37 L203.81,819.88 L204.53,821.38 L205.26,822.86 L205.98,824.32 L206.71,825.77 L207.43,827.19 L208.16,828.59 L208.88,829.95 L209.61,831.28 L210.34,832.58 L211.06,833.85 L211.79,835.07 L212.51,836.26 L213.24,837.41 L213.96,838.51 L214.69,839.58 L215.42,840.60 L216.14,841.58 L216.87,842.52 L217.59,843.41 L218.32,844.26 L219.04,845.07 L219.77,845.84 L220.50,846.57 L221.22,847.26 L221.95,847.91 L222.67,848.53 L223.40,849.10 L224.12,849.65 L224.85,850.15 L225.58,850.63 L226.30,851.07 L227.03,851.49 L227.75,851.87 L228.48,852.23 L229.20,852.56 L229.93,852.87 L230.65,853.15 L231.38,853.41 L232.11,853.65 L232.83,853.88 L233.56,854.08 L234.28,854.27 L235.01,854.44 L235.73,854.59 L236.46,854.74 L237.19,854.87 L237.91,854.98 L238.64,855.09 L239.36,855.19 L240.09,855.27 L240.81,855.35 L241.54,855.42 L242.27,855.49 L242.99,855.55 L243.72,855.60 L244.44,855.64 L245.17,855.69 L245.89,855.72 L246.62,855.76 L247.35,855.79 L248.07,855.81 L248.80,855.84 L249.52,855.86 L250.25,855.87 L250.97,855.89 L251.70,855.90 L252.42,855.92 L253.15,855.93 L253.88,855.94 L254.60,855.95 L255.33,855.95 L256.05,855.96 L256.78,855.96 L257.50,855.97 L258.23,855.97 L258.96,855.98 L259.68,855.98 L260.41,855.98 L261.13,855.99 L261.86,855.99 L262.58,855.99 L263.31,855.99 L264.04,855.99 L264.76,855.99 L265.49,855.99 L266.21,856.00 L266.94,856.00 L267.66,856.00 L268.39,856.00 L269.12,856.00 L269.84,856.00 L270.57,856.00 L271.29,856.00 L272.02,856.00 L272.74,856.00 L273.47,856.00 L274.19,856.00 L274.92,856.00 L275.65,856.00 L276.37,856.00 L277.10,856.00 L277.82,856.00 L278.55,856.00 L279.27,856.00 L280.00,856.00" fill="none" stroke="#14999a" stroke-width="1.8"/>
<path d="M62.30,856.00 L62.74,856.00 L63.17,856.00 L63.61,856.00 L64.04,856.00 L64.48,856.00 L64.91,856.00 L65.35,856.00 L65.78,856.00 L66.22,856.00 L66.65,856.00 L67.09,856.00 L67.52,856.00 L67.96,856.00 L68.40,856.00 L68.83,856.00 L69.27,856.00 L69.70,856.00 L70.14,856.00 L70.57,856.00 L71.01,856.00 L71.44,856.00 L71.88,856.00 L72.31,856.00 L72.75,856.00 L73.19,856.00 L73.62,856.00 L74.06,856.00 L74.49,856.00 L74.93,856.00 L75.36,856.00 L75.80,856.00 L76.23,856.00 L76.67,856.00 L77.10,856.00 L77.54,856.00 L77.97,856.00 L78.41,856.00 L78.85,856.00 L79.28,856.00 L79.72,856.00 L80.15,856.00 L80.59,856.00 L81.02,856.00 L81.46,856.00 L81.89,856.00 L82.33,856.00 L82.76,856.00 L83.20,856.00 L83.63,856.00 L84.07,856.00 L84.51,856.00 L84.94,856.00 L85.38,856.00 L85.81,856.00 L86.25,856.00 L86.68,856.00 L87.12,856.00 L87.55,856.00 L87.99,856.00 L88.42,856.00 L88.86,856.00 L89.29,856.00 L89.73,856.00 L90.17,856.00 L90.60,856.00 L91.04,856.00 L91.47,856.00 L91.91,856.00 L92.34,856.00 L92.78,856.00 L93.21,856.00 L93.65,856.00 L94.08,856.00 L94.52,856.00 L94.95,856.00 L95.39,856.00 L95.83,856.00 L96.26,856.00 L96.70,856.00 L97.13,856.00 L97.57,856.00 L98.00,856.00 L98.44,856.00 L98.87,856.00 L99.31,856.00 L99.74,856.00 L100.18,856.00 L100.62,856.00 L101.05,856.00 L101.49,856.00 L101.92,856.00 L102.36,856.00 L102.79,856.00 L103.23,856.00 L103.66,856.00 L104.10,856.00 L104.53,856.00 L104.97,856.00 L105.40,856.00 L105.84,856.00 L106.28,856.00 L106.71,856.00 L107.15,856.00 L107.58,856.00 L108.02,856.00 L108.45,856.00 L108.89,856.00 L109.32,856.00 L109.76,856.00 L110.19,856.00 L110.63,856.00 L111.06,856.00 L111.50,856.00 L111.94,856.00 L112.37,856.00 L112.81,856.00 L113.24,856.00 L113.68,856.00 L114.11,856.00 L114.55,856.00 L114.98,856.00 L115.42,856.00 L115.85,856.00 L116.29,856.00 L116.72,856.00 L117.16,856.00 L117.60,856.00 L118.03,856.00 L118.47,856.00 L118.90,856.00 L119.34,856.00 L119.77,856.00 L120.21,856.00 L120.64,856.00 L121.08,856.00 L121.51,856.00 L121.95,856.00 L122.39,856.00 L122.82,856.00 L123.26,856.00 L123.69,856.00 L124.13,856.00 L124.56,856.00 L125.00,856.00 L125.43,856.00 L125.87,856.00 L126.30,856.00 L126.74,856.00 L127.17,856.00 L127.61,856.00 L128.05,856.00 L128.48,856.00 L128.92,856.00 L129.35,856.00 L129.79,856.00 L130.22,856.00 L130.66,856.00 L131.09,856.00 L131.53,856.00 L131.96,856.00 L132.40,856.00 L132.83,856.00 L133.27,856.00 L133.71,856.00 L134.14,856.00 L134.58,856.00 L135.01,856.00 L135.45,856.00 L135.88,856.00 L136.32,856.00 L136.75,856.00 L137.19,856.00 L137.62,856.00 L138.06,856.00 L138.50,856.00 L138.93,856.00 L139.37,856.00 L139.80,856.00 L140.24,856.00 L140.67,856.00 L141.11,856.00 L141.54,856.00 L141.98,856.00 L142.41,856.00 L142.85,856.00 L143.28,856.00 L143.72,856.00 L144.16,856.00 L144.59,856.00 L145.03,856.00 L145.46,856.00 L145.90,856.00 L146.33,856.00 L146.77,856.00 L147.20,856.00 L147.64,856.00 L148.07,856.00 L148.51,856.00 L148.94,856.00 L149.38,856.00 L149.82,855.99 L150.25,855.99 L150.69,855.99 L151.12,855.99 L151.56,855.99 L151.99,855.98 L152.43,855.98 L152.86,855.97 L153.30,855.96 L153.73,855.96 L154.17,855.95 L154.60,855.93 L155.04,855.92 L155.48,855.90 L155.91,855.88 L156.35,855.85 L156.78,855.82 L157.22,855.78 L157.65,855.74 L158.09,855.68 L158.52,855.62 L158.96,855.54 L159.39,855.45 L159.83,855.35 L160.27,855.23 L160.70,855.09 L161.14,854.92 L161.57,854.73 L162.01,854.51 L162.44,854.25 L162.88,853.96 L163.31,853.62 L163.75,853.23 L164.18,852.80 L164.62,852.30 L165.05,851.74 L165.49,851.11 L165.93,850.40 L166.36,849.60 L166.80,848.71 L167.23,847.72 L167.67,846.63 L168.10,845.42 L168.54,844.08 L168.97,842.62 L169.41,841.02 L169.84,839.27 L170.28,837.37 L170.71,835.32 L171.15,833.10 L171.59,830.71 L172.02,828.16 L172.46,825.43 L172.89,822.54 L173.33,819.46 L173.76,816.22 L174.20,812.82 L174.63,809.25 L175.07,805.54 L175.50,801.67 L175.94,797.68 L176.37,793.57 L176.81,789.36 L177.25,785.07 L177.68,780.70 L178.12,776.30 L178.55,771.88 L178.99,767.45 L179.42,763.06 L179.86,758.73 L180.29,754.47 L180.73,750.33 L181.16,746.33 L181.60,742.50 L182.04,738.86 L182.47,735.45 L182.91,732.29 L183.34,729.39 L183.78,726.80 L184.21,724.52 L184.65,722.58 L185.08,720.99 L185.52,719.76 L185.95,718.91 L186.39,718.44 L186.82,718.36 L187.26,718.66 L187.70,719.35 L188.13,720.42 L188.57,721.85 L189.00,723.65 L189.44,725.78 L189.87,728.25 L190.31,731.01 L190.74,734.06 L191.18,737.37 L191.61,740.92 L192.05,744.67 L192.48,748.60 L192.92,752.68 L193.36,756.89 L193.79,761.20 L194.23,765.57 L194.66,769.98 L195.10,774.41 L195.53,778.82 L195.97,783.20 L196.40,787.53 L196.84,791.78 L197.27,795.93 L197.71,799.98 L198.14,803.90 L198.58,807.68 L199.02,811.31 L199.45,814.79 L199.89,818.10 L200.32,821.24 L200.76,824.21 L201.19,827.01 L201.63,829.64 L202.06,832.10 L202.50,834.38 L202.93,836.51 L203.37,838.47 L203.81,840.29 L204.24,841.95 L204.68,843.47 L205.11,844.86 L205.55,846.12 L205.98,847.27 L206.42,848.30 L206.85,849.23 L207.29,850.07 L207.72,850.81 L208.16,851.48 L208.59,852.07 L209.03,852.59 L209.47,853.05 L209.90,853.46 L210.34,853.82 L210.77,854.13 L211.21,854.40 L211.64,854.64 L212.08,854.84 L212.51,855.02 L212.95,855.17 L213.38,855.30 L213.82,855.41 L214.25,855.51 L214.69,855.59 L215.13,855.66 L215.56,855.71 L216.00,855.76 L216.43,855.80 L216.87,855.84 L217.30,855.87 L217.74,855.89 L218.17,855.91 L218.61,855.93 L219.04,855.94 L219.48,855.95 L219.91,855.96 L220.35,855.97 L220.79,855.98 L221.22,855.98 L221.66,855.98 L222.09,855.99 L222.53,855.99 L222.96,855.99 L223.40,855.99 L223.83,856.00 L224.27,856.00 L224.70,856.00 L225.14,856.00 L225.57,856.00 L226.01,856.00 L226.45,856.00 L226.88,856.00 L227.32,856.00 L227.75,856.00 L228.19,856.00 L228.62,856.00 L229.06,856.00 L229.49,856.00 L229.93,856.00 L230.36,856.00 L230.80,856.00 L231.24,856.00 L231.67,856.00 L232.11,856.00 L232.54,856.00 L232.98,856.00 L233.41,856.00 L233.85,856.00 L234.28,856.00 L234.72,856.00 L235.15,856.00 L235.59,856.00 L236.02,856.00 L236.46,856.00 L236.90,856.00 L237.33,856.00 L237.77,856.00 L238.20,856.00 L238.64,856.00 L239.07,856.00 L239.51,856.00 L239.94,856.00 L240.38,856.00 L240.81,856.00 L241.25,856.00 L241.68,856.00 L242.12,856.00 L242.56,856.00 L242.99,856.00 L243.43,856.00 L243.86,856.00 L244.30,856.00 L244.73,856.00 L245.17,856.00 L245.60,856.00 L246.04,856.00 L246.47,856.00 L246.91,856.00 L247.34,856.00 L247.78,856.00 L248.22,856.00 L248.65,856.00 L249.09,856.00 L249.52,856.00 L249.96,856.00 L250.39,856.00 L250.83,856.00 L251.26,856.00 L251.70,856.00 L252.13,856.00 L252.57,856.00 L253.01,856.00 L253.44,856.00 L253.88,856.00 L254.31,856.00 L254.75,856.00 L255.18,856.00 L255.62,856.00 L256.05,856.00 L256.49,856.00 L256.92,856.00 L257.36,856.00 L257.79,856.00 L258.23,856.00 L258.67,856.00 L259.10,856.00 L259.54,856.00 L259.97,856.00 L260.41,856.00 L260.84,856.00 L261.28,856.00 L261.71,856.00 L262.15,856.00 L262.58,856.00 L263.02,856.00 L263.45,856.00 L263.89,856.00 L264.33,856.00 L264.76,856.00 L265.20,856.00 L265.63,856.00 L266.07,856.00 L266.50,856.00 L266.94,856.00 L267.37,856.00 L267.81,856.00 L268.24,856.00 L268.68,856.00 L269.12,856.00 L269.55,856.00 L269.99,856.00 L270.42,856.00 L270.86,856.00 L271.29,856.00 L271.73,856.00 L272.16,856.00 L272.60,856.00 L273.03,856.00 L273.47,856.00 L273.90,856.00 L274.34,856.00 L274.78,856.00 L275.21,856.00 L275.65,856.00 L276.08,856.00 L276.52,856.00 L276.95,856.00 L277.39,856.00 L277.82,856.00 L278.26,856.00 L278.69,856.00 L279.13,856.00 L279.56,856.00 L280.00,856.00" fill="none" stroke="#921b22" stroke-width="1.8"/>
<text x="111.10" y="819.80" font-size="10" text-anchor="start" fill="#262626">Mtb 12%</text>
<text x="211.40" y="772.40" font-size="10.5" text-anchor="start" fill="#a1252d" font-style="italic">E. coli</text>
<text x="211.40" y="784.60" font-size="10.5" text-anchor="start" fill="#a1252d">6%</text>
<text x="31.00" y="785.20" font-size="11.4" text-anchor="middle" fill="#404040" transform="rotate(-90 31.00 785.20)">Relative frequency</text>
<text x="171.00" y="890.00" font-size="11" text-anchor="middle" fill="#404040">Division asymmetry</text>
<line x1="406.30" y1="855.70" x2="620.50" y2="855.70" stroke="#a8a8a8" stroke-width="1.0"/>
<line x1="406.30" y1="855.70" x2="406.30" y2="861.30" stroke="#6a6a6a" stroke-width="0.8"/>
<text x="406.30" y="873.20" font-size="9.5" text-anchor="middle" fill="#404040">0.1</text>
<line x1="436.50" y1="855.70" x2="436.50" y2="861.30" stroke="#6a6a6a" stroke-width="0.8"/>
<text x="436.50" y="873.20" font-size="9.5" text-anchor="middle" fill="#404040">0.2</text>
<line x1="466.70" y1="855.70" x2="466.70" y2="861.30" stroke="#6a6a6a" stroke-width="0.8"/>
<text x="466.70" y="873.20" font-size="9.5" text-anchor="middle" fill="#404040">0.3</text>
<line x1="496.90" y1="855.70" x2="496.90" y2="861.30" stroke="#6a6a6a" stroke-width="0.8"/>
<text x="496.90" y="873.20" font-size="9.5" text-anchor="middle" fill="#404040">0.4</text>
<line x1="527.10" y1="855.70" x2="527.10" y2="861.30" stroke="#6a6a6a" stroke-width="0.8"/>
<text x="527.10" y="873.20" font-size="9.5" text-anchor="middle" fill="#404040">0.5</text>
<line x1="557.30" y1="855.70" x2="557.30" y2="861.30" stroke="#6a6a6a" stroke-width="0.8"/>
<text x="557.30" y="873.20" font-size="9.5" text-anchor="middle" fill="#404040">0.6</text>
<line x1="587.50" y1="855.70" x2="587.50" y2="861.30" stroke="#6a6a6a" stroke-width="0.8"/>
<text x="587.50" y="873.20" font-size="9.5" text-anchor="middle" fill="#404040">0.7</text>
<line x1="617.70" y1="855.70" x2="617.70" y2="861.30" stroke="#6a6a6a" stroke-width="0.8"/>
<text x="617.70" y="873.20" font-size="9.5" text-anchor="middle" fill="#404040">0.8</text>
<line x1="406.30" y1="715.00" x2="406.30" y2="861.30" stroke="#707070" stroke-width="0.8"/>
<line x1="401.70" y1="855.70" x2="406.30" y2="855.70" stroke="#8c8c8c" stroke-width="0.8"/>
<text x="396.30" y="858.70" font-size="9.5" text-anchor="end" fill="#404040">0</text>
<line x1="401.70" y1="808.80" x2="406.30" y2="808.80" stroke="#8c8c8c" stroke-width="0.8"/>
<text x="396.30" y="811.80" font-size="9.5" text-anchor="end" fill="#404040">0.05</text>
<line x1="401.70" y1="761.90" x2="406.30" y2="761.90" stroke="#8c8c8c" stroke-width="0.8"/>
<text x="396.30" y="764.90" font-size="9.5" text-anchor="end" fill="#404040">0.10</text>
<line x1="401.70" y1="715.00" x2="406.30" y2="715.00" stroke="#8c8c8c" stroke-width="0.8"/>
<text x="396.30" y="718.00" font-size="9.5" text-anchor="end" fill="#404040">0.15</text>
<rect x="422.17" y="849.98" width="4.5" height="5.72" fill="#fde3b5" stroke="#505050" stroke-width="0.6"/>
<rect x="452.37" y="849.98" width="4.5" height="5.72" fill="#fde3b5" stroke="#505050" stroke-width="0.6"/>
<rect x="458.41" y="842.85" width="4.5" height="12.85" fill="#fde3b5" stroke="#505050" stroke-width="0.6"/>
<rect x="464.45" y="828.22" width="4.5" height="27.48" fill="#fde3b5" stroke="#505050" stroke-width="0.6"/>
<rect x="470.49" y="821.09" width="4.5" height="34.61" fill="#fde3b5" stroke="#505050" stroke-width="0.6"/>
<rect x="476.53" y="799.42" width="4.5" height="56.28" fill="#fde3b5" stroke="#505050" stroke-width="0.6"/>
<rect x="482.57" y="821.09" width="4.5" height="34.61" fill="#fde3b5" stroke="#505050" stroke-width="0.6"/>
<rect x="488.61" y="792.20" width="4.5" height="63.50" fill="#fde3b5" stroke="#505050" stroke-width="0.6"/>
<rect x="494.65" y="784.51" width="4.5" height="71.19" fill="#fde3b5" stroke="#505050" stroke-width="0.6"/>
<rect x="500.69" y="777.94" width="4.5" height="77.76" fill="#fde3b5" stroke="#505050" stroke-width="0.6"/>
<rect x="506.73" y="756.27" width="4.5" height="99.43" fill="#fde3b5" stroke="#505050" stroke-width="0.6"/>
<rect x="512.77" y="799.42" width="4.5" height="56.28" fill="#fde3b5" stroke="#505050" stroke-width="0.6"/>
<rect x="518.81" y="821.09" width="4.5" height="34.61" fill="#fde3b5" stroke="#505050" stroke-width="0.6"/>
<rect x="524.85" y="749.33" width="4.5" height="106.37" fill="#fde3b5" stroke="#505050" stroke-width="0.6"/>
<rect x="530.89" y="777.94" width="4.5" height="77.76" fill="#fde3b5" stroke="#505050" stroke-width="0.6"/>
<rect x="536.93" y="806.92" width="4.5" height="48.78" fill="#fde3b5" stroke="#505050" stroke-width="0.6"/>
<rect x="542.97" y="828.22" width="4.5" height="27.48" fill="#fde3b5" stroke="#505050" stroke-width="0.6"/>
<rect x="549.01" y="835.53" width="4.5" height="20.17" fill="#fde3b5" stroke="#505050" stroke-width="0.6"/>
<rect x="555.05" y="849.51" width="4.5" height="6.19" fill="#fde3b5" stroke="#505050" stroke-width="0.6"/>
<rect x="561.09" y="842.29" width="4.5" height="13.41" fill="#fde3b5" stroke="#505050" stroke-width="0.6"/>
<rect x="573.17" y="842.29" width="4.5" height="13.41" fill="#fde3b5" stroke="#505050" stroke-width="0.6"/>
<rect x="579.21" y="849.51" width="4.5" height="6.19" fill="#fde3b5" stroke="#505050" stroke-width="0.6"/>
<rect x="591.29" y="849.51" width="4.5" height="6.19" fill="#fde3b5" stroke="#505050" stroke-width="0.6"/>
<line x1="527.10" y1="715.70" x2="527.10" y2="855.70" stroke="#b4b4b4" stroke-width="0.8" stroke-dasharray="3.5,3.5"/>
<path d="M406.30,855.56 L407.00,855.55 L407.71,855.53 L408.41,855.52 L409.12,855.50 L409.82,855.49 L410.53,855.47 L411.23,855.45 L411.94,855.43 L412.64,855.40 L413.35,855.38 L414.05,855.35 L414.76,855.32 L415.46,855.29 L416.17,855.26 L416.87,855.22 L417.57,855.18 L418.28,855.14 L418.98,855.10 L419.69,855.05 L420.39,855.00 L421.10,854.95 L421.80,854.89 L422.51,854.83 L423.21,854.77 L423.92,854.70 L424.62,854.62 L425.33,854.55 L426.03,854.46 L426.74,854.37 L427.44,854.28 L428.14,854.18 L428.85,854.07 L429.55,853.96 L430.26,853.84 L430.96,853.71 L431.67,853.58 L432.37,853.44 L433.08,853.29 L433.78,853.13 L434.49,852.96 L435.19,852.79 L435.90,852.60 L436.60,852.40 L437.31,852.20 L438.01,851.98 L438.71,851.75 L439.42,851.51 L440.12,851.26 L440.83,851.00 L441.53,850.72 L442.24,850.43 L442.94,850.13 L443.65,849.81 L444.35,849.48 L445.06,849.13 L445.76,848.77 L446.47,848.39 L447.17,848.00 L447.88,847.59 L448.58,847.16 L449.28,846.72 L449.99,846.25 L450.69,845.77 L451.40,845.27 L452.10,844.76 L452.81,844.22 L453.51,843.66 L454.22,843.09 L454.92,842.49 L455.63,841.88 L456.33,841.24 L457.04,840.58 L457.74,839.90 L458.45,839.21 L459.15,838.49 L459.85,837.75 L460.56,836.98 L461.26,836.20 L461.97,835.40 L462.67,834.57 L463.38,833.73 L464.08,832.86 L464.79,831.98 L465.49,831.07 L466.20,830.14 L466.90,829.20 L467.61,828.23 L468.31,827.25 L469.02,826.25 L469.72,825.23 L470.42,824.19 L471.13,823.14 L471.83,822.07 L472.54,820.99 L473.24,819.89 L473.95,818.78 L474.65,817.66 L475.36,816.53 L476.06,815.38 L476.77,814.23 L477.47,813.06 L478.18,811.89 L478.88,810.72 L479.59,809.54 L480.29,808.35 L480.99,807.17 L481.70,805.98 L482.40,804.79 L483.11,803.60 L483.81,802.42 L484.52,801.24 L485.22,800.07 L485.93,798.91 L486.63,797.75 L487.34,796.61 L488.04,795.48 L488.75,794.36 L489.45,793.26 L490.16,792.17 L490.86,791.11 L491.56,790.06 L492.27,789.03 L492.97,788.03 L493.68,787.05 L494.38,786.10 L495.09,785.18 L495.79,784.28 L496.50,783.42 L497.20,782.59 L497.91,781.79 L498.61,781.02 L499.32,780.30 L500.02,779.60 L500.73,778.95 L501.43,778.34 L502.13,777.76 L502.84,777.23 L503.54,776.74 L504.25,776.29 L504.95,775.88 L505.66,775.52 L506.36,775.21 L507.07,774.94 L507.77,774.71 L508.48,774.54 L509.18,774.40 L509.89,774.32 L510.59,774.28 L511.30,774.29 L512.00,774.35 L512.70,774.45 L513.41,774.61 L514.11,774.80 L514.82,775.05 L515.52,775.34 L516.23,775.67 L516.93,776.05 L517.64,776.47 L518.34,776.94 L519.05,777.45 L519.75,778.00 L520.46,778.59 L521.16,779.23 L521.87,779.90 L522.57,780.60 L523.27,781.35 L523.98,782.13 L524.68,782.94 L525.39,783.79 L526.09,784.66 L526.80,785.57 L527.50,786.51 L528.21,787.47 L528.91,788.46 L529.62,789.47 L530.32,790.51 L531.03,791.56 L531.73,792.64 L532.44,793.73 L533.14,794.84 L533.84,795.96 L534.55,797.10 L535.25,798.25 L535.96,799.41 L536.66,800.57 L537.37,801.75 L538.07,802.93 L538.78,804.11 L539.48,805.30 L540.19,806.49 L540.89,807.67 L541.60,808.86 L542.30,810.04 L543.01,811.22 L543.71,812.40 L544.41,813.56 L545.12,814.72 L545.82,815.87 L546.53,817.01 L547.23,818.14 L547.94,819.26 L548.64,820.37 L549.35,821.46 L550.05,822.53 L550.76,823.60 L551.46,824.64 L552.17,825.67 L552.87,826.68 L553.58,827.67 L554.28,828.65 L554.98,829.61 L555.69,830.54 L556.39,831.46 L557.10,832.36 L557.80,833.24 L558.51,834.09 L559.21,834.93 L559.92,835.75 L560.62,836.54 L561.33,837.31 L562.03,838.07 L562.74,838.80 L563.44,839.51 L564.15,840.20 L564.85,840.87 L565.55,841.51 L566.26,842.14 L566.96,842.75 L567.67,843.34 L568.37,843.90 L569.08,844.45 L569.78,844.98 L570.49,845.49 L571.19,845.98 L571.90,846.45 L572.60,846.91 L573.31,847.35 L574.01,847.77 L574.72,848.17 L575.42,848.56 L576.12,848.93 L576.83,849.28 L577.53,849.63 L578.24,849.95 L578.94,850.26 L579.65,850.56 L580.35,850.84 L581.06,851.11 L581.76,851.37 L582.47,851.62 L583.17,851.85 L583.88,852.08 L584.58,852.29 L585.29,852.49 L585.99,852.68 L586.69,852.86 L587.40,853.04 L588.10,853.20 L588.81,853.35 L589.51,853.50 L590.22,853.64 L590.92,853.77 L591.63,853.89 L592.33,854.01 L593.04,854.12 L593.74,854.22 L594.45,854.32 L595.15,854.41 L595.86,854.50 L596.56,854.58 L597.26,854.66 L597.97,854.73 L598.67,854.80 L599.38,854.86 L600.08,854.92 L600.79,854.97 L601.49,855.03 L602.20,855.07 L602.90,855.12 L603.61,855.16 L604.31,855.20 L605.02,855.24 L605.72,855.27 L606.43,855.31 L607.13,855.34 L607.83,855.36 L608.54,855.39 L609.24,855.41 L609.95,855.44 L610.65,855.46 L611.36,855.48 L612.06,855.49 L612.77,855.51 L613.47,855.53 L614.18,855.54 L614.88,855.55 L615.59,855.56 L616.29,855.58 L617.00,855.59 L617.70,855.60" fill="none" stroke="#f7941d" stroke-width="1.8"/>
<text x="621.50" y="725.60" font-size="11" text-anchor="end" fill="#262626" font-style="italic">M. smegmatis</text>
<text x="621.50" y="737.80" font-size="10" text-anchor="end" fill="#262626">22%</text>
<text x="369.00" y="785.70" font-size="11.4" text-anchor="middle" fill="#404040" transform="rotate(-90 369.00 785.70)">Relative frequency</text>
<text x="513.00" y="890.00" font-size="11" text-anchor="middle" fill="#404040">Division asymmetry</text>
<text x="0.00" y="8.30" font-size="14" text-anchor="start" fill="#111" font-weight="bold" stroke="#111" stroke-width="0.5">a</text>
<text x="19.00" y="12.50" font-size="11" text-anchor="start" fill="#404040">Mtb</text>
<text x="0.00" y="168.80" font-size="14" text-anchor="start" fill="#111" font-weight="bold" stroke="#111" stroke-width="0.5">b</text>
<text x="15.80" y="170.40" font-size="11" text-anchor="start" fill="#404040" font-style="italic">M. smegmatis</text>
<text x="0.00" y="328.30" font-size="14" text-anchor="start" fill="#111" font-weight="bold" stroke="#111" stroke-width="0.5">c</text>
<text x="23.40" y="328.40" font-size="11" text-anchor="start" fill="#404040">Mtb</text>
<text x="0.00" y="511.60" font-size="14" text-anchor="start" fill="#111" font-weight="bold" stroke="#111" stroke-width="0.5">d</text>
<text x="24.50" y="513.00" font-size="11" text-anchor="start" fill="#404040" font-style="italic">M. smegmatis</text>
<text x="0.00" y="710.40" font-size="14" text-anchor="start" fill="#111" font-weight="bold" stroke="#111" stroke-width="0.5">e</text>
<text x="358.50" y="710.00" font-size="14" text-anchor="start" fill="#111" font-weight="bold" stroke="#111" stroke-width="0.5">f</text>
</svg>
</body></html>
